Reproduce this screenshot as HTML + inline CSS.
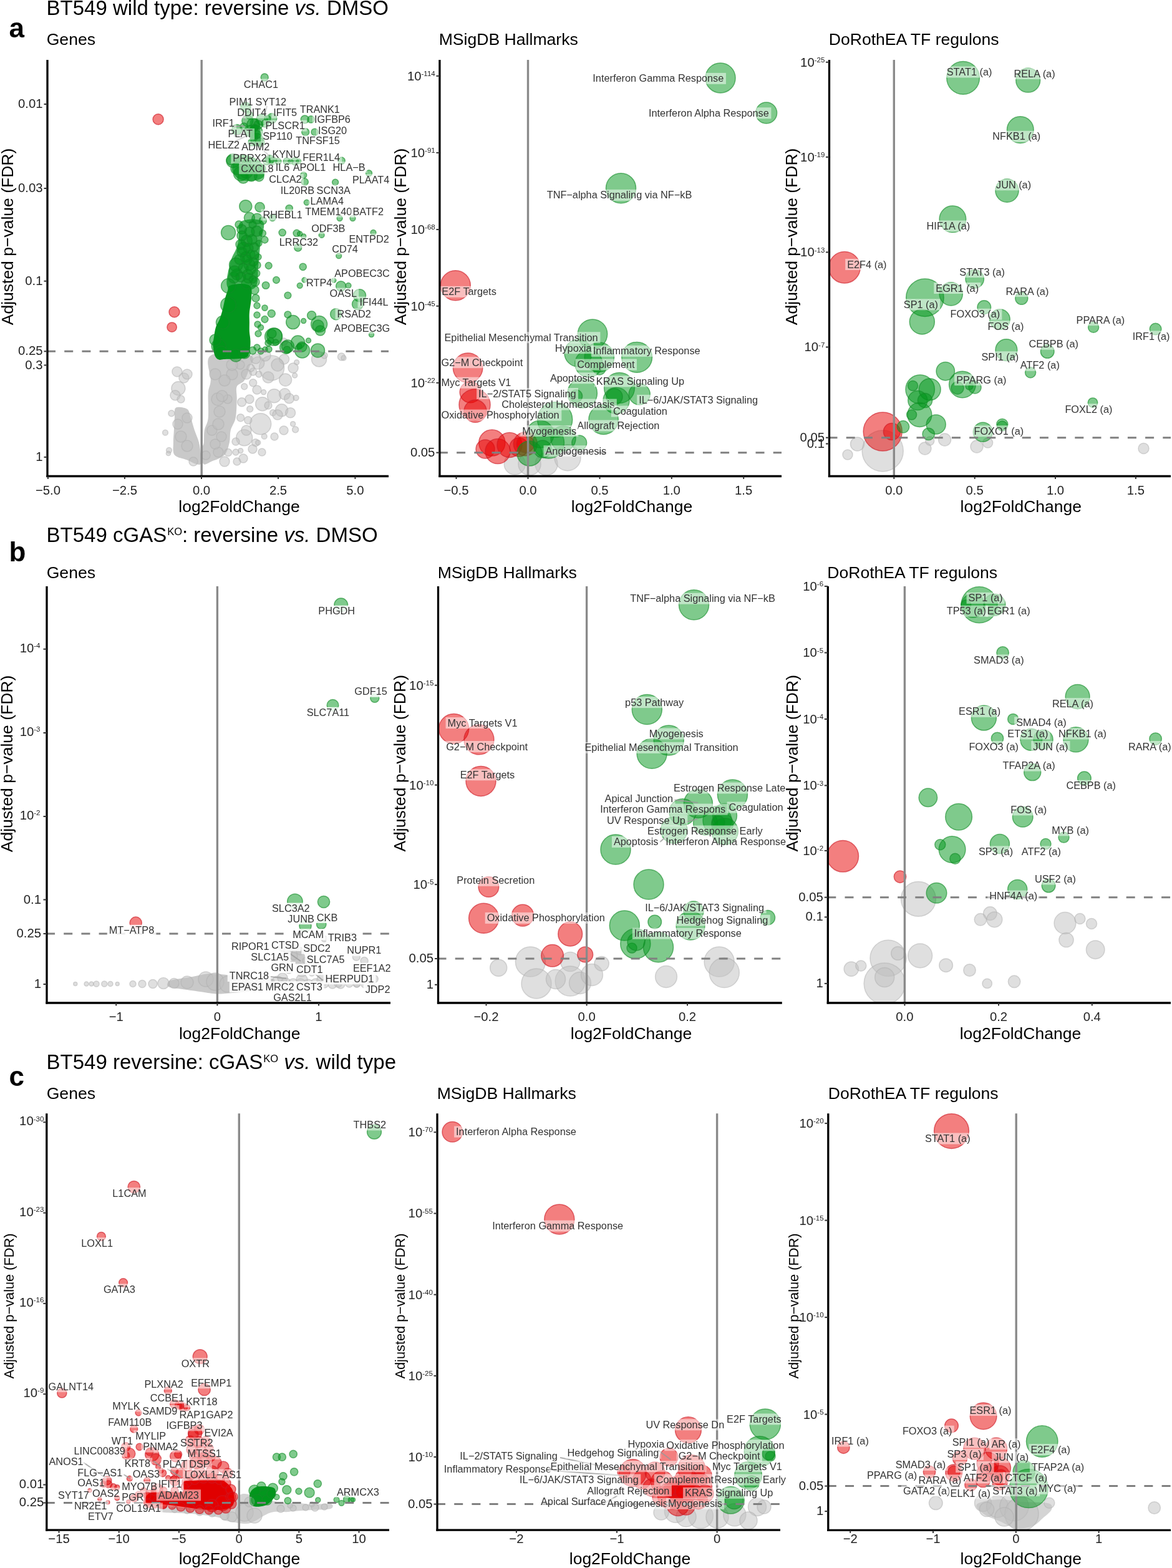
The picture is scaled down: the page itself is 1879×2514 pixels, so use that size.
<!DOCTYPE html><html><head><meta charset="utf-8"><title>Volcano plots</title><style>html,body{margin:0;padding:0;background:#fff;overflow:hidden}svg{display:block}text{font-family:"Liberation Sans", Arial, Helvetica, sans-serif}</style></head><body>
<svg width="1879" height="2514" viewBox="0 0 1879 2514">
<rect width="1879" height="2514" fill="#fff"/>
<text x="74.6" y="24.2" font-size="33" fill="#000">BT549 wild type: reversine <tspan font-style="italic">vs.</tspan> DMSO</text>
<text x="74.6" y="869" font-size="33" fill="#000">BT549 cGAS<tspan font-size="16.5" dy="-10.7" dx="1">KO</tspan><tspan dy="10.7">: reversine </tspan><tspan font-style="italic">vs.</tspan> DMSO</text>
<text x="74.6" y="1713.6" font-size="33" fill="#000">BT549 reversine: cGAS<tspan font-size="16.5" dy="-10.7" dx="1">KO</tspan><tspan dy="10.7"> </tspan><tspan font-style="italic">vs.</tspan> wild type</text>
<text x="14.5" y="60" font-size="44" font-weight="bold" fill="#000">a</text>
<text x="14.5" y="900" font-size="44" font-weight="bold" fill="#000">b</text>
<text x="14.5" y="1741" font-size="44" font-weight="bold" fill="#000">c</text>
<g>
<text x="74.7" y="72.3" font-size="26.6" fill="#000">Genes</text>
<text transform="translate(20.5,379.5) rotate(-90)" text-anchor="middle" font-size="26.5" fill="#000">Adjusted p−value (FDR)</text>
<text x="383.5" y="821.0" text-anchor="middle" font-size="26.5" fill="#000">log2FoldChange</text>
<clipPath id="cpa1"><rect x="76.0" y="94.0" width="550.0" height="669.5"/></clipPath>
<g clip-path="url(#cpa1)">
<path d="M337.8,569.9 C348.4,563.2 391.4,566.6 401.7,569.9 C412.0,573.2 401.4,583.2 399.7,589.9 C398.0,596.6 395.0,604.9 391.7,609.9 C388.4,614.9 381.7,614.8 379.7,619.8 C377.7,624.8 380.0,631.5 379.7,639.8 C379.4,648.1 379.4,661.4 377.8,669.7 C376.2,678.0 371.5,683.0 369.8,689.7 C368.1,696.4 369.5,703.1 367.8,709.7 C366.1,716.4 364.5,724.6 359.8,729.6 C355.1,734.6 345.5,737.3 339.8,739.6 C334.1,741.9 328.5,746.9 325.8,743.6 C323.1,740.3 323.6,725.4 323.8,719.7 C324.0,714.1 326.1,714.7 326.8,709.7 C327.5,704.7 326.6,696.4 327.8,689.7 C329.0,683.0 332.8,679.7 333.8,669.7 C334.8,659.7 333.1,639.8 333.8,629.8 C334.5,619.8 337.1,619.9 337.8,609.9 C338.5,599.9 327.2,576.6 337.8,569.9 Z" fill="#c9c9c9" fill-opacity="1.00"/>
<path d="M281.9,653.8 C285.2,651.5 295.9,653.1 299.9,655.8 C303.9,658.4 303.9,664.1 305.9,669.7 C307.9,675.4 309.9,683.7 311.9,689.7 C313.9,695.7 316.4,700.7 317.9,705.7 C319.4,710.7 320.1,713.7 320.9,719.7 C321.7,725.7 323.7,737.5 322.9,741.6 C322.1,745.8 319.7,745.3 315.9,744.6 C312.1,743.9 305.9,740.1 299.9,737.6 C293.9,735.1 283.6,734.2 279.9,729.6 C276.2,725.0 278.1,716.4 277.9,709.7 C277.7,703.1 278.6,696.4 278.9,689.7 C279.2,683.0 279.4,675.7 279.9,669.7 C280.4,663.7 278.6,656.1 281.9,653.8 Z" fill="#c9c9c9" fill-opacity="1.00"/>
<path d="M384.0,358.0 C386.5,353.3 393.3,353.0 398.0,352.0 C402.7,351.0 407.8,351.0 412.0,352.0 C416.2,353.0 421.7,353.3 423.0,358.0 C424.3,362.7 421.0,373.7 420.0,380.0 C419.0,386.3 418.0,388.0 417.0,396.0 C416.0,404.0 415.5,417.0 414.0,428.0 C412.5,439.0 416.0,456.3 408.0,462.0 C400.0,467.7 372.5,468.7 366.0,462.0 C359.5,455.3 366.8,432.7 369.0,422.0 C371.2,411.3 376.7,405.0 379.0,398.0 C381.3,391.0 382.2,386.7 383.0,380.0 C383.8,373.3 381.5,362.7 384.0,358.0 Z" fill="#03961e" fill-opacity="0.72"/>
<path d="M382.0,250.0 C386.7,246.7 393.7,248.0 400.0,250.0 C406.3,252.0 416.0,257.0 420.0,262.0 C424.0,267.0 424.8,275.7 424.0,280.0 C423.2,284.3 419.8,286.3 415.0,288.0 C410.2,289.7 400.8,290.5 395.0,290.0 C389.2,289.5 383.8,288.3 380.0,285.0 C376.2,281.7 371.7,275.8 372.0,270.0 C372.3,264.2 377.3,253.3 382.0,250.0 Z" fill="#03961e" fill-opacity="0.70"/>
<path d="M402.0,192.0 C403.8,189.5 409.5,188.7 412.0,190.0 C414.5,191.3 416.5,195.3 417.0,200.0 C417.5,204.7 416.3,213.7 415.0,218.0 C413.7,222.3 411.0,226.0 409.0,226.0 C407.0,226.0 404.3,221.5 403.0,218.0 C401.7,214.5 401.2,209.3 401.0,205.0 C400.8,200.7 400.2,194.5 402.0,192.0 Z" fill="#03961e" fill-opacity="0.60"/>
<path d="M368.0,458.0 C371.8,456.2 382.3,454.7 388.0,455.0 C393.7,455.3 399.5,456.1 402.0,460.0 C404.5,463.9 403.4,471.3 403.0,478.2 C402.6,485.1 400.4,494.9 399.9,501.3 C399.4,507.7 399.9,511.6 399.9,516.7 C399.9,521.8 399.6,526.9 399.9,532.0 C400.2,537.1 401.5,541.9 401.5,547.4 C401.5,552.9 401.2,560.6 399.7,565.0 C398.1,569.4 398.8,572.2 392.2,574.0 C385.6,575.8 366.9,575.6 360.0,576.0 C353.1,576.4 353.3,577.5 350.7,576.6 C348.1,575.7 346.1,574.1 344.6,570.5 C343.1,566.9 341.8,560.2 341.5,555.1 C341.2,550.0 342.3,544.8 343.1,539.7 C343.9,534.6 344.6,528.9 346.1,524.3 C347.6,519.7 350.2,516.7 352.0,512.0 C353.8,507.3 355.5,501.7 357.0,496.0 C358.5,490.3 359.7,483.0 361.0,478.0 C362.3,473.0 363.8,469.3 365.0,466.0 C366.2,462.7 364.2,459.8 368.0,458.0 Z" fill="#03961e" fill-opacity="1.00"/>
<circle cx="283.9" cy="595.9" r="8.0" fill="rgba(192,192,192,0.500)" stroke="rgba(175,175,175,0.5)" stroke-width="1.5"/>
<circle cx="294.9" cy="605.9" r="8.0" fill="rgba(192,192,192,0.500)" stroke="rgba(175,175,175,0.5)" stroke-width="1.5"/>
<circle cx="285.9" cy="622.8" r="11.0" fill="rgba(192,192,192,0.500)" stroke="rgba(175,175,175,0.5)" stroke-width="1.5"/>
<circle cx="280.9" cy="633.8" r="8.0" fill="rgba(192,192,192,0.500)" stroke="rgba(175,175,175,0.5)" stroke-width="1.5"/>
<circle cx="274.9" cy="662.8" r="5.0" fill="rgba(192,192,192,0.500)" stroke="rgba(175,175,175,0.5)" stroke-width="1.5"/>
<circle cx="265.0" cy="693.7" r="4.4" fill="rgba(192,192,192,0.500)" stroke="rgba(175,175,175,0.5)" stroke-width="1.5"/>
<circle cx="271.0" cy="722.0" r="4.4" fill="rgba(192,192,192,0.500)" stroke="rgba(175,175,175,0.5)" stroke-width="1.5"/>
<circle cx="270.0" cy="727.0" r="3.6" fill="rgba(192,192,192,0.500)" stroke="rgba(175,175,175,0.5)" stroke-width="1.5"/>
<circle cx="435.6" cy="589.9" r="20.0" fill="rgba(192,192,192,0.500)" stroke="rgba(175,175,175,0.5)" stroke-width="1.5"/>
<circle cx="413.7" cy="581.9" r="10.0" fill="rgba(192,192,192,0.500)" stroke="rgba(175,175,175,0.5)" stroke-width="1.5"/>
<circle cx="455.6" cy="575.9" r="8.0" fill="rgba(192,192,192,0.500)" stroke="rgba(175,175,175,0.5)" stroke-width="1.5"/>
<circle cx="511.5" cy="575.9" r="12.0" fill="rgba(192,192,192,0.500)" stroke="rgba(175,175,175,0.5)" stroke-width="1.5"/>
<circle cx="547.4" cy="571.9" r="6.0" fill="rgba(192,192,192,0.500)" stroke="rgba(175,175,175,0.5)" stroke-width="1.5"/>
<circle cx="551.0" cy="574.0" r="4.0" fill="rgba(192,192,192,0.500)" stroke="rgba(175,175,175,0.5)" stroke-width="1.5"/>
<circle cx="475.6" cy="580.9" r="4.0" fill="rgba(192,192,192,0.500)" stroke="rgba(175,175,175,0.5)" stroke-width="1.5"/>
<circle cx="457.6" cy="608.9" r="10.0" fill="rgba(192,192,192,0.500)" stroke="rgba(175,175,175,0.5)" stroke-width="1.5"/>
<circle cx="472.6" cy="602.0" r="4.0" fill="rgba(192,192,192,0.500)" stroke="rgba(175,175,175,0.5)" stroke-width="1.5"/>
<circle cx="405.7" cy="595.9" r="6.0" fill="rgba(192,192,192,0.500)" stroke="rgba(175,175,175,0.5)" stroke-width="1.5"/>
<circle cx="405.7" cy="613.8" r="6.0" fill="rgba(192,192,192,0.500)" stroke="rgba(175,175,175,0.5)" stroke-width="1.5"/>
<circle cx="391.7" cy="619.8" r="5.0" fill="rgba(192,192,192,0.500)" stroke="rgba(175,175,175,0.5)" stroke-width="1.5"/>
<circle cx="422.7" cy="628.8" r="4.0" fill="rgba(192,192,192,0.500)" stroke="rgba(175,175,175,0.5)" stroke-width="1.5"/>
<circle cx="439.6" cy="634.8" r="11.0" fill="rgba(192,192,192,0.500)" stroke="rgba(175,175,175,0.5)" stroke-width="1.5"/>
<circle cx="456.6" cy="631.8" r="9.0" fill="rgba(192,192,192,0.500)" stroke="rgba(175,175,175,0.5)" stroke-width="1.5"/>
<circle cx="463.6" cy="638.8" r="8.0" fill="rgba(192,192,192,0.500)" stroke="rgba(175,175,175,0.5)" stroke-width="1.5"/>
<circle cx="474.6" cy="637.8" r="4.4" fill="rgba(192,192,192,0.500)" stroke="rgba(175,175,175,0.5)" stroke-width="1.5"/>
<circle cx="420.7" cy="647.8" r="11.0" fill="rgba(192,192,192,0.500)" stroke="rgba(175,175,175,0.5)" stroke-width="1.5"/>
<circle cx="387.7" cy="644.8" r="7.0" fill="rgba(192,192,192,0.500)" stroke="rgba(175,175,175,0.5)" stroke-width="1.5"/>
<circle cx="400.7" cy="655.8" r="5.0" fill="rgba(192,192,192,0.500)" stroke="rgba(175,175,175,0.5)" stroke-width="1.5"/>
<circle cx="451.6" cy="657.8" r="10.0" fill="rgba(192,192,192,0.500)" stroke="rgba(175,175,175,0.5)" stroke-width="1.5"/>
<circle cx="465.6" cy="661.8" r="8.0" fill="rgba(192,192,192,0.500)" stroke="rgba(175,175,175,0.5)" stroke-width="1.5"/>
<circle cx="437.6" cy="661.8" r="5.0" fill="rgba(192,192,192,0.500)" stroke="rgba(175,175,175,0.5)" stroke-width="1.5"/>
<circle cx="417.7" cy="679.7" r="17.0" fill="rgba(192,192,192,0.500)" stroke="rgba(175,175,175,0.5)" stroke-width="1.5"/>
<circle cx="397.7" cy="673.7" r="6.0" fill="rgba(192,192,192,0.500)" stroke="rgba(175,175,175,0.5)" stroke-width="1.5"/>
<circle cx="385.7" cy="669.7" r="6.0" fill="rgba(192,192,192,0.500)" stroke="rgba(175,175,175,0.5)" stroke-width="1.5"/>
<circle cx="469.6" cy="679.7" r="4.0" fill="rgba(192,192,192,0.500)" stroke="rgba(175,175,175,0.5)" stroke-width="1.5"/>
<circle cx="473.6" cy="688.7" r="5.0" fill="rgba(192,192,192,0.500)" stroke="rgba(175,175,175,0.5)" stroke-width="1.5"/>
<circle cx="391.7" cy="701.7" r="13.0" fill="rgba(192,192,192,0.500)" stroke="rgba(175,175,175,0.5)" stroke-width="1.5"/>
<circle cx="423.7" cy="699.7" r="4.4" fill="rgba(192,192,192,0.500)" stroke="rgba(175,175,175,0.5)" stroke-width="1.5"/>
<circle cx="409.7" cy="709.7" r="6.0" fill="rgba(192,192,192,0.500)" stroke="rgba(175,175,175,0.5)" stroke-width="1.5"/>
<circle cx="413.7" cy="709.7" r="4.0" fill="rgba(192,192,192,0.500)" stroke="rgba(175,175,175,0.5)" stroke-width="1.5"/>
<circle cx="385.7" cy="722.7" r="4.0" fill="rgba(192,192,192,0.500)" stroke="rgba(175,175,175,0.5)" stroke-width="1.5"/>
<circle cx="365.8" cy="725.6" r="6.0" fill="rgba(192,192,192,0.500)" stroke="rgba(175,175,175,0.5)" stroke-width="1.5"/>
<circle cx="350.0" cy="725.0" r="8.0" fill="rgba(192,192,192,0.500)" stroke="rgba(175,175,175,0.5)" stroke-width="1.5"/>
<circle cx="345.0" cy="712.0" r="8.0" fill="rgba(192,192,192,0.500)" stroke="rgba(175,175,175,0.5)" stroke-width="1.5"/>
<circle cx="339.8" cy="690.0" r="8.0" fill="rgba(192,192,192,0.500)" stroke="rgba(175,175,175,0.5)" stroke-width="1.5"/>
<circle cx="365.0" cy="640.0" r="7.0" fill="rgba(192,192,192,0.500)" stroke="rgba(175,175,175,0.5)" stroke-width="1.5"/>
<circle cx="372.0" cy="600.0" r="9.0" fill="rgba(192,192,192,0.500)" stroke="rgba(175,175,175,0.5)" stroke-width="1.5"/>
<circle cx="349.0" cy="640.0" r="10.0" fill="rgba(192,192,192,0.500)" stroke="rgba(175,175,175,0.5)" stroke-width="1.5"/>
<circle cx="345.0" cy="600.0" r="9.0" fill="rgba(192,192,192,0.500)" stroke="rgba(175,175,175,0.5)" stroke-width="1.5"/>
<circle cx="330.0" cy="730.0" r="7.0" fill="rgba(192,192,192,0.500)" stroke="rgba(175,175,175,0.5)" stroke-width="1.5"/>
<circle cx="402.0" cy="590.0" r="6.0" fill="rgba(192,192,192,0.500)" stroke="rgba(175,175,175,0.5)" stroke-width="1.5"/>
<circle cx="415.0" cy="600.0" r="5.0" fill="rgba(192,192,192,0.500)" stroke="rgba(175,175,175,0.5)" stroke-width="1.5"/>
<circle cx="378.0" cy="708.0" r="6.0" fill="rgba(192,192,192,0.500)" stroke="rgba(175,175,175,0.5)" stroke-width="1.5"/>
<circle cx="378.0" cy="725.0" r="5.0" fill="rgba(192,192,192,0.500)" stroke="rgba(175,175,175,0.5)" stroke-width="1.5"/>
<circle cx="455.0" cy="548.0" r="6.0" fill="rgba(192,192,192,0.500)" stroke="rgba(175,175,175,0.5)" stroke-width="1.5"/>
<circle cx="520.0" cy="570.0" r="5.0" fill="rgba(192,192,192,0.500)" stroke="rgba(175,175,175,0.5)" stroke-width="1.5"/>
<circle cx="410.0" cy="575.0" r="8.0" fill="rgba(192,192,192,0.500)" stroke="rgba(175,175,175,0.5)" stroke-width="1.5"/>
<circle cx="425.0" cy="570.0" r="9.0" fill="rgba(192,192,192,0.500)" stroke="rgba(175,175,175,0.5)" stroke-width="1.5"/>
<circle cx="445.0" cy="585.0" r="10.0" fill="rgba(192,192,192,0.500)" stroke="rgba(175,175,175,0.5)" stroke-width="1.5"/>
<circle cx="470.0" cy="590.0" r="8.0" fill="rgba(192,192,192,0.500)" stroke="rgba(175,175,175,0.5)" stroke-width="1.5"/>
<circle cx="430.0" cy="605.0" r="9.0" fill="rgba(192,192,192,0.500)" stroke="rgba(175,175,175,0.5)" stroke-width="1.5"/>
<circle cx="395.0" cy="600.0" r="8.0" fill="rgba(192,192,192,0.500)" stroke="rgba(175,175,175,0.5)" stroke-width="1.5"/>
<circle cx="385.0" cy="585.0" r="7.0" fill="rgba(192,192,192,0.500)" stroke="rgba(175,175,175,0.5)" stroke-width="1.5"/>
<circle cx="412.0" cy="625.0" r="7.0" fill="rgba(192,192,192,0.500)" stroke="rgba(175,175,175,0.5)" stroke-width="1.5"/>
<circle cx="430.0" cy="650.0" r="6.0" fill="rgba(192,192,192,0.500)" stroke="rgba(175,175,175,0.5)" stroke-width="1.5"/>
<circle cx="445.0" cy="665.0" r="8.0" fill="rgba(192,192,192,0.500)" stroke="rgba(175,175,175,0.5)" stroke-width="1.5"/>
<circle cx="400.0" cy="640.0" r="7.0" fill="rgba(192,192,192,0.500)" stroke="rgba(175,175,175,0.5)" stroke-width="1.5"/>
<circle cx="395.0" cy="690.0" r="8.0" fill="rgba(192,192,192,0.500)" stroke="rgba(175,175,175,0.5)" stroke-width="1.5"/>
<circle cx="405.0" cy="720.0" r="7.0" fill="rgba(192,192,192,0.500)" stroke="rgba(175,175,175,0.5)" stroke-width="1.5"/>
<circle cx="420.0" cy="725.0" r="6.0" fill="rgba(192,192,192,0.500)" stroke="rgba(175,175,175,0.5)" stroke-width="1.5"/>
<circle cx="440.0" cy="700.0" r="6.0" fill="rgba(192,192,192,0.500)" stroke="rgba(175,175,175,0.5)" stroke-width="1.5"/>
<circle cx="455.0" cy="690.0" r="7.0" fill="rgba(192,192,192,0.500)" stroke="rgba(175,175,175,0.5)" stroke-width="1.5"/>
<circle cx="380.0" cy="740.0" r="6.0" fill="rgba(192,192,192,0.500)" stroke="rgba(175,175,175,0.5)" stroke-width="1.5"/>
<circle cx="390.0" cy="735.0" r="7.0" fill="rgba(192,192,192,0.500)" stroke="rgba(175,175,175,0.5)" stroke-width="1.5"/>
<circle cx="360.0" cy="740.0" r="8.0" fill="rgba(192,192,192,0.500)" stroke="rgba(175,175,175,0.5)" stroke-width="1.5"/>
<circle cx="355.0" cy="700.0" r="8.0" fill="rgba(192,192,192,0.500)" stroke="rgba(175,175,175,0.5)" stroke-width="1.5"/>
<circle cx="350.0" cy="680.0" r="9.0" fill="rgba(192,192,192,0.500)" stroke="rgba(175,175,175,0.5)" stroke-width="1.5"/>
<circle cx="352.0" cy="660.0" r="9.0" fill="rgba(192,192,192,0.500)" stroke="rgba(175,175,175,0.5)" stroke-width="1.5"/>
<circle cx="356.0" cy="635.0" r="9.0" fill="rgba(192,192,192,0.500)" stroke="rgba(175,175,175,0.5)" stroke-width="1.5"/>
<circle cx="360.0" cy="610.0" r="9.0" fill="rgba(192,192,192,0.500)" stroke="rgba(175,175,175,0.5)" stroke-width="1.5"/>
<circle cx="372.0" cy="585.0" r="9.0" fill="rgba(192,192,192,0.500)" stroke="rgba(175,175,175,0.5)" stroke-width="1.5"/>
<circle cx="290.0" cy="700.0" r="9.0" fill="rgba(192,192,192,0.500)" stroke="rgba(175,175,175,0.5)" stroke-width="1.5"/>
<circle cx="300.0" cy="715.0" r="9.0" fill="rgba(192,192,192,0.500)" stroke="rgba(175,175,175,0.5)" stroke-width="1.5"/>
<circle cx="285.0" cy="680.0" r="8.0" fill="rgba(192,192,192,0.500)" stroke="rgba(175,175,175,0.5)" stroke-width="1.5"/>
<circle cx="300.0" cy="670.0" r="8.0" fill="rgba(192,192,192,0.500)" stroke="rgba(175,175,175,0.5)" stroke-width="1.5"/>
<circle cx="300.0" cy="600.0" r="8.0" fill="rgba(192,192,192,0.500)" stroke="rgba(175,175,175,0.5)" stroke-width="1.5"/>
<circle cx="290.0" cy="640.0" r="6.0" fill="rgba(192,192,192,0.500)" stroke="rgba(175,175,175,0.5)" stroke-width="1.5"/>
<circle cx="310.0" cy="740.0" r="7.0" fill="rgba(192,192,192,0.500)" stroke="rgba(175,175,175,0.5)" stroke-width="1.5"/>
<circle cx="424.2" cy="124.0" r="6.0" fill="rgba(0,150,25,0.500)" stroke="rgba(20,140,40,0.62)" stroke-width="1.5"/>
<circle cx="393.8" cy="171.9" r="8.0" fill="rgba(0,150,25,0.500)" stroke="rgba(20,140,40,0.62)" stroke-width="1.5"/>
<circle cx="396.8" cy="193.8" r="9.0" fill="rgba(0,150,25,0.500)" stroke="rgba(20,140,40,0.62)" stroke-width="1.5"/>
<circle cx="405.8" cy="199.8" r="10.0" fill="rgba(0,150,25,0.500)" stroke="rgba(20,140,40,0.62)" stroke-width="1.5"/>
<circle cx="419.8" cy="191.8" r="9.0" fill="rgba(0,150,25,0.500)" stroke="rgba(20,140,40,0.62)" stroke-width="1.5"/>
<circle cx="435.8" cy="189.8" r="8.0" fill="rgba(0,150,25,0.500)" stroke="rgba(20,140,40,0.62)" stroke-width="1.5"/>
<circle cx="379.9" cy="207.8" r="8.4" fill="rgba(0,150,25,0.500)" stroke="rgba(20,140,40,0.62)" stroke-width="1.5"/>
<circle cx="409.8" cy="211.8" r="11.0" fill="rgba(0,150,25,0.500)" stroke="rgba(20,140,40,0.62)" stroke-width="1.5"/>
<circle cx="411.8" cy="223.8" r="10.0" fill="rgba(0,150,25,0.500)" stroke="rgba(20,140,40,0.62)" stroke-width="1.5"/>
<circle cx="401.0" cy="210.0" r="9.0" fill="rgba(0,150,25,0.500)" stroke="rgba(20,140,40,0.62)" stroke-width="1.5"/>
<circle cx="414.0" cy="200.0" r="7.0" fill="rgba(0,150,25,0.500)" stroke="rgba(20,140,40,0.62)" stroke-width="1.5"/>
<circle cx="408.0" cy="205.0" r="6.0" fill="rgba(0,150,25,0.500)" stroke="rgba(20,140,40,0.62)" stroke-width="1.5"/>
<circle cx="412.0" cy="215.0" r="6.0" fill="rgba(0,150,25,0.500)" stroke="rgba(20,140,40,0.62)" stroke-width="1.5"/>
<circle cx="406.0" cy="218.0" r="6.0" fill="rgba(0,150,25,0.500)" stroke="rgba(20,140,40,0.62)" stroke-width="1.5"/>
<circle cx="425.0" cy="198.0" r="6.0" fill="rgba(0,150,25,0.500)" stroke="rgba(20,140,40,0.62)" stroke-width="1.5"/>
<circle cx="429.0" cy="190.0" r="5.0" fill="rgba(0,150,25,0.500)" stroke="rgba(20,140,40,0.62)" stroke-width="1.5"/>
<circle cx="400.0" cy="185.0" r="6.0" fill="rgba(0,150,25,0.500)" stroke="rgba(20,140,40,0.62)" stroke-width="1.5"/>
<circle cx="391.0" cy="203.0" r="6.0" fill="rgba(0,150,25,0.500)" stroke="rgba(20,140,40,0.62)" stroke-width="1.5"/>
<circle cx="417.0" cy="228.0" r="7.0" fill="rgba(0,150,25,0.500)" stroke="rgba(20,140,40,0.62)" stroke-width="1.5"/>
<circle cx="404.0" cy="228.0" r="6.0" fill="rgba(0,150,25,0.500)" stroke="rgba(20,140,40,0.62)" stroke-width="1.5"/>
<circle cx="488.7" cy="191.4" r="6.4" fill="rgba(0,150,25,0.500)" stroke="rgba(20,140,40,0.62)" stroke-width="1.5"/>
<circle cx="498.6" cy="191.4" r="5.6" fill="rgba(0,150,25,0.500)" stroke="rgba(20,140,40,0.62)" stroke-width="1.5"/>
<circle cx="489.7" cy="211.8" r="6.0" fill="rgba(0,150,25,0.500)" stroke="rgba(20,140,40,0.62)" stroke-width="1.5"/>
<circle cx="504.6" cy="211.8" r="5.6" fill="rgba(0,150,25,0.500)" stroke="rgba(20,140,40,0.62)" stroke-width="1.5"/>
<circle cx="432.8" cy="255.7" r="7.0" fill="rgba(0,150,25,0.500)" stroke="rgba(20,140,40,0.62)" stroke-width="1.5"/>
<circle cx="438.0" cy="258.0" r="6.0" fill="rgba(0,150,25,0.500)" stroke="rgba(20,140,40,0.62)" stroke-width="1.5"/>
<circle cx="446.0" cy="258.7" r="5.0" fill="rgba(0,150,25,0.500)" stroke="rgba(20,140,40,0.62)" stroke-width="1.5"/>
<circle cx="459.7" cy="258.7" r="5.6" fill="rgba(0,150,25,0.500)" stroke="rgba(20,140,40,0.62)" stroke-width="1.5"/>
<circle cx="472.7" cy="258.7" r="6.0" fill="rgba(0,150,25,0.500)" stroke="rgba(20,140,40,0.62)" stroke-width="1.5"/>
<circle cx="466.0" cy="258.7" r="4.0" fill="rgba(0,150,25,0.500)" stroke="rgba(20,140,40,0.62)" stroke-width="1.5"/>
<circle cx="479.0" cy="258.7" r="4.0" fill="rgba(0,150,25,0.500)" stroke="rgba(20,140,40,0.62)" stroke-width="1.5"/>
<circle cx="547.6" cy="257.7" r="5.6" fill="rgba(0,150,25,0.500)" stroke="rgba(20,140,40,0.62)" stroke-width="1.5"/>
<circle cx="373.9" cy="257.7" r="11.0" fill="rgba(0,150,25,0.500)" stroke="rgba(20,140,40,0.62)" stroke-width="1.5"/>
<circle cx="370.7" cy="256.9" r="7.7" fill="rgba(0,150,25,0.500)" stroke="rgba(20,140,40,0.62)" stroke-width="1.5"/>
<circle cx="386.1" cy="278.4" r="11.5" fill="rgba(0,150,25,0.500)" stroke="rgba(20,140,40,0.62)" stroke-width="1.5"/>
<circle cx="380.0" cy="270.0" r="10.0" fill="rgba(0,150,25,0.500)" stroke="rgba(20,140,40,0.62)" stroke-width="1.5"/>
<circle cx="395.0" cy="276.0" r="10.0" fill="rgba(0,150,25,0.500)" stroke="rgba(20,140,40,0.62)" stroke-width="1.5"/>
<circle cx="403.0" cy="281.5" r="9.2" fill="rgba(0,150,25,0.500)" stroke="rgba(20,140,40,0.62)" stroke-width="1.5"/>
<circle cx="415.3" cy="283.0" r="7.7" fill="rgba(0,150,25,0.500)" stroke="rgba(20,140,40,0.62)" stroke-width="1.5"/>
<circle cx="390.0" cy="285.0" r="9.0" fill="rgba(0,150,25,0.500)" stroke="rgba(20,140,40,0.62)" stroke-width="1.5"/>
<circle cx="405.0" cy="272.0" r="7.0" fill="rgba(0,150,25,0.500)" stroke="rgba(20,140,40,0.62)" stroke-width="1.5"/>
<circle cx="420.0" cy="270.0" r="6.0" fill="rgba(0,150,25,0.500)" stroke="rgba(20,140,40,0.62)" stroke-width="1.5"/>
<circle cx="427.6" cy="258.4" r="6.0" fill="rgba(0,150,25,0.500)" stroke="rgba(20,140,40,0.62)" stroke-width="1.5"/>
<circle cx="395.0" cy="262.0" r="7.0" fill="rgba(0,150,25,0.500)" stroke="rgba(20,140,40,0.62)" stroke-width="1.5"/>
<circle cx="486.7" cy="280.7" r="5.0" fill="rgba(0,150,25,0.500)" stroke="rgba(20,140,40,0.62)" stroke-width="1.5"/>
<circle cx="488.7" cy="291.7" r="5.6" fill="rgba(0,150,25,0.500)" stroke="rgba(20,140,40,0.62)" stroke-width="1.5"/>
<circle cx="591.5" cy="277.7" r="5.0" fill="rgba(0,150,25,0.500)" stroke="rgba(20,140,40,0.62)" stroke-width="1.5"/>
<circle cx="537.6" cy="292.3" r="5.0" fill="rgba(0,150,25,0.500)" stroke="rgba(20,140,40,0.62)" stroke-width="1.5"/>
<circle cx="491.7" cy="324.6" r="4.4" fill="rgba(0,150,25,0.500)" stroke="rgba(20,140,40,0.62)" stroke-width="1.5"/>
<circle cx="393.8" cy="330.7" r="10.0" fill="rgba(0,150,25,0.500)" stroke="rgba(20,140,40,0.62)" stroke-width="1.5"/>
<circle cx="416.5" cy="332.2" r="7.7" fill="rgba(0,150,25,0.500)" stroke="rgba(20,140,40,0.62)" stroke-width="1.5"/>
<circle cx="399.9" cy="349.1" r="8.5" fill="rgba(0,150,25,0.500)" stroke="rgba(20,140,40,0.62)" stroke-width="1.5"/>
<circle cx="412.2" cy="350.7" r="8.5" fill="rgba(0,150,25,0.500)" stroke="rgba(20,140,40,0.62)" stroke-width="1.5"/>
<circle cx="421.4" cy="353.7" r="6.0" fill="rgba(0,150,25,0.500)" stroke="rgba(20,140,40,0.62)" stroke-width="1.5"/>
<circle cx="436.8" cy="349.1" r="5.4" fill="rgba(0,150,25,0.500)" stroke="rgba(20,140,40,0.62)" stroke-width="1.5"/>
<circle cx="463.7" cy="334.0" r="5.6" fill="rgba(0,150,25,0.500)" stroke="rgba(20,140,40,0.62)" stroke-width="1.5"/>
<circle cx="544.6" cy="350.0" r="4.4" fill="rgba(0,150,25,0.500)" stroke="rgba(20,140,40,0.62)" stroke-width="1.5"/>
<circle cx="565.5" cy="350.0" r="4.4" fill="rgba(0,150,25,0.500)" stroke="rgba(20,140,40,0.62)" stroke-width="1.5"/>
<circle cx="366.1" cy="373.0" r="11.5" fill="rgba(0,150,25,0.500)" stroke="rgba(20,140,40,0.62)" stroke-width="1.5"/>
<circle cx="387.6" cy="367.6" r="7.7" fill="rgba(0,150,25,0.500)" stroke="rgba(20,140,40,0.62)" stroke-width="1.5"/>
<circle cx="411.5" cy="370.6" r="8.5" fill="rgba(0,150,25,0.500)" stroke="rgba(20,140,40,0.62)" stroke-width="1.5"/>
<circle cx="421.0" cy="374.0" r="5.4" fill="rgba(0,150,25,0.500)" stroke="rgba(20,140,40,0.62)" stroke-width="1.5"/>
<circle cx="424.5" cy="384.5" r="5.4" fill="rgba(0,150,25,0.500)" stroke="rgba(20,140,40,0.62)" stroke-width="1.5"/>
<circle cx="395.3" cy="386.0" r="9.2" fill="rgba(0,150,25,0.500)" stroke="rgba(20,140,40,0.62)" stroke-width="1.5"/>
<circle cx="390.7" cy="398.3" r="10.0" fill="rgba(0,150,25,0.500)" stroke="rgba(20,140,40,0.62)" stroke-width="1.5"/>
<circle cx="407.6" cy="396.0" r="7.0" fill="rgba(0,150,25,0.500)" stroke="rgba(20,140,40,0.62)" stroke-width="1.5"/>
<circle cx="415.0" cy="390.0" r="5.0" fill="rgba(0,150,25,0.500)" stroke="rgba(20,140,40,0.62)" stroke-width="1.5"/>
<circle cx="452.7" cy="372.9" r="5.6" fill="rgba(0,150,25,0.500)" stroke="rgba(20,140,40,0.62)" stroke-width="1.5"/>
<circle cx="475.7" cy="373.9" r="5.6" fill="rgba(0,150,25,0.500)" stroke="rgba(20,140,40,0.62)" stroke-width="1.5"/>
<circle cx="480.7" cy="374.9" r="4.0" fill="rgba(0,150,25,0.500)" stroke="rgba(20,140,40,0.62)" stroke-width="1.5"/>
<circle cx="486.7" cy="378.9" r="4.0" fill="rgba(0,150,25,0.500)" stroke="rgba(20,140,40,0.62)" stroke-width="1.5"/>
<circle cx="515.6" cy="376.9" r="4.4" fill="rgba(0,150,25,0.500)" stroke="rgba(20,140,40,0.62)" stroke-width="1.5"/>
<circle cx="598.5" cy="372.9" r="4.4" fill="rgba(0,150,25,0.500)" stroke="rgba(20,140,40,0.62)" stroke-width="1.5"/>
<circle cx="477.7" cy="396.9" r="6.0" fill="rgba(0,150,25,0.500)" stroke="rgba(20,140,40,0.62)" stroke-width="1.5"/>
<circle cx="543.2" cy="410.2" r="4.4" fill="rgba(0,150,25,0.500)" stroke="rgba(20,140,40,0.62)" stroke-width="1.5"/>
<circle cx="407.6" cy="409.1" r="7.0" fill="rgba(0,150,25,0.500)" stroke="rgba(20,140,40,0.62)" stroke-width="1.5"/>
<circle cx="393.8" cy="412.0" r="8.5" fill="rgba(0,150,25,0.500)" stroke="rgba(20,140,40,0.62)" stroke-width="1.5"/>
<circle cx="378.4" cy="424.4" r="10.8" fill="rgba(0,150,25,0.500)" stroke="rgba(20,140,40,0.62)" stroke-width="1.5"/>
<circle cx="399.9" cy="424.4" r="9.2" fill="rgba(0,150,25,0.500)" stroke="rgba(20,140,40,0.62)" stroke-width="1.5"/>
<circle cx="410.7" cy="438.3" r="6.0" fill="rgba(0,150,25,0.500)" stroke="rgba(20,140,40,0.62)" stroke-width="1.5"/>
<circle cx="380.0" cy="440.0" r="9.0" fill="rgba(0,150,25,0.500)" stroke="rgba(20,140,40,0.62)" stroke-width="1.5"/>
<circle cx="397.0" cy="440.0" r="8.0" fill="rgba(0,150,25,0.500)" stroke="rgba(20,140,40,0.62)" stroke-width="1.5"/>
<circle cx="430.7" cy="426.0" r="5.4" fill="rgba(0,150,25,0.500)" stroke="rgba(20,140,40,0.62)" stroke-width="1.5"/>
<circle cx="485.7" cy="427.8" r="5.6" fill="rgba(0,150,25,0.500)" stroke="rgba(20,140,40,0.62)" stroke-width="1.5"/>
<circle cx="443.0" cy="449.0" r="5.4" fill="rgba(0,150,25,0.500)" stroke="rgba(20,140,40,0.62)" stroke-width="1.5"/>
<circle cx="426.1" cy="457.5" r="5.8" fill="rgba(0,150,25,0.500)" stroke="rgba(20,140,40,0.62)" stroke-width="1.5"/>
<circle cx="366.1" cy="458.3" r="11.5" fill="rgba(0,150,25,0.500)" stroke="rgba(20,140,40,0.62)" stroke-width="1.5"/>
<circle cx="409.0" cy="452.0" r="7.0" fill="rgba(0,150,25,0.500)" stroke="rgba(20,140,40,0.62)" stroke-width="1.5"/>
<circle cx="408.0" cy="465.0" r="7.0" fill="rgba(0,150,25,0.500)" stroke="rgba(20,140,40,0.62)" stroke-width="1.5"/>
<circle cx="410.0" cy="478.0" r="6.0" fill="rgba(0,150,25,0.500)" stroke="rgba(20,140,40,0.62)" stroke-width="1.5"/>
<circle cx="412.0" cy="490.0" r="5.0" fill="rgba(0,150,25,0.500)" stroke="rgba(20,140,40,0.62)" stroke-width="1.5"/>
<circle cx="412.0" cy="505.0" r="5.0" fill="rgba(0,150,25,0.500)" stroke="rgba(20,140,40,0.62)" stroke-width="1.5"/>
<circle cx="413.0" cy="520.0" r="5.0" fill="rgba(0,150,25,0.500)" stroke="rgba(20,140,40,0.62)" stroke-width="1.5"/>
<circle cx="414.0" cy="535.0" r="5.0" fill="rgba(0,150,25,0.500)" stroke="rgba(20,140,40,0.62)" stroke-width="1.5"/>
<circle cx="480.7" cy="457.8" r="4.4" fill="rgba(0,150,25,0.500)" stroke="rgba(20,140,40,0.62)" stroke-width="1.5"/>
<circle cx="488.0" cy="449.0" r="4.0" fill="rgba(0,150,25,0.500)" stroke="rgba(20,140,40,0.62)" stroke-width="1.5"/>
<circle cx="535.2" cy="449.4" r="3.6" fill="rgba(0,150,25,0.500)" stroke="rgba(20,140,40,0.62)" stroke-width="1.5"/>
<circle cx="546.6" cy="458.8" r="8.0" fill="rgba(0,150,25,0.500)" stroke="rgba(20,140,40,0.62)" stroke-width="1.5"/>
<circle cx="558.5" cy="457.8" r="4.4" fill="rgba(0,150,25,0.500)" stroke="rgba(20,140,40,0.62)" stroke-width="1.5"/>
<circle cx="576.5" cy="473.7" r="10.0" fill="rgba(0,150,25,0.500)" stroke="rgba(20,140,40,0.62)" stroke-width="1.5"/>
<circle cx="573.5" cy="487.7" r="9.0" fill="rgba(0,150,25,0.500)" stroke="rgba(20,140,40,0.62)" stroke-width="1.5"/>
<circle cx="461.4" cy="473.6" r="5.4" fill="rgba(0,150,25,0.500)" stroke="rgba(20,140,40,0.62)" stroke-width="1.5"/>
<circle cx="366.1" cy="489.0" r="12.3" fill="rgba(0,150,25,0.500)" stroke="rgba(20,140,40,0.62)" stroke-width="1.5"/>
<circle cx="424.5" cy="493.6" r="4.6" fill="rgba(0,150,25,0.500)" stroke="rgba(20,140,40,0.62)" stroke-width="1.5"/>
<circle cx="435.3" cy="502.8" r="6.0" fill="rgba(0,150,25,0.500)" stroke="rgba(20,140,40,0.62)" stroke-width="1.5"/>
<circle cx="461.4" cy="504.4" r="5.4" fill="rgba(0,150,25,0.500)" stroke="rgba(20,140,40,0.62)" stroke-width="1.5"/>
<circle cx="424.5" cy="512.0" r="5.4" fill="rgba(0,150,25,0.500)" stroke="rgba(20,140,40,0.62)" stroke-width="1.5"/>
<circle cx="418.0" cy="525.0" r="4.6" fill="rgba(0,150,25,0.500)" stroke="rgba(20,140,40,0.62)" stroke-width="1.5"/>
<circle cx="499.6" cy="505.7" r="7.0" fill="rgba(0,150,25,0.500)" stroke="rgba(20,140,40,0.62)" stroke-width="1.5"/>
<circle cx="469.7" cy="516.6" r="11.0" fill="rgba(0,150,25,0.500)" stroke="rgba(20,140,40,0.62)" stroke-width="1.5"/>
<circle cx="486.7" cy="514.6" r="4.0" fill="rgba(0,150,25,0.500)" stroke="rgba(20,140,40,0.62)" stroke-width="1.5"/>
<circle cx="511.6" cy="519.6" r="13.0" fill="rgba(0,150,25,0.500)" stroke="rgba(20,140,40,0.62)" stroke-width="1.5"/>
<circle cx="510.0" cy="522.0" r="9.0" fill="rgba(0,150,25,0.500)" stroke="rgba(20,140,40,0.62)" stroke-width="1.5"/>
<circle cx="538.6" cy="503.7" r="9.0" fill="rgba(0,150,25,0.500)" stroke="rgba(20,140,40,0.62)" stroke-width="1.5"/>
<circle cx="439.9" cy="538.2" r="12.3" fill="rgba(0,150,25,0.500)" stroke="rgba(20,140,40,0.62)" stroke-width="1.5"/>
<circle cx="436.0" cy="535.0" r="7.0" fill="rgba(0,150,25,0.500)" stroke="rgba(20,140,40,0.62)" stroke-width="1.5"/>
<circle cx="430.0" cy="550.0" r="5.0" fill="rgba(0,150,25,0.500)" stroke="rgba(20,140,40,0.62)" stroke-width="1.5"/>
<circle cx="461.4" cy="555.1" r="10.0" fill="rgba(0,150,25,0.500)" stroke="rgba(20,140,40,0.62)" stroke-width="1.5"/>
<circle cx="595.5" cy="536.6" r="4.0" fill="rgba(0,150,25,0.500)" stroke="rgba(20,140,40,0.62)" stroke-width="1.5"/>
<circle cx="350.7" cy="555.1" r="11.5" fill="rgba(0,150,25,0.500)" stroke="rgba(20,140,40,0.62)" stroke-width="1.5"/>
<circle cx="357.0" cy="517.0" r="10.5" fill="rgba(0,150,25,0.500)" stroke="rgba(20,140,40,0.62)" stroke-width="1.5"/>
<circle cx="345.0" cy="545.0" r="9.0" fill="rgba(0,150,25,0.500)" stroke="rgba(20,140,40,0.62)" stroke-width="1.5"/>
<circle cx="355.0" cy="565.0" r="10.0" fill="rgba(0,150,25,0.500)" stroke="rgba(20,140,40,0.62)" stroke-width="1.5"/>
<circle cx="378.0" cy="570.0" r="10.0" fill="rgba(0,150,25,0.500)" stroke="rgba(20,140,40,0.62)" stroke-width="1.5"/>
<circle cx="392.0" cy="566.0" r="9.0" fill="rgba(0,150,25,0.500)" stroke="rgba(20,140,40,0.62)" stroke-width="1.5"/>
<circle cx="480.0" cy="555.0" r="4.0" fill="rgba(0,150,25,0.500)" stroke="rgba(20,140,40,0.62)" stroke-width="1.5"/>
<circle cx="438.6" cy="540.0" r="14.0" fill="rgba(0,150,25,0.500)" stroke="rgba(20,140,40,0.62)" stroke-width="1.5"/>
<circle cx="434.0" cy="546.0" r="5.0" fill="rgba(0,150,25,0.500)" stroke="rgba(20,140,40,0.62)" stroke-width="1.5"/>
<circle cx="442.0" cy="549.0" r="5.0" fill="rgba(0,150,25,0.500)" stroke="rgba(20,140,40,0.62)" stroke-width="1.5"/>
<circle cx="458.6" cy="557.0" r="10.0" fill="rgba(0,150,25,0.500)" stroke="rgba(20,140,40,0.62)" stroke-width="1.5"/>
<circle cx="460.0" cy="561.0" r="6.0" fill="rgba(0,150,25,0.500)" stroke="rgba(20,140,40,0.62)" stroke-width="1.5"/>
<circle cx="477.6" cy="549.0" r="11.0" fill="rgba(0,150,25,0.500)" stroke="rgba(20,140,40,0.62)" stroke-width="1.5"/>
<circle cx="484.6" cy="561.9" r="12.0" fill="rgba(0,150,25,0.500)" stroke="rgba(20,140,40,0.62)" stroke-width="1.5"/>
<circle cx="484.0" cy="556.0" r="8.0" fill="rgba(0,150,25,0.500)" stroke="rgba(20,140,40,0.62)" stroke-width="1.5"/>
<circle cx="494.5" cy="546.0" r="4.0" fill="rgba(0,150,25,0.500)" stroke="rgba(20,140,40,0.62)" stroke-width="1.5"/>
<circle cx="509.5" cy="561.9" r="11.0" fill="rgba(0,150,25,0.500)" stroke="rgba(20,140,40,0.62)" stroke-width="1.5"/>
<circle cx="513.5" cy="530.0" r="8.0" fill="rgba(0,150,25,0.500)" stroke="rgba(20,140,40,0.62)" stroke-width="1.5"/>
<circle cx="405.0" cy="562.0" r="6.0" fill="rgba(0,150,25,0.500)" stroke="rgba(20,140,40,0.62)" stroke-width="1.5"/>
<circle cx="412.0" cy="557.0" r="5.0" fill="rgba(0,150,25,0.500)" stroke="rgba(20,140,40,0.62)" stroke-width="1.5"/>
<circle cx="418.0" cy="563.0" r="5.0" fill="rgba(0,150,25,0.500)" stroke="rgba(20,140,40,0.62)" stroke-width="1.5"/>
<circle cx="425.0" cy="560.0" r="4.0" fill="rgba(0,150,25,0.500)" stroke="rgba(20,140,40,0.62)" stroke-width="1.5"/>
<circle cx="431.0" cy="560.0" r="5.0" fill="rgba(0,150,25,0.500)" stroke="rgba(20,140,40,0.62)" stroke-width="1.5"/>
<circle cx="388.0" cy="378.0" r="8.0" fill="rgba(0,150,25,0.500)" stroke="rgba(20,140,40,0.62)" stroke-width="1.5"/>
<circle cx="400.0" cy="372.0" r="8.0" fill="rgba(0,150,25,0.500)" stroke="rgba(20,140,40,0.62)" stroke-width="1.5"/>
<circle cx="404.0" cy="384.0" r="8.0" fill="rgba(0,150,25,0.500)" stroke="rgba(20,140,40,0.62)" stroke-width="1.5"/>
<circle cx="386.0" cy="392.0" r="8.0" fill="rgba(0,150,25,0.500)" stroke="rgba(20,140,40,0.62)" stroke-width="1.5"/>
<circle cx="398.0" cy="398.0" r="8.0" fill="rgba(0,150,25,0.500)" stroke="rgba(20,140,40,0.62)" stroke-width="1.5"/>
<circle cx="402.0" cy="408.0" r="7.0" fill="rgba(0,150,25,0.500)" stroke="rgba(20,140,40,0.62)" stroke-width="1.5"/>
<circle cx="388.0" cy="404.0" r="8.0" fill="rgba(0,150,25,0.500)" stroke="rgba(20,140,40,0.62)" stroke-width="1.5"/>
<circle cx="384.0" cy="416.0" r="8.0" fill="rgba(0,150,25,0.500)" stroke="rgba(20,140,40,0.62)" stroke-width="1.5"/>
<circle cx="396.0" cy="416.0" r="8.0" fill="rgba(0,150,25,0.500)" stroke="rgba(20,140,40,0.62)" stroke-width="1.5"/>
<circle cx="406.0" cy="420.0" r="7.0" fill="rgba(0,150,25,0.500)" stroke="rgba(20,140,40,0.62)" stroke-width="1.5"/>
<circle cx="390.0" cy="430.0" r="8.0" fill="rgba(0,150,25,0.500)" stroke="rgba(20,140,40,0.62)" stroke-width="1.5"/>
<circle cx="402.0" cy="432.0" r="8.0" fill="rgba(0,150,25,0.500)" stroke="rgba(20,140,40,0.62)" stroke-width="1.5"/>
<circle cx="386.0" cy="444.0" r="8.0" fill="rgba(0,150,25,0.500)" stroke="rgba(20,140,40,0.62)" stroke-width="1.5"/>
<circle cx="398.0" cy="446.0" r="8.0" fill="rgba(0,150,25,0.500)" stroke="rgba(20,140,40,0.62)" stroke-width="1.5"/>
<circle cx="375.0" cy="445.0" r="9.0" fill="rgba(0,150,25,0.500)" stroke="rgba(20,140,40,0.62)" stroke-width="1.5"/>
<circle cx="395.0" cy="455.0" r="8.0" fill="rgba(0,150,25,0.500)" stroke="rgba(20,140,40,0.62)" stroke-width="1.5"/>
<circle cx="405.0" cy="448.0" r="6.0" fill="rgba(0,150,25,0.500)" stroke="rgba(20,140,40,0.62)" stroke-width="1.5"/>
<circle cx="412.0" cy="425.0" r="6.0" fill="rgba(0,150,25,0.500)" stroke="rgba(20,140,40,0.62)" stroke-width="1.5"/>
<circle cx="414.0" cy="412.0" r="5.0" fill="rgba(0,150,25,0.500)" stroke="rgba(20,140,40,0.62)" stroke-width="1.5"/>
<circle cx="383.0" cy="360.0" r="6.0" fill="rgba(0,150,25,0.500)" stroke="rgba(20,140,40,0.62)" stroke-width="1.5"/>
<circle cx="405.0" cy="360.0" r="6.0" fill="rgba(0,150,25,0.500)" stroke="rgba(20,140,40,0.62)" stroke-width="1.5"/>
<circle cx="376.0" cy="435.0" r="9.0" fill="rgba(0,150,25,0.500)" stroke="rgba(20,140,40,0.62)" stroke-width="1.5"/>
<circle cx="253.6" cy="191.2" r="8.5" fill="rgba(232,0,0,0.500)" stroke="rgba(205,25,35,0.62)" stroke-width="1.5"/>
<circle cx="279.5" cy="500.2" r="8.5" fill="rgba(232,0,0,0.500)" stroke="rgba(205,25,35,0.62)" stroke-width="1.5"/>
<circle cx="275.6" cy="524.6" r="7.7" fill="rgba(232,0,0,0.500)" stroke="rgba(205,25,35,0.62)" stroke-width="1.5"/>
<line x1="323.2" y1="96.0" x2="323.2" y2="763.5" stroke="#8a8a8a" stroke-width="3.4"/>
<line x1="75.0" y1="563.3" x2="623.0" y2="563.3" stroke="#808080" stroke-width="3" stroke-dasharray="14 14.2"/>
<line x1="374.0" y1="203.0" x2="392.0" y2="202.0" stroke="#999" stroke-width="2" stroke-opacity="0.8"/>
<line x1="390.0" y1="183.0" x2="392.0" y2="192.0" stroke="#999" stroke-width="2" stroke-opacity="0.8"/>
<line x1="428.0" y1="170.0" x2="424.0" y2="186.0" stroke="#999" stroke-width="2" stroke-opacity="0.8"/>
<line x1="365.0" y1="232.0" x2="395.0" y2="218.0" stroke="#999" stroke-width="2" stroke-opacity="0.8"/>
<line x1="375.0" y1="218.0" x2="392.0" y2="214.0" stroke="#999" stroke-width="2" stroke-opacity="0.8"/>
<line x1="423.0" y1="242.0" x2="432.0" y2="250.0" stroke="#999" stroke-width="2" stroke-opacity="0.8"/>
</g>
<g>
<rect x="387.8" y="126.4" width="61.4" height="18" fill="#fff" fill-opacity="0.50"/>
<text x="390.8" y="140.9" font-size="16.3" fill="#333">CHAC1</text>
<rect x="364.5" y="154.4" width="44.1" height="18" fill="#fff" fill-opacity="0.50"/>
<text x="367.5" y="168.9" font-size="16.3" fill="#333">PIM1</text>
<rect x="406.4" y="154.4" width="55.9" height="18" fill="#fff" fill-opacity="0.50"/>
<text x="409.4" y="168.9" font-size="16.3" fill="#333">SYT12</text>
<rect x="377.3" y="171.7" width="53.2" height="18" fill="#fff" fill-opacity="0.50"/>
<text x="380.3" y="186.2" font-size="16.3" fill="#333">DDIT4</text>
<rect x="435.2" y="171.7" width="44.1" height="18" fill="#fff" fill-opacity="0.50"/>
<text x="438.2" y="186.2" font-size="16.3" fill="#333">IFIT5</text>
<rect x="477.7" y="166.0" width="70.4" height="18" fill="#fff" fill-opacity="0.50"/>
<text x="480.7" y="180.5" font-size="16.3" fill="#333">TRANK1</text>
<rect x="501.0" y="182.9" width="64.1" height="18" fill="#fff" fill-opacity="0.50"/>
<text x="504.0" y="197.4" font-size="16.3" fill="#333">IGFBP6</text>
<rect x="337.5" y="188.9" width="41.4" height="18" fill="#fff" fill-opacity="0.50"/>
<text x="340.5" y="203.4" font-size="16.3" fill="#333">IRF1</text>
<rect x="422.4" y="192.7" width="69.5" height="18" fill="#fff" fill-opacity="0.50"/>
<text x="425.4" y="207.2" font-size="16.3" fill="#333">PLSCR1</text>
<rect x="507.0" y="200.3" width="52.3" height="18" fill="#fff" fill-opacity="0.50"/>
<text x="510.0" y="214.8" font-size="16.3" fill="#333">ISG20</text>
<rect x="362.5" y="205.9" width="45.6" height="18" fill="#fff" fill-opacity="0.50"/>
<text x="365.5" y="220.4" font-size="16.3" fill="#333">PLAT</text>
<rect x="418.2" y="209.7" width="53.8" height="18" fill="#fff" fill-opacity="0.50"/>
<text x="421.2" y="224.2" font-size="16.3" fill="#333">SP110</text>
<rect x="471.3" y="216.7" width="76.8" height="18" fill="#fff" fill-opacity="0.50"/>
<text x="474.3" y="231.2" font-size="16.3" fill="#333">TNFSF15</text>
<rect x="330.5" y="223.3" width="56.8" height="18" fill="#fff" fill-opacity="0.50"/>
<text x="333.5" y="237.8" font-size="16.3" fill="#333">HELZ2</text>
<rect x="384.2" y="226.8" width="51.4" height="18" fill="#fff" fill-opacity="0.50"/>
<text x="387.2" y="241.3" font-size="16.3" fill="#333">ADM2</text>
<rect x="433.4" y="238.6" width="51.4" height="18" fill="#fff" fill-opacity="0.50"/>
<text x="436.4" y="253.1" font-size="16.3" fill="#333">KYNU</text>
<rect x="482.3" y="243.2" width="65.9" height="18" fill="#fff" fill-opacity="0.50"/>
<text x="485.3" y="257.7" font-size="16.3" fill="#333">FER1L4</text>
<rect x="370.3" y="244.2" width="60.4" height="18" fill="#fff" fill-opacity="0.50"/>
<text x="373.3" y="258.7" font-size="16.3" fill="#333">PRRX2</text>
<rect x="383.2" y="261.2" width="58.6" height="18" fill="#fff" fill-opacity="0.50"/>
<text x="386.2" y="275.7" font-size="16.3" fill="#333">CXCL8</text>
<rect x="438.7" y="259.2" width="28.7" height="18" fill="#fff" fill-opacity="0.50"/>
<text x="441.7" y="273.7" font-size="16.3" fill="#333">IL6</text>
<rect x="466.7" y="259.2" width="58.6" height="18" fill="#fff" fill-opacity="0.50"/>
<text x="469.7" y="273.7" font-size="16.3" fill="#333">APOL1</text>
<rect x="530.6" y="259.2" width="58.2" height="18" fill="#fff" fill-opacity="0.50"/>
<text x="533.6" y="273.7" font-size="16.3" fill="#333">HLA−B</text>
<rect x="428.2" y="278.8" width="58.6" height="18" fill="#fff" fill-opacity="0.50"/>
<text x="431.2" y="293.3" font-size="16.3" fill="#333">CLCA2</text>
<rect x="561.9" y="279.2" width="65.6" height="18" fill="#fff" fill-opacity="0.50"/>
<text x="564.9" y="293.7" font-size="16.3" fill="#333">PLAAT4</text>
<rect x="446.7" y="296.1" width="60.5" height="18" fill="#fff" fill-opacity="0.50"/>
<text x="449.7" y="310.6" font-size="16.3" fill="#333">IL20RB</text>
<rect x="504.6" y="296.1" width="60.4" height="18" fill="#fff" fill-opacity="0.50"/>
<text x="507.6" y="310.6" font-size="16.3" fill="#333">SCN3A</text>
<rect x="494.6" y="313.1" width="59.5" height="18" fill="#fff" fill-opacity="0.50"/>
<text x="497.6" y="327.6" font-size="16.3" fill="#333">LAMA4</text>
<rect x="486.3" y="330.5" width="81.3" height="18" fill="#fff" fill-opacity="0.50"/>
<text x="489.3" y="345.0" font-size="16.3" fill="#333">TMEM140</text>
<rect x="562.5" y="330.5" width="55.6" height="18" fill="#fff" fill-opacity="0.50"/>
<text x="565.5" y="345.0" font-size="16.3" fill="#333">BATF2</text>
<rect x="418.4" y="335.5" width="69.5" height="18" fill="#fff" fill-opacity="0.50"/>
<text x="421.4" y="350.0" font-size="16.3" fill="#333">RHEBL1</text>
<rect x="496.2" y="357.0" width="60.4" height="18" fill="#fff" fill-opacity="0.50"/>
<text x="499.2" y="371.5" font-size="16.3" fill="#333">ODF3B</text>
<rect x="556.5" y="374.4" width="70.4" height="18" fill="#fff" fill-opacity="0.50"/>
<text x="559.5" y="388.9" font-size="16.3" fill="#333">ENTPD2</text>
<rect x="444.7" y="379.4" width="68.6" height="18" fill="#fff" fill-opacity="0.50"/>
<text x="447.7" y="393.9" font-size="16.3" fill="#333">LRRC32</text>
<rect x="529.2" y="390.3" width="47.8" height="18" fill="#fff" fill-opacity="0.50"/>
<text x="532.2" y="404.8" font-size="16.3" fill="#333">CD74</text>
<rect x="533.2" y="429.7" width="94.9" height="18" fill="#fff" fill-opacity="0.50"/>
<text x="536.2" y="444.2" font-size="16.3" fill="#333">APOBEC3C</text>
<rect x="488.1" y="444.7" width="47.5" height="18" fill="#fff" fill-opacity="0.50"/>
<text x="491.1" y="459.2" font-size="16.3" fill="#333">RTP4</text>
<rect x="525.6" y="461.6" width="49.6" height="18" fill="#fff" fill-opacity="0.50"/>
<text x="528.6" y="476.1" font-size="16.3" fill="#333">OASL</text>
<rect x="573.5" y="475.6" width="52.3" height="18" fill="#fff" fill-opacity="0.50"/>
<text x="576.5" y="490.1" font-size="16.3" fill="#333">IFI44L</text>
<rect x="537.6" y="494.2" width="60.4" height="18" fill="#fff" fill-opacity="0.50"/>
<text x="540.6" y="508.7" font-size="16.3" fill="#333">RSAD2</text>
<rect x="532.6" y="517.1" width="95.8" height="18" fill="#fff" fill-opacity="0.50"/>
<text x="535.6" y="531.6" font-size="16.3" fill="#333">APOBEC3G</text>
</g>
<line x1="76.0" y1="96.0" x2="76.0" y2="765.1" stroke="#000" stroke-width="3.3"/>
<line x1="74.4" y1="763.5" x2="623.0" y2="763.5" stroke="#000" stroke-width="3.3"/>
<line x1="76.9" y1="763.5" x2="76.9" y2="768.0" stroke="#333" stroke-width="2"/>
<text x="76.9" y="792.5" text-anchor="middle" font-size="20.3" fill="#222">−5.0</text>
<line x1="199.9" y1="763.5" x2="199.9" y2="768.0" stroke="#333" stroke-width="2"/>
<text x="199.9" y="792.5" text-anchor="middle" font-size="20.3" fill="#222">−2.5</text>
<line x1="323.0" y1="763.5" x2="323.0" y2="768.0" stroke="#333" stroke-width="2"/>
<text x="323.0" y="792.5" text-anchor="middle" font-size="20.3" fill="#222">0.0</text>
<line x1="446.0" y1="763.5" x2="446.0" y2="768.0" stroke="#333" stroke-width="2"/>
<text x="446.0" y="792.5" text-anchor="middle" font-size="20.3" fill="#222">2.5</text>
<line x1="569.4" y1="763.5" x2="569.4" y2="768.0" stroke="#333" stroke-width="2"/>
<text x="569.4" y="792.5" text-anchor="middle" font-size="20.3" fill="#222">5.0</text>
<line x1="70.5" y1="167.0" x2="76.0" y2="167.0" stroke="#333" stroke-width="2"/>
<text x="68.5" y="173.0" text-anchor="end" font-size="20.3" fill="#222">0.01</text>
<line x1="70.5" y1="302.0" x2="76.0" y2="302.0" stroke="#333" stroke-width="2"/>
<text x="68.5" y="308.0" text-anchor="end" font-size="20.3" fill="#222">0.03</text>
<line x1="70.5" y1="450.7" x2="76.0" y2="450.7" stroke="#333" stroke-width="2"/>
<text x="68.5" y="456.7" text-anchor="end" font-size="20.3" fill="#222">0.1</text>
<line x1="70.5" y1="563.3" x2="76.0" y2="563.3" stroke="#333" stroke-width="2"/>
<text x="68.5" y="569.3" text-anchor="end" font-size="20.3" fill="#222">0.25</text>
<line x1="70.5" y1="585.5" x2="76.0" y2="585.5" stroke="#333" stroke-width="2"/>
<text x="68.5" y="591.5" text-anchor="end" font-size="20.3" fill="#222">0.3</text>
<line x1="70.5" y1="732.9" x2="76.0" y2="732.9" stroke="#333" stroke-width="2"/>
<text x="68.5" y="738.9" text-anchor="end" font-size="20.3" fill="#222">1</text>
</g>
<g>
<text x="703.7" y="72.3" font-size="26.6" fill="#000">MSigDB Hallmarks</text>
<text transform="translate(651.0,379.4) rotate(-90)" text-anchor="middle" font-size="26.5" fill="#000">Adjusted p−value (FDR)</text>
<text x="1013.0" y="821.0" text-anchor="middle" font-size="26.5" fill="#000">log2FoldChange</text>
<clipPath id="cpa2"><rect x="704.9" y="94.0" width="551.1" height="669.5"/></clipPath>
<g clip-path="url(#cpa2)">
<circle cx="825.3" cy="744.0" r="17.0" fill="rgba(192,192,192,0.500)" stroke="rgba(175,175,175,0.5)" stroke-width="1.5"/>
<circle cx="876.0" cy="744.0" r="18.0" fill="rgba(192,192,192,0.500)" stroke="rgba(175,175,175,0.5)" stroke-width="1.5"/>
<circle cx="910.0" cy="733.7" r="21.0" fill="rgba(192,192,192,0.500)" stroke="rgba(175,175,175,0.5)" stroke-width="1.5"/>
<circle cx="849.0" cy="744.0" r="18.0" fill="rgba(192,192,192,0.500)" stroke="rgba(175,175,175,0.5)" stroke-width="1.5"/>
<circle cx="788.8" cy="710.0" r="21.0" fill="rgba(232,0,0,0.500)" stroke="rgba(205,25,35,0.62)" stroke-width="1.5"/>
<circle cx="778.0" cy="720.0" r="15.0" fill="rgba(232,0,0,0.500)" stroke="rgba(205,25,35,0.62)" stroke-width="1.5"/>
<circle cx="798.0" cy="723.6" r="20.0" fill="rgba(232,0,0,0.500)" stroke="rgba(205,25,35,0.62)" stroke-width="1.5"/>
<circle cx="816.9" cy="713.4" r="20.0" fill="rgba(232,0,0,0.500)" stroke="rgba(205,25,35,0.62)" stroke-width="1.5"/>
<circle cx="832.0" cy="717.0" r="15.0" fill="rgba(232,0,0,0.500)" stroke="rgba(205,25,35,0.62)" stroke-width="1.5"/>
<circle cx="842.3" cy="711.7" r="19.0" fill="rgba(232,0,0,0.500)" stroke="rgba(205,25,35,0.62)" stroke-width="1.5"/>
<circle cx="842.3" cy="711.7" r="14.0" fill="rgba(232,0,0,0.500)" stroke="rgba(205,25,35,0.62)" stroke-width="1.5"/>
<circle cx="889.7" cy="672.8" r="28.0" fill="rgba(0,150,25,0.500)" stroke="rgba(20,140,40,0.62)" stroke-width="1.5"/>
<circle cx="866.0" cy="696.0" r="22.0" fill="rgba(0,150,25,0.500)" stroke="rgba(20,140,40,0.62)" stroke-width="1.5"/>
<circle cx="879.5" cy="710.0" r="25.0" fill="rgba(0,150,25,0.500)" stroke="rgba(20,140,40,0.62)" stroke-width="1.5"/>
<circle cx="849.0" cy="727.0" r="20.0" fill="rgba(0,150,25,0.500)" stroke="rgba(20,140,40,0.62)" stroke-width="1.5"/>
<circle cx="903.0" cy="703.0" r="20.0" fill="rgba(0,150,25,0.500)" stroke="rgba(20,140,40,0.62)" stroke-width="1.5"/>
<circle cx="928.7" cy="710.0" r="11.9" fill="rgba(0,150,25,0.500)" stroke="rgba(20,140,40,0.62)" stroke-width="1.5"/>
<circle cx="870.0" cy="720.0" r="14.0" fill="rgba(0,150,25,0.500)" stroke="rgba(20,140,40,0.62)" stroke-width="1.5"/>
<circle cx="750.1" cy="589.8" r="23.7" fill="rgba(232,0,0,0.500)" stroke="rgba(205,25,35,0.62)" stroke-width="1.5"/>
<circle cx="754.2" cy="628.7" r="17.0" fill="rgba(232,0,0,0.500)" stroke="rgba(205,25,35,0.62)" stroke-width="1.5"/>
<circle cx="761.0" cy="649.0" r="25.0" fill="rgba(232,0,0,0.500)" stroke="rgba(205,25,35,0.62)" stroke-width="1.5"/>
<circle cx="762.0" cy="659.2" r="18.0" fill="rgba(232,0,0,0.500)" stroke="rgba(205,25,35,0.62)" stroke-width="1.5"/>
<circle cx="730.3" cy="457.8" r="24.0" fill="rgba(232,0,0,0.500)" stroke="rgba(205,25,35,0.62)" stroke-width="1.5"/>
<circle cx="950.0" cy="535.6" r="23.7" fill="rgba(0,150,25,0.500)" stroke="rgba(20,140,40,0.62)" stroke-width="1.5"/>
<circle cx="927.0" cy="566.0" r="22.0" fill="rgba(0,150,25,0.500)" stroke="rgba(20,140,40,0.62)" stroke-width="1.5"/>
<circle cx="960.8" cy="572.8" r="23.7" fill="rgba(0,150,25,0.500)" stroke="rgba(20,140,40,0.62)" stroke-width="1.5"/>
<circle cx="1021.1" cy="572.8" r="24.4" fill="rgba(0,150,25,0.500)" stroke="rgba(20,140,40,0.62)" stroke-width="1.5"/>
<circle cx="943.9" cy="583.0" r="22.0" fill="rgba(0,150,25,0.500)" stroke="rgba(20,140,40,0.62)" stroke-width="1.5"/>
<circle cx="961.0" cy="591.0" r="10.0" fill="rgba(0,150,25,0.500)" stroke="rgba(20,140,40,0.62)" stroke-width="1.5"/>
<circle cx="933.7" cy="630.4" r="23.7" fill="rgba(0,150,25,0.500)" stroke="rgba(20,140,40,0.62)" stroke-width="1.5"/>
<circle cx="993.0" cy="622.0" r="24.4" fill="rgba(0,150,25,0.500)" stroke="rgba(20,140,40,0.62)" stroke-width="1.5"/>
<circle cx="1025.2" cy="632.0" r="17.0" fill="rgba(0,150,25,0.500)" stroke="rgba(20,140,40,0.62)" stroke-width="1.5"/>
<circle cx="988.0" cy="642.3" r="21.0" fill="rgba(0,150,25,0.500)" stroke="rgba(20,140,40,0.62)" stroke-width="1.5"/>
<circle cx="967.6" cy="672.8" r="23.7" fill="rgba(0,150,25,0.500)" stroke="rgba(20,140,40,0.62)" stroke-width="1.5"/>
<circle cx="923.6" cy="635.0" r="10.0" fill="rgba(0,150,25,0.500)" stroke="rgba(20,140,40,0.62)" stroke-width="1.5"/>
<circle cx="985.0" cy="636.0" r="13.0" fill="rgba(0,150,25,0.500)" stroke="rgba(20,140,40,0.62)" stroke-width="1.5"/>
<circle cx="1155.0" cy="124.9" r="24.0" fill="rgba(0,150,25,0.500)" stroke="rgba(20,140,40,0.62)" stroke-width="1.5"/>
<circle cx="1228.6" cy="181.0" r="17.0" fill="rgba(0,150,25,0.500)" stroke="rgba(20,140,40,0.62)" stroke-width="1.5"/>
<circle cx="995.5" cy="301.8" r="24.0" fill="rgba(0,150,25,0.500)" stroke="rgba(20,140,40,0.62)" stroke-width="1.5"/>
<line x1="846.5" y1="96.0" x2="846.5" y2="763.5" stroke="#8a8a8a" stroke-width="3.4"/>
<line x1="703.9" y1="725.7" x2="1253.0" y2="725.7" stroke="#808080" stroke-width="3" stroke-dasharray="14 14.2"/>
</g>
<g>
<rect x="947.3" y="116.9" width="216.6" height="18" fill="#fff" fill-opacity="0.50"/>
<text x="950.3" y="131.4" font-size="16.3" fill="#333">Interferon Gamma Response</text>
<rect x="1037.0" y="172.3" width="199.4" height="18" fill="#fff" fill-opacity="0.50"/>
<text x="1040.0" y="186.8" font-size="16.3" fill="#333">Interferon Alpha Response</text>
<rect x="873.7" y="303.9" width="239.3" height="18" fill="#fff" fill-opacity="0.50"/>
<text x="876.7" y="318.4" font-size="16.3" fill="#333">TNF−alpha Signaling via NF−kB</text>
<rect x="705.3" y="458.8" width="93.8" height="18" fill="#fff" fill-opacity="0.50"/>
<text x="708.3" y="473.3" font-size="16.3" fill="#333">E2F Targets</text>
<rect x="709.5" y="532.2" width="252.9" height="18" fill="#fff" fill-opacity="0.50"/>
<text x="712.5" y="546.7" font-size="16.3" fill="#333">Epithelial Mesenchymal Transition</text>
<rect x="886.7" y="549.2" width="65.0" height="18" fill="#fff" fill-opacity="0.50"/>
<text x="889.7" y="563.7" font-size="16.3" fill="#333">Hypoxia</text>
<rect x="947.7" y="553.9" width="178.5" height="18" fill="#fff" fill-opacity="0.50"/>
<text x="950.7" y="568.4" font-size="16.3" fill="#333">Inflammatory Response</text>
<rect x="704.5" y="572.2" width="137.2" height="18" fill="#fff" fill-opacity="0.50"/>
<text x="707.5" y="586.7" font-size="16.3" fill="#333">G2−M Checkpoint</text>
<rect x="922.3" y="575.6" width="98.6" height="18" fill="#fff" fill-opacity="0.50"/>
<text x="925.3" y="590.1" font-size="16.3" fill="#333">Complement</text>
<rect x="878.9" y="597.3" width="77.7" height="18" fill="#fff" fill-opacity="0.50"/>
<text x="881.9" y="611.8" font-size="16.3" fill="#333">Apoptosis</text>
<rect x="952.8" y="602.4" width="147.6" height="18" fill="#fff" fill-opacity="0.50"/>
<text x="955.8" y="616.9" font-size="16.3" fill="#333">KRAS Signaling Up</text>
<rect x="704.5" y="604.7" width="118.2" height="18" fill="#fff" fill-opacity="0.50"/>
<text x="707.5" y="619.2" font-size="16.3" fill="#333">Myc Targets V1</text>
<rect x="764.1" y="622.0" width="162.9" height="18" fill="#fff" fill-opacity="0.50"/>
<text x="767.1" y="636.5" font-size="16.3" fill="#333">IL−2/STAT5 Signaling</text>
<rect x="1021.2" y="632.9" width="197.4" height="18" fill="#fff" fill-opacity="0.50"/>
<text x="1024.2" y="647.4" font-size="16.3" fill="#333">IL−6/JAK/STAT3 Signaling</text>
<rect x="801.3" y="639.6" width="187.5" height="18" fill="#fff" fill-opacity="0.50"/>
<text x="804.3" y="654.1" font-size="16.3" fill="#333">Cholesterol Homeostasis</text>
<rect x="979.9" y="650.5" width="93.2" height="18" fill="#fff" fill-opacity="0.50"/>
<text x="982.9" y="665.0" font-size="16.3" fill="#333">Coagulation</text>
<rect x="704.5" y="656.6" width="195.8" height="18" fill="#fff" fill-opacity="0.50"/>
<text x="707.5" y="671.1" font-size="16.3" fill="#333">Oxidative Phosphorylation</text>
<rect x="922.3" y="673.5" width="138.6" height="18" fill="#fff" fill-opacity="0.50"/>
<text x="925.3" y="688.0" font-size="16.3" fill="#333">Allograft Rejection</text>
<rect x="834.2" y="682.0" width="93.1" height="18" fill="#fff" fill-opacity="0.50"/>
<text x="837.2" y="696.5" font-size="16.3" fill="#333">Myogenesis</text>
<rect x="871.5" y="714.2" width="104.1" height="18" fill="#fff" fill-opacity="0.50"/>
<text x="874.5" y="728.7" font-size="16.3" fill="#333">Angiogenesis</text>
</g>
<line x1="704.9" y1="96.0" x2="704.9" y2="765.1" stroke="#000" stroke-width="3.3"/>
<line x1="703.3" y1="763.5" x2="1253.0" y2="763.5" stroke="#000" stroke-width="3.3"/>
<line x1="731.5" y1="763.5" x2="731.5" y2="768.0" stroke="#333" stroke-width="2"/>
<text x="731.5" y="792.5" text-anchor="middle" font-size="20.3" fill="#222">−0.5</text>
<line x1="846.5" y1="763.5" x2="846.5" y2="768.0" stroke="#333" stroke-width="2"/>
<text x="846.5" y="792.5" text-anchor="middle" font-size="20.3" fill="#222">0.0</text>
<line x1="961.5" y1="763.5" x2="961.5" y2="768.0" stroke="#333" stroke-width="2"/>
<text x="961.5" y="792.5" text-anchor="middle" font-size="20.3" fill="#222">0.5</text>
<line x1="1076.8" y1="763.5" x2="1076.8" y2="768.0" stroke="#333" stroke-width="2"/>
<text x="1076.8" y="792.5" text-anchor="middle" font-size="20.3" fill="#222">1.0</text>
<line x1="1192.2" y1="763.5" x2="1192.2" y2="768.0" stroke="#333" stroke-width="2"/>
<text x="1192.2" y="792.5" text-anchor="middle" font-size="20.3" fill="#222">1.5</text>
<line x1="699.4" y1="121.8" x2="704.9" y2="121.8" stroke="#333" stroke-width="2"/>
<text x="697.7" y="128.7" text-anchor="end" font-size="20.3" fill="#222">10<tspan font-size="11.5" dy="-6.8">-114</tspan></text>
<line x1="699.4" y1="244.9" x2="704.9" y2="244.9" stroke="#333" stroke-width="2"/>
<text x="697.7" y="251.8" text-anchor="end" font-size="20.3" fill="#222">10<tspan font-size="11.5" dy="-6.8">-91</tspan></text>
<line x1="699.4" y1="368.0" x2="704.9" y2="368.0" stroke="#333" stroke-width="2"/>
<text x="697.7" y="374.9" text-anchor="end" font-size="20.3" fill="#222">10<tspan font-size="11.5" dy="-6.8">-68</tspan></text>
<line x1="699.4" y1="490.7" x2="704.9" y2="490.7" stroke="#333" stroke-width="2"/>
<text x="697.7" y="497.6" text-anchor="end" font-size="20.3" fill="#222">10<tspan font-size="11.5" dy="-6.8">-45</tspan></text>
<line x1="699.4" y1="613.8" x2="704.9" y2="613.8" stroke="#333" stroke-width="2"/>
<text x="697.7" y="620.7" text-anchor="end" font-size="20.3" fill="#222">10<tspan font-size="11.5" dy="-6.8">-22</tspan></text>
<line x1="699.4" y1="725.7" x2="704.9" y2="725.7" stroke="#333" stroke-width="2"/>
<text x="697.4" y="731.7" text-anchor="end" font-size="20.3" fill="#222">0.05</text>
</g>
<g>
<text x="1328.7" y="72.3" font-size="26.6" fill="#000">DoRothEA TF regulons</text>
<text transform="translate(1277.5,379.4) rotate(-90)" text-anchor="middle" font-size="26.5" fill="#000">Adjusted p−value (FDR)</text>
<text x="1636.8" y="821.0" text-anchor="middle" font-size="26.5" fill="#000">log2FoldChange</text>
<clipPath id="cpa3"><rect x="1329.5" y="94.0" width="550.5" height="669.5"/></clipPath>
<g clip-path="url(#cpa3)">
<circle cx="1415.2" cy="723.0" r="33.0" fill="rgba(192,192,192,0.500)" stroke="rgba(175,175,175,0.5)" stroke-width="1.5"/>
<circle cx="1374.5" cy="712.0" r="11.0" fill="rgba(192,192,192,0.500)" stroke="rgba(175,175,175,0.5)" stroke-width="1.5"/>
<circle cx="1359.0" cy="729.0" r="8.0" fill="rgba(192,192,192,0.500)" stroke="rgba(175,175,175,0.5)" stroke-width="1.5"/>
<circle cx="1514.6" cy="705.0" r="10.0" fill="rgba(192,192,192,0.500)" stroke="rgba(175,175,175,0.5)" stroke-width="1.5"/>
<circle cx="1482.9" cy="719.0" r="10.0" fill="rgba(192,192,192,0.500)" stroke="rgba(175,175,175,0.5)" stroke-width="1.5"/>
<circle cx="1490.7" cy="707.0" r="7.0" fill="rgba(192,192,192,0.500)" stroke="rgba(175,175,175,0.5)" stroke-width="1.5"/>
<circle cx="1566.0" cy="716.0" r="10.0" fill="rgba(192,192,192,0.500)" stroke="rgba(175,175,175,0.5)" stroke-width="1.5"/>
<circle cx="1583.6" cy="710.0" r="8.0" fill="rgba(192,192,192,0.500)" stroke="rgba(175,175,175,0.5)" stroke-width="1.5"/>
<circle cx="1833.5" cy="719.0" r="8.5" fill="rgba(192,192,192,0.500)" stroke="rgba(175,175,175,0.5)" stroke-width="1.5"/>
<circle cx="1415.2" cy="692.0" r="31.0" fill="rgba(232,0,0,0.500)" stroke="rgba(205,25,35,0.62)" stroke-width="1.5"/>
<circle cx="1429.9" cy="692.0" r="13.5" fill="rgba(232,0,0,0.500)" stroke="rgba(205,25,35,0.62)" stroke-width="1.5"/>
<circle cx="1544.1" cy="124.9" r="26.3" fill="rgba(0,150,25,0.500)" stroke="rgba(20,140,40,0.62)" stroke-width="1.5"/>
<circle cx="1648.2" cy="128.7" r="19.4" fill="rgba(0,150,25,0.500)" stroke="rgba(20,140,40,0.62)" stroke-width="1.5"/>
<circle cx="1635.8" cy="208.1" r="21.3" fill="rgba(0,150,25,0.500)" stroke="rgba(20,140,40,0.62)" stroke-width="1.5"/>
<circle cx="1614.5" cy="305.6" r="18.6" fill="rgba(0,150,25,0.500)" stroke="rgba(20,140,40,0.62)" stroke-width="1.5"/>
<circle cx="1527.4" cy="351.3" r="21.3" fill="rgba(0,150,25,0.500)" stroke="rgba(20,140,40,0.62)" stroke-width="1.5"/>
<circle cx="1562.7" cy="447.3" r="14.7" fill="rgba(0,150,25,0.500)" stroke="rgba(20,140,40,0.62)" stroke-width="1.5"/>
<circle cx="1482.9" cy="477.2" r="30.2" fill="rgba(0,150,25,0.500)" stroke="rgba(20,140,40,0.62)" stroke-width="1.5"/>
<circle cx="1524.7" cy="471.3" r="18.6" fill="rgba(0,150,25,0.500)" stroke="rgba(20,140,40,0.62)" stroke-width="1.5"/>
<circle cx="1478.3" cy="515.9" r="20.0" fill="rgba(0,150,25,0.500)" stroke="rgba(20,140,40,0.62)" stroke-width="1.5"/>
<circle cx="1577.8" cy="492.6" r="10.8" fill="rgba(0,150,25,0.500)" stroke="rgba(20,140,40,0.62)" stroke-width="1.5"/>
<circle cx="1602.9" cy="512.0" r="16.3" fill="rgba(0,150,25,0.500)" stroke="rgba(20,140,40,0.62)" stroke-width="1.5"/>
<circle cx="1637.8" cy="478.3" r="10.0" fill="rgba(0,150,25,0.500)" stroke="rgba(20,140,40,0.62)" stroke-width="1.5"/>
<circle cx="1753.1" cy="524.8" r="8.5" fill="rgba(0,150,25,0.500)" stroke="rgba(20,140,40,0.62)" stroke-width="1.5"/>
<circle cx="1852.6" cy="527.5" r="9.3" fill="rgba(0,150,25,0.500)" stroke="rgba(20,140,40,0.62)" stroke-width="1.5"/>
<circle cx="1613.4" cy="561.2" r="17.4" fill="rgba(0,150,25,0.500)" stroke="rgba(20,140,40,0.62)" stroke-width="1.5"/>
<circle cx="1679.2" cy="563.5" r="10.8" fill="rgba(0,150,25,0.500)" stroke="rgba(20,140,40,0.62)" stroke-width="1.5"/>
<circle cx="1652.1" cy="597.2" r="8.5" fill="rgba(0,150,25,0.500)" stroke="rgba(20,140,40,0.62)" stroke-width="1.5"/>
<circle cx="1515.8" cy="595.2" r="14.7" fill="rgba(0,150,25,0.500)" stroke="rgba(20,140,40,0.62)" stroke-width="1.5"/>
<circle cx="1542.9" cy="616.5" r="21.3" fill="rgba(0,150,25,0.500)" stroke="rgba(20,140,40,0.62)" stroke-width="1.5"/>
<circle cx="1535.0" cy="622.0" r="10.0" fill="rgba(0,150,25,0.500)" stroke="rgba(20,140,40,0.62)" stroke-width="1.5"/>
<circle cx="1563.0" cy="621.0" r="10.0" fill="rgba(0,150,25,0.500)" stroke="rgba(20,140,40,0.62)" stroke-width="1.5"/>
<circle cx="1554.0" cy="619.0" r="6.0" fill="rgba(0,150,25,0.500)" stroke="rgba(20,140,40,0.62)" stroke-width="1.5"/>
<circle cx="1475.2" cy="624.3" r="23.2" fill="rgba(0,150,25,0.500)" stroke="rgba(20,140,40,0.62)" stroke-width="1.5"/>
<circle cx="1490.7" cy="624.3" r="17.4" fill="rgba(0,150,25,0.500)" stroke="rgba(20,140,40,0.62)" stroke-width="1.5"/>
<circle cx="1463.5" cy="618.5" r="8.0" fill="rgba(0,150,25,0.500)" stroke="rgba(20,140,40,0.62)" stroke-width="1.5"/>
<circle cx="1471.3" cy="642.0" r="15.5" fill="rgba(0,150,25,0.500)" stroke="rgba(20,140,40,0.62)" stroke-width="1.5"/>
<circle cx="1483.0" cy="642.0" r="11.6" fill="rgba(0,150,25,0.500)" stroke="rgba(20,140,40,0.62)" stroke-width="1.5"/>
<circle cx="1474.4" cy="665.0" r="19.4" fill="rgba(0,150,25,0.500)" stroke="rgba(20,140,40,0.62)" stroke-width="1.5"/>
<circle cx="1461.6" cy="665.0" r="8.0" fill="rgba(0,150,25,0.500)" stroke="rgba(20,140,40,0.62)" stroke-width="1.5"/>
<circle cx="1448.0" cy="684.3" r="9.7" fill="rgba(0,150,25,0.500)" stroke="rgba(20,140,40,0.62)" stroke-width="1.5"/>
<circle cx="1500.7" cy="680.4" r="15.5" fill="rgba(0,150,25,0.500)" stroke="rgba(20,140,40,0.62)" stroke-width="1.5"/>
<circle cx="1488.7" cy="695.9" r="9.7" fill="rgba(0,150,25,0.500)" stroke="rgba(20,140,40,0.62)" stroke-width="1.5"/>
<circle cx="1752.0" cy="645.6" r="7.7" fill="rgba(0,150,25,0.500)" stroke="rgba(20,140,40,0.62)" stroke-width="1.5"/>
<circle cx="1575.8" cy="692.8" r="15.5" fill="rgba(0,150,25,0.500)" stroke="rgba(20,140,40,0.62)" stroke-width="1.5"/>
<circle cx="1606.8" cy="680.4" r="9.0" fill="rgba(0,150,25,0.500)" stroke="rgba(20,140,40,0.62)" stroke-width="1.5"/>
<circle cx="1606.8" cy="683.0" r="8.0" fill="rgba(0,150,25,0.500)" stroke="rgba(20,140,40,0.62)" stroke-width="1.5"/>
<circle cx="1354.0" cy="428.8" r="25.2" fill="rgba(232,0,0,0.500)" stroke="rgba(205,25,35,0.62)" stroke-width="1.5"/>
<line x1="1433.3" y1="96.0" x2="1433.3" y2="763.5" stroke="#8a8a8a" stroke-width="3.4"/>
<line x1="1328.5" y1="701.7" x2="1877.0" y2="701.7" stroke="#808080" stroke-width="3" stroke-dasharray="14 14.2"/>
</g>
<g>
<rect x="1514.7" y="106.5" width="78.9" height="18" fill="#fff" fill-opacity="0.50"/>
<text x="1517.7" y="121.0" font-size="16.3" fill="#333">STAT1 (a)</text>
<rect x="1622.5" y="109.1" width="72.3" height="18" fill="#fff" fill-opacity="0.50"/>
<text x="1625.5" y="123.6" font-size="16.3" fill="#333">RELA (a)</text>
<rect x="1588.3" y="209.8" width="83.1" height="18" fill="#fff" fill-opacity="0.50"/>
<text x="1591.3" y="224.3" font-size="16.3" fill="#333">NFKB1 (a)</text>
<rect x="1594.0" y="287.3" width="62.2" height="18" fill="#fff" fill-opacity="0.50"/>
<text x="1597.0" y="301.8" font-size="16.3" fill="#333">JUN (a)</text>
<rect x="1482.6" y="353.5" width="75.9" height="18" fill="#fff" fill-opacity="0.50"/>
<text x="1485.6" y="368.0" font-size="16.3" fill="#333">HIF1A (a)</text>
<rect x="1355.2" y="415.0" width="69.5" height="18" fill="#fff" fill-opacity="0.50"/>
<text x="1358.2" y="429.5" font-size="16.3" fill="#333">E2F4 (a)</text>
<rect x="1535.3" y="427.0" width="78.9" height="18" fill="#fff" fill-opacity="0.50"/>
<text x="1538.3" y="441.5" font-size="16.3" fill="#333">STAT3 (a)</text>
<rect x="1497.3" y="453.0" width="75.0" height="18" fill="#fff" fill-opacity="0.50"/>
<text x="1500.3" y="467.5" font-size="16.3" fill="#333">EGR1 (a)</text>
<rect x="1609.6" y="458.0" width="75.0" height="18" fill="#fff" fill-opacity="0.50"/>
<text x="1612.6" y="472.5" font-size="16.3" fill="#333">RARA (a)</text>
<rect x="1445.8" y="479.3" width="61.4" height="18" fill="#fff" fill-opacity="0.50"/>
<text x="1448.8" y="493.8" font-size="16.3" fill="#333">SP1 (a)</text>
<rect x="1520.6" y="494.8" width="85.8" height="18" fill="#fff" fill-opacity="0.50"/>
<text x="1523.6" y="509.3" font-size="16.3" fill="#333">FOXO3 (a)</text>
<rect x="1580.6" y="514.1" width="64.1" height="18" fill="#fff" fill-opacity="0.50"/>
<text x="1583.6" y="528.6" font-size="16.3" fill="#333">FOS (a)</text>
<rect x="1722.6" y="504.1" width="83.7" height="18" fill="#fff" fill-opacity="0.50"/>
<text x="1725.6" y="518.6" font-size="16.3" fill="#333">PPARA (a)</text>
<rect x="1812.8" y="530.4" width="65.9" height="18" fill="#fff" fill-opacity="0.50"/>
<text x="1815.8" y="544.9" font-size="16.3" fill="#333">IRF1 (a)</text>
<rect x="1646.4" y="542.8" width="85.8" height="18" fill="#fff" fill-opacity="0.50"/>
<text x="1649.4" y="557.3" font-size="16.3" fill="#333">CEBPB (a)</text>
<rect x="1570.5" y="563.3" width="65.9" height="18" fill="#fff" fill-opacity="0.50"/>
<text x="1573.5" y="577.8" font-size="16.3" fill="#333">SPI1 (a)</text>
<rect x="1632.8" y="576.9" width="69.2" height="18" fill="#fff" fill-opacity="0.50"/>
<text x="1635.8" y="591.4" font-size="16.3" fill="#333">ATF2 (a)</text>
<rect x="1530.2" y="600.1" width="86.4" height="18" fill="#fff" fill-opacity="0.50"/>
<text x="1533.2" y="614.6" font-size="16.3" fill="#333">PPARG (a)</text>
<rect x="1704.4" y="647.3" width="82.2" height="18" fill="#fff" fill-opacity="0.50"/>
<text x="1707.4" y="661.8" font-size="16.3" fill="#333">FOXL2 (a)</text>
<rect x="1558.5" y="682.2" width="85.8" height="18" fill="#fff" fill-opacity="0.50"/>
<text x="1561.5" y="696.7" font-size="16.3" fill="#333">FOXO1 (a)</text>
</g>
<line x1="1329.5" y1="96.0" x2="1329.5" y2="765.1" stroke="#000" stroke-width="3.3"/>
<line x1="1327.9" y1="763.5" x2="1877.0" y2="763.5" stroke="#000" stroke-width="3.3"/>
<line x1="1433.3" y1="763.5" x2="1433.3" y2="768.0" stroke="#333" stroke-width="2"/>
<text x="1433.3" y="792.5" text-anchor="middle" font-size="20.3" fill="#222">0.0</text>
<line x1="1562.7" y1="763.5" x2="1562.7" y2="768.0" stroke="#333" stroke-width="2"/>
<text x="1562.7" y="792.5" text-anchor="middle" font-size="20.3" fill="#222">0.5</text>
<line x1="1692.0" y1="763.5" x2="1692.0" y2="768.0" stroke="#333" stroke-width="2"/>
<text x="1692.0" y="792.5" text-anchor="middle" font-size="20.3" fill="#222">1.0</text>
<line x1="1820.9" y1="763.5" x2="1820.9" y2="768.0" stroke="#333" stroke-width="2"/>
<text x="1820.9" y="792.5" text-anchor="middle" font-size="20.3" fill="#222">1.5</text>
<line x1="1324.0" y1="99.7" x2="1329.5" y2="99.7" stroke="#333" stroke-width="2"/>
<text x="1322.3" y="106.6" text-anchor="end" font-size="20.3" fill="#222">10<tspan font-size="11.5" dy="-6.8">-25</tspan></text>
<line x1="1324.0" y1="251.8" x2="1329.5" y2="251.8" stroke="#333" stroke-width="2"/>
<text x="1322.3" y="258.7" text-anchor="end" font-size="20.3" fill="#222">10<tspan font-size="11.5" dy="-6.8">-19</tspan></text>
<line x1="1324.0" y1="404.4" x2="1329.5" y2="404.4" stroke="#333" stroke-width="2"/>
<text x="1322.3" y="411.3" text-anchor="end" font-size="20.3" fill="#222">10<tspan font-size="11.5" dy="-6.8">-13</tspan></text>
<line x1="1324.0" y1="556.5" x2="1329.5" y2="556.5" stroke="#333" stroke-width="2"/>
<text x="1322.3" y="563.4" text-anchor="end" font-size="20.3" fill="#222">10<tspan font-size="11.5" dy="-6.8">-7</tspan></text>
<line x1="1324.0" y1="701.7" x2="1329.5" y2="701.7" stroke="#333" stroke-width="2"/>
<text x="1322.0" y="707.7" text-anchor="end" font-size="20.3" fill="#222">0.05</text>
<line x1="1324.0" y1="711.5" x2="1329.5" y2="711.5" stroke="#333" stroke-width="2"/>
<text x="1322.0" y="717.5" text-anchor="end" font-size="20.3" fill="#222">0.1</text>
</g>
<g>
<text x="74.7" y="927.4" font-size="26.6" fill="#000">Genes</text>
<text transform="translate(19.5,1224.5) rotate(-90)" text-anchor="middle" font-size="26.5" fill="#000">Adjusted p−value (FDR)</text>
<text x="384.2" y="1666.0" text-anchor="middle" font-size="26.5" fill="#000">log2FoldChange</text>
<clipPath id="cpb1"><rect x="75.0" y="938.0" width="554.0" height="670.0"/></clipPath>
<g clip-path="url(#cpb1)">
<path d="M466.0,1522.0 C468.2,1519.5 474.3,1518.7 478.0,1520.0 C481.7,1521.3 485.7,1525.8 488.0,1530.0 C490.3,1534.2 492.7,1541.8 492.0,1545.0 C491.3,1548.2 487.3,1548.8 484.0,1549.0 C480.7,1549.2 475.2,1548.3 472.0,1546.0 C468.8,1543.7 466.0,1539.0 465.0,1535.0 C464.0,1531.0 463.8,1524.5 466.0,1522.0 Z" fill="#c9c9c9" fill-opacity="1.00"/>
<path d="M270.0,1574.0 C271.6,1572.1 273.1,1571.8 279.5,1570.5 C285.9,1569.2 299.8,1567.5 308.4,1566.0 C316.9,1564.5 324.4,1562.2 330.8,1561.5 C337.2,1560.8 339.9,1561.1 346.9,1561.5 C353.8,1561.9 362.9,1563.2 372.5,1564.0 C382.1,1564.8 393.9,1565.2 404.6,1566.0 C415.3,1566.8 430.7,1567.5 436.6,1569.0 C442.5,1570.5 440.0,1572.5 440.0,1575.0 C440.0,1577.5 442.5,1581.7 436.6,1584.0 C430.7,1586.3 415.3,1587.7 404.6,1589.0 C393.9,1590.3 382.1,1591.2 372.5,1592.0 C362.9,1592.8 354.9,1593.8 346.9,1593.5 C338.9,1593.2 333.5,1591.8 324.4,1590.5 C315.3,1589.2 301.5,1587.4 292.4,1586.0 C283.3,1584.6 273.7,1584.0 270.0,1582.0 C266.3,1580.0 268.4,1575.9 270.0,1574.0 Z" fill="#c9c9c9" fill-opacity="1.00"/>
<circle cx="120.8" cy="1577.5" r="3.0" fill="rgba(192,192,192,0.500)" stroke="rgba(175,175,175,0.5)" stroke-width="1.5"/>
<circle cx="138.5" cy="1577.5" r="3.5" fill="rgba(192,192,192,0.500)" stroke="rgba(175,175,175,0.5)" stroke-width="1.5"/>
<circle cx="146.5" cy="1577.5" r="3.5" fill="rgba(192,192,192,0.500)" stroke="rgba(175,175,175,0.5)" stroke-width="1.5"/>
<circle cx="154.5" cy="1577.5" r="4.5" fill="rgba(192,192,192,0.500)" stroke="rgba(175,175,175,0.5)" stroke-width="1.5"/>
<circle cx="167.3" cy="1577.5" r="4.5" fill="rgba(192,192,192,0.500)" stroke="rgba(175,175,175,0.5)" stroke-width="1.5"/>
<circle cx="177.0" cy="1577.5" r="4.0" fill="rgba(192,192,192,0.500)" stroke="rgba(175,175,175,0.5)" stroke-width="1.5"/>
<circle cx="188.2" cy="1577.5" r="3.0" fill="rgba(192,192,192,0.500)" stroke="rgba(175,175,175,0.5)" stroke-width="1.5"/>
<circle cx="213.0" cy="1577.5" r="5.0" fill="rgba(192,192,192,0.500)" stroke="rgba(175,175,175,0.5)" stroke-width="1.5"/>
<circle cx="228.0" cy="1577.5" r="6.0" fill="rgba(192,192,192,0.500)" stroke="rgba(175,175,175,0.5)" stroke-width="1.5"/>
<circle cx="245.0" cy="1577.5" r="7.0" fill="rgba(192,192,192,0.500)" stroke="rgba(175,175,175,0.5)" stroke-width="1.5"/>
<circle cx="262.0" cy="1576.5" r="9.0" fill="rgba(192,192,192,0.500)" stroke="rgba(175,175,175,0.5)" stroke-width="1.5"/>
<circle cx="279.0" cy="1576.5" r="8.0" fill="rgba(192,192,192,0.500)" stroke="rgba(175,175,175,0.5)" stroke-width="1.5"/>
<circle cx="300.0" cy="1575.0" r="10.0" fill="rgba(192,192,192,0.500)" stroke="rgba(175,175,175,0.5)" stroke-width="1.5"/>
<circle cx="330.0" cy="1570.0" r="12.0" fill="rgba(192,192,192,0.500)" stroke="rgba(175,175,175,0.5)" stroke-width="1.5"/>
<circle cx="345.0" cy="1574.0" r="14.0" fill="rgba(192,192,192,0.500)" stroke="rgba(175,175,175,0.5)" stroke-width="1.5"/>
<circle cx="365.0" cy="1578.0" r="13.0" fill="rgba(192,192,192,0.500)" stroke="rgba(175,175,175,0.5)" stroke-width="1.5"/>
<circle cx="390.0" cy="1576.0" r="12.0" fill="rgba(192,192,192,0.500)" stroke="rgba(175,175,175,0.5)" stroke-width="1.5"/>
<circle cx="415.0" cy="1576.0" r="10.0" fill="rgba(192,192,192,0.500)" stroke="rgba(175,175,175,0.5)" stroke-width="1.5"/>
<circle cx="445.0" cy="1574.0" r="9.0" fill="rgba(192,192,192,0.500)" stroke="rgba(175,175,175,0.5)" stroke-width="1.5"/>
<circle cx="458.0" cy="1576.0" r="8.0" fill="rgba(192,192,192,0.500)" stroke="rgba(175,175,175,0.5)" stroke-width="1.5"/>
<circle cx="470.0" cy="1577.0" r="8.0" fill="rgba(192,192,192,0.500)" stroke="rgba(175,175,175,0.5)" stroke-width="1.5"/>
<circle cx="482.0" cy="1577.0" r="8.0" fill="rgba(192,192,192,0.500)" stroke="rgba(175,175,175,0.5)" stroke-width="1.5"/>
<circle cx="494.0" cy="1578.0" r="8.0" fill="rgba(192,192,192,0.500)" stroke="rgba(175,175,175,0.5)" stroke-width="1.5"/>
<circle cx="506.0" cy="1577.0" r="8.0" fill="rgba(192,192,192,0.500)" stroke="rgba(175,175,175,0.5)" stroke-width="1.5"/>
<circle cx="520.0" cy="1577.0" r="7.0" fill="rgba(192,192,192,0.500)" stroke="rgba(175,175,175,0.5)" stroke-width="1.5"/>
<circle cx="533.0" cy="1578.0" r="7.0" fill="rgba(192,192,192,0.500)" stroke="rgba(175,175,175,0.5)" stroke-width="1.5"/>
<circle cx="546.0" cy="1578.0" r="7.0" fill="rgba(192,192,192,0.500)" stroke="rgba(175,175,175,0.5)" stroke-width="1.5"/>
<circle cx="560.0" cy="1577.0" r="6.0" fill="rgba(192,192,192,0.500)" stroke="rgba(175,175,175,0.5)" stroke-width="1.5"/>
<circle cx="572.0" cy="1577.0" r="6.0" fill="rgba(192,192,192,0.500)" stroke="rgba(175,175,175,0.5)" stroke-width="1.5"/>
<circle cx="585.0" cy="1578.0" r="6.0" fill="rgba(192,192,192,0.500)" stroke="rgba(175,175,175,0.5)" stroke-width="1.5"/>
<circle cx="600.2" cy="1569.5" r="6.0" fill="rgba(192,192,192,0.500)" stroke="rgba(175,175,175,0.5)" stroke-width="1.5"/>
<circle cx="596.0" cy="1578.0" r="5.0" fill="rgba(192,192,192,0.500)" stroke="rgba(175,175,175,0.5)" stroke-width="1.5"/>
<circle cx="452.0" cy="1519.0" r="6.0" fill="rgba(192,192,192,0.500)" stroke="rgba(175,175,175,0.5)" stroke-width="1.5"/>
<circle cx="462.0" cy="1525.0" r="7.0" fill="rgba(192,192,192,0.500)" stroke="rgba(175,175,175,0.5)" stroke-width="1.5"/>
<circle cx="470.0" cy="1518.0" r="5.0" fill="rgba(192,192,192,0.500)" stroke="rgba(175,175,175,0.5)" stroke-width="1.5"/>
<circle cx="481.0" cy="1525.0" r="6.0" fill="rgba(192,192,192,0.500)" stroke="rgba(175,175,175,0.5)" stroke-width="1.5"/>
<circle cx="471.0" cy="1533.0" r="6.0" fill="rgba(192,192,192,0.500)" stroke="rgba(175,175,175,0.5)" stroke-width="1.5"/>
<circle cx="460.0" cy="1540.0" r="6.0" fill="rgba(192,192,192,0.500)" stroke="rgba(175,175,175,0.5)" stroke-width="1.5"/>
<circle cx="490.0" cy="1540.0" r="5.0" fill="rgba(192,192,192,0.500)" stroke="rgba(175,175,175,0.5)" stroke-width="1.5"/>
<circle cx="571.3" cy="1534.2" r="6.0" fill="rgba(192,192,192,0.500)" stroke="rgba(175,175,175,0.5)" stroke-width="1.5"/>
<circle cx="584.1" cy="1540.6" r="6.0" fill="rgba(192,192,192,0.500)" stroke="rgba(175,175,175,0.5)" stroke-width="1.5"/>
<circle cx="520.0" cy="1505.3" r="5.0" fill="rgba(192,192,192,0.500)" stroke="rgba(175,175,175,0.5)" stroke-width="1.5"/>
<circle cx="484.0" cy="1558.0" r="8.0" fill="rgba(192,192,192,0.500)" stroke="rgba(175,175,175,0.5)" stroke-width="1.5"/>
<circle cx="453.0" cy="1568.0" r="8.0" fill="rgba(192,192,192,0.500)" stroke="rgba(175,175,175,0.5)" stroke-width="1.5"/>
<circle cx="484.0" cy="1571.0" r="9.0" fill="rgba(192,192,192,0.500)" stroke="rgba(175,175,175,0.5)" stroke-width="1.5"/>
<circle cx="517.0" cy="1571.0" r="9.0" fill="rgba(192,192,192,0.500)" stroke="rgba(175,175,175,0.5)" stroke-width="1.5"/>
<circle cx="542.0" cy="1577.0" r="6.0" fill="rgba(192,192,192,0.500)" stroke="rgba(175,175,175,0.5)" stroke-width="1.5"/>
<circle cx="572.0" cy="1578.0" r="5.0" fill="rgba(192,192,192,0.500)" stroke="rgba(175,175,175,0.5)" stroke-width="1.5"/>
<circle cx="463.0" cy="1555.0" r="6.0" fill="rgba(192,192,192,0.500)" stroke="rgba(175,175,175,0.5)" stroke-width="1.5"/>
<circle cx="500.0" cy="1560.0" r="5.0" fill="rgba(192,192,192,0.500)" stroke="rgba(175,175,175,0.5)" stroke-width="1.5"/>
<circle cx="546.7" cy="969.8" r="10.8" fill="rgba(0,150,25,0.500)" stroke="rgba(20,140,40,0.62)" stroke-width="1.5"/>
<circle cx="600.8" cy="1119.3" r="7.0" fill="rgba(0,150,25,0.500)" stroke="rgba(20,140,40,0.62)" stroke-width="1.5"/>
<circle cx="533.5" cy="1130.9" r="9.3" fill="rgba(0,150,25,0.500)" stroke="rgba(20,140,40,0.62)" stroke-width="1.5"/>
<circle cx="472.9" cy="1445.4" r="12.2" fill="rgba(0,150,25,0.500)" stroke="rgba(20,140,40,0.62)" stroke-width="1.5"/>
<circle cx="519.0" cy="1446.0" r="9.6" fill="rgba(0,150,25,0.500)" stroke="rgba(20,140,40,0.62)" stroke-width="1.5"/>
<circle cx="489.5" cy="1484.5" r="9.6" fill="rgba(0,150,25,0.500)" stroke="rgba(20,140,40,0.62)" stroke-width="1.5"/>
<circle cx="515.2" cy="1481.9" r="7.7" fill="rgba(0,150,25,0.500)" stroke="rgba(20,140,40,0.62)" stroke-width="1.5"/>
<circle cx="217.7" cy="1479.7" r="9.6" fill="rgba(232,0,0,0.500)" stroke="rgba(205,25,35,0.62)" stroke-width="1.5"/>
<line x1="348.4" y1="940.0" x2="348.4" y2="1608.0" stroke="#8a8a8a" stroke-width="3.4"/>
<line x1="74.0" y1="1497.0" x2="626.0" y2="1497.0" stroke="#808080" stroke-width="3" stroke-dasharray="14 14.2"/>
<line x1="462.0" y1="1527.0" x2="482.0" y2="1541.0" stroke="#999" stroke-width="2" stroke-opacity="0.8"/>
<line x1="455.0" y1="1533.0" x2="470.0" y2="1545.0" stroke="#999" stroke-width="2" stroke-opacity="0.8"/>
<line x1="431.0" y1="1565.7" x2="459.0" y2="1568.7" stroke="#999" stroke-width="2" stroke-opacity="0.8"/>
<line x1="478.0" y1="1552.0" x2="487.0" y2="1560.0" stroke="#999" stroke-width="2" stroke-opacity="0.8"/>
<line x1="505.5" y1="1561.8" x2="517.5" y2="1571.8" stroke="#999" stroke-width="2" stroke-opacity="0.8"/>
<line x1="545.0" y1="1568.0" x2="557.0" y2="1574.0" stroke="#999" stroke-width="2" stroke-opacity="0.8"/>
</g>
<g>
<rect x="507.3" y="970.8" width="65.0" height="18" fill="#fff" fill-opacity="0.85"/>
<text x="510.3" y="985.3" font-size="16.3" fill="#333">PHGDH</text>
<rect x="565.3" y="1099.7" width="58.6" height="18" fill="#fff" fill-opacity="0.85"/>
<text x="568.3" y="1114.2" font-size="16.3" fill="#333">GDF15</text>
<rect x="488.7" y="1133.8" width="74.7" height="18" fill="#fff" fill-opacity="0.85"/>
<text x="491.7" y="1148.3" font-size="16.3" fill="#333">SLC7A11</text>
<rect x="433.0" y="1447.6" width="66.8" height="18" fill="#fff" fill-opacity="0.85"/>
<text x="436.0" y="1462.1" font-size="16.3" fill="#333">SLC3A2</text>
<rect x="458.3" y="1464.2" width="48.6" height="18" fill="#fff" fill-opacity="0.85"/>
<text x="461.3" y="1478.7" font-size="16.3" fill="#333">JUNB</text>
<rect x="504.8" y="1462.0" width="39.6" height="18" fill="#fff" fill-opacity="0.85"/>
<text x="507.8" y="1476.5" font-size="16.3" fill="#333">CKB</text>
<rect x="171.7" y="1482.8" width="78.7" height="18" fill="#fff" fill-opacity="0.85"/>
<text x="174.7" y="1497.3" font-size="16.3" fill="#333">MT−ATP8</text>
<rect x="466.3" y="1489.2" width="55.9" height="18" fill="#fff" fill-opacity="0.85"/>
<text x="469.3" y="1503.7" font-size="16.3" fill="#333">MCAM</text>
<rect x="522.8" y="1494.4" width="52.3" height="18" fill="#fff" fill-opacity="0.85"/>
<text x="525.8" y="1508.9" font-size="16.3" fill="#333">TRIB3</text>
<rect x="367.9" y="1508.5" width="66.8" height="18" fill="#fff" fill-opacity="0.85"/>
<text x="370.9" y="1523.0" font-size="16.3" fill="#333">RIPOR1</text>
<rect x="432.0" y="1506.9" width="50.4" height="18" fill="#fff" fill-opacity="0.85"/>
<text x="435.0" y="1521.4" font-size="16.3" fill="#333">CTSD</text>
<rect x="483.3" y="1511.7" width="49.6" height="18" fill="#fff" fill-opacity="0.85"/>
<text x="486.3" y="1526.2" font-size="16.3" fill="#333">SDC2</text>
<rect x="553.2" y="1514.9" width="61.4" height="18" fill="#fff" fill-opacity="0.85"/>
<text x="556.2" y="1529.4" font-size="16.3" fill="#333">NUPR1</text>
<rect x="399.3" y="1525.5" width="66.8" height="18" fill="#fff" fill-opacity="0.85"/>
<text x="402.3" y="1540.0" font-size="16.3" fill="#333">SLC1A5</text>
<rect x="488.8" y="1529.3" width="66.8" height="18" fill="#fff" fill-opacity="0.85"/>
<text x="491.8" y="1543.8" font-size="16.3" fill="#333">SLC7A5</text>
<rect x="431.4" y="1542.1" width="42.3" height="18" fill="#fff" fill-opacity="0.85"/>
<text x="434.4" y="1556.6" font-size="16.3" fill="#333">GRN</text>
<rect x="472.1" y="1545.3" width="48.6" height="18" fill="#fff" fill-opacity="0.85"/>
<text x="475.1" y="1559.8" font-size="16.3" fill="#333">CDT1</text>
<rect x="562.9" y="1543.7" width="66.8" height="18" fill="#fff" fill-opacity="0.85"/>
<text x="565.9" y="1558.2" font-size="16.3" fill="#333">EEF1A2</text>
<rect x="364.7" y="1555.9" width="69.5" height="18" fill="#fff" fill-opacity="0.85"/>
<text x="367.7" y="1570.4" font-size="16.3" fill="#333">TNRC18</text>
<rect x="518.6" y="1560.4" width="84.0" height="18" fill="#fff" fill-opacity="0.85"/>
<text x="521.6" y="1574.9" font-size="16.3" fill="#333">HERPUD1</text>
<rect x="367.9" y="1573.2" width="57.4" height="18" fill="#fff" fill-opacity="0.85"/>
<text x="370.9" y="1587.7" font-size="16.3" fill="#333">EPAS1</text>
<rect x="422.4" y="1573.2" width="52.3" height="18" fill="#fff" fill-opacity="0.85"/>
<text x="425.4" y="1587.7" font-size="16.3" fill="#333">MRC2</text>
<rect x="472.1" y="1573.2" width="47.7" height="18" fill="#fff" fill-opacity="0.85"/>
<text x="475.1" y="1587.7" font-size="16.3" fill="#333">CST3</text>
<rect x="582.7" y="1577.4" width="45.9" height="18" fill="#fff" fill-opacity="0.85"/>
<text x="585.7" y="1591.9" font-size="16.3" fill="#333">JDP2</text>
<rect x="435.2" y="1590.2" width="67.7" height="18" fill="#fff" fill-opacity="0.85"/>
<text x="438.2" y="1604.7" font-size="16.3" fill="#333">GAS2L1</text>
</g>
<line x1="75.0" y1="940.0" x2="75.0" y2="1609.6" stroke="#000" stroke-width="3.3"/>
<line x1="73.4" y1="1608.0" x2="626.0" y2="1608.0" stroke="#000" stroke-width="3.3"/>
<line x1="186.2" y1="1608.0" x2="186.2" y2="1612.5" stroke="#333" stroke-width="2"/>
<text x="186.2" y="1637.0" text-anchor="middle" font-size="20.3" fill="#222">−1</text>
<line x1="348.4" y1="1608.0" x2="348.4" y2="1612.5" stroke="#333" stroke-width="2"/>
<text x="348.4" y="1637.0" text-anchor="middle" font-size="20.3" fill="#222">0</text>
<line x1="511.0" y1="1608.0" x2="511.0" y2="1612.5" stroke="#333" stroke-width="2"/>
<text x="511.0" y="1637.0" text-anchor="middle" font-size="20.3" fill="#222">1</text>
<line x1="69.5" y1="1040.7" x2="75.0" y2="1040.7" stroke="#333" stroke-width="2"/>
<text x="64.5" y="1045.5" text-anchor="end" font-size="20.3" fill="#222">10<tspan font-size="11.5" dy="-6.8">-4</tspan></text>
<line x1="69.5" y1="1175.0" x2="75.0" y2="1175.0" stroke="#333" stroke-width="2"/>
<text x="64.5" y="1179.8" text-anchor="end" font-size="20.3" fill="#222">10<tspan font-size="11.5" dy="-6.8">-3</tspan></text>
<line x1="69.5" y1="1309.0" x2="75.0" y2="1309.0" stroke="#333" stroke-width="2"/>
<text x="64.5" y="1313.8" text-anchor="end" font-size="20.3" fill="#222">10<tspan font-size="11.5" dy="-6.8">-2</tspan></text>
<line x1="69.5" y1="1442.5" x2="75.0" y2="1442.5" stroke="#333" stroke-width="2"/>
<text x="66.0" y="1448.5" text-anchor="end" font-size="20.3" fill="#222">0.1</text>
<line x1="69.5" y1="1497.0" x2="75.0" y2="1497.0" stroke="#333" stroke-width="2"/>
<text x="66.0" y="1503.0" text-anchor="end" font-size="20.3" fill="#222">0.25</text>
<line x1="69.5" y1="1578.0" x2="75.0" y2="1578.0" stroke="#333" stroke-width="2"/>
<text x="66.0" y="1584.0" text-anchor="end" font-size="20.3" fill="#222">1</text>
</g>
<g>
<text x="701.7" y="927.4" font-size="26.6" fill="#000">MSigDB Hallmarks</text>
<text transform="translate(649.5,1223.8) rotate(-90)" text-anchor="middle" font-size="26.5" fill="#000">Adjusted p−value (FDR)</text>
<text x="1012.0" y="1666.0" text-anchor="middle" font-size="26.5" fill="#000">log2FoldChange</text>
<clipPath id="cpb2"><rect x="702.5" y="938.0" width="554.3" height="670.0"/></clipPath>
<g clip-path="url(#cpb2)">
<circle cx="799.2" cy="1551.7" r="13.5" fill="rgba(192,192,192,0.500)" stroke="rgba(175,175,175,0.5)" stroke-width="1.5"/>
<circle cx="850.4" cy="1542.0" r="24.0" fill="rgba(192,192,192,0.500)" stroke="rgba(175,175,175,0.5)" stroke-width="1.5"/>
<circle cx="860.0" cy="1576.9" r="24.0" fill="rgba(192,192,192,0.500)" stroke="rgba(175,175,175,0.5)" stroke-width="1.5"/>
<circle cx="914.2" cy="1542.0" r="15.5" fill="rgba(192,192,192,0.500)" stroke="rgba(175,175,175,0.5)" stroke-width="1.5"/>
<circle cx="914.2" cy="1573.0" r="24.0" fill="rgba(192,192,192,0.500)" stroke="rgba(175,175,175,0.5)" stroke-width="1.5"/>
<circle cx="891.0" cy="1570.0" r="15.5" fill="rgba(192,192,192,0.500)" stroke="rgba(175,175,175,0.5)" stroke-width="1.5"/>
<circle cx="930.0" cy="1576.0" r="17.4" fill="rgba(192,192,192,0.500)" stroke="rgba(175,175,175,0.5)" stroke-width="1.5"/>
<circle cx="949.0" cy="1563.0" r="17.4" fill="rgba(192,192,192,0.500)" stroke="rgba(175,175,175,0.5)" stroke-width="1.5"/>
<circle cx="964.6" cy="1545.0" r="11.6" fill="rgba(192,192,192,0.500)" stroke="rgba(175,175,175,0.5)" stroke-width="1.5"/>
<circle cx="1068.0" cy="1566.0" r="17.4" fill="rgba(192,192,192,0.500)" stroke="rgba(175,175,175,0.5)" stroke-width="1.5"/>
<circle cx="1153.1" cy="1542.0" r="24.0" fill="rgba(192,192,192,0.500)" stroke="rgba(175,175,175,0.5)" stroke-width="1.5"/>
<circle cx="1161.2" cy="1559.5" r="24.0" fill="rgba(192,192,192,0.500)" stroke="rgba(175,175,175,0.5)" stroke-width="1.5"/>
<circle cx="727.6" cy="1168.4" r="24.0" fill="rgba(232,0,0,0.500)" stroke="rgba(205,25,35,0.62)" stroke-width="1.5"/>
<circle cx="767.9" cy="1185.8" r="24.0" fill="rgba(232,0,0,0.500)" stroke="rgba(205,25,35,0.62)" stroke-width="1.5"/>
<circle cx="771.0" cy="1252.4" r="24.0" fill="rgba(232,0,0,0.500)" stroke="rgba(205,25,35,0.62)" stroke-width="1.5"/>
<circle cx="783.4" cy="1422.0" r="16.3" fill="rgba(232,0,0,0.500)" stroke="rgba(205,25,35,0.62)" stroke-width="1.5"/>
<circle cx="775.6" cy="1472.3" r="24.0" fill="rgba(232,0,0,0.500)" stroke="rgba(205,25,35,0.62)" stroke-width="1.5"/>
<circle cx="838.0" cy="1467.7" r="17.4" fill="rgba(232,0,0,0.500)" stroke="rgba(205,25,35,0.62)" stroke-width="1.5"/>
<circle cx="914.2" cy="1497.5" r="19.4" fill="rgba(232,0,0,0.500)" stroke="rgba(205,25,35,0.62)" stroke-width="1.5"/>
<circle cx="885.6" cy="1532.3" r="17.8" fill="rgba(232,0,0,0.500)" stroke="rgba(205,25,35,0.62)" stroke-width="1.5"/>
<circle cx="938.2" cy="1530.4" r="12.4" fill="rgba(232,0,0,0.500)" stroke="rgba(205,25,35,0.62)" stroke-width="1.5"/>
<circle cx="1112.5" cy="969.8" r="24.0" fill="rgba(0,150,25,0.500)" stroke="rgba(20,140,40,0.62)" stroke-width="1.5"/>
<circle cx="1037.3" cy="1137.5" r="24.0" fill="rgba(0,150,25,0.500)" stroke="rgba(20,140,40,0.62)" stroke-width="1.5"/>
<circle cx="1072.2" cy="1187.0" r="24.0" fill="rgba(0,150,25,0.500)" stroke="rgba(20,140,40,0.62)" stroke-width="1.5"/>
<circle cx="1045.1" cy="1208.3" r="24.0" fill="rgba(0,150,25,0.500)" stroke="rgba(20,140,40,0.62)" stroke-width="1.5"/>
<circle cx="1174.4" cy="1274.1" r="24.0" fill="rgba(0,150,25,0.500)" stroke="rgba(20,140,40,0.62)" stroke-width="1.5"/>
<circle cx="1119.4" cy="1288.4" r="23.0" fill="rgba(0,150,25,0.500)" stroke="rgba(20,140,40,0.62)" stroke-width="1.5"/>
<circle cx="1162.0" cy="1307.8" r="19.4" fill="rgba(0,150,25,0.500)" stroke="rgba(20,140,40,0.62)" stroke-width="1.5"/>
<circle cx="1094.3" cy="1302.0" r="21.3" fill="rgba(0,150,25,0.500)" stroke="rgba(20,140,40,0.62)" stroke-width="1.5"/>
<circle cx="1150.0" cy="1315.6" r="23.0" fill="rgba(0,150,25,0.500)" stroke="rgba(20,140,40,0.62)" stroke-width="1.5"/>
<circle cx="1131.0" cy="1319.5" r="19.4" fill="rgba(0,150,25,0.500)" stroke="rgba(20,140,40,0.62)" stroke-width="1.5"/>
<circle cx="1158.0" cy="1321.0" r="17.4" fill="rgba(0,150,25,0.500)" stroke="rgba(20,140,40,0.62)" stroke-width="1.5"/>
<circle cx="1152.0" cy="1318.0" r="10.0" fill="rgba(0,150,25,0.500)" stroke="rgba(20,140,40,0.62)" stroke-width="1.5"/>
<circle cx="1080.7" cy="1331.0" r="21.3" fill="rgba(0,150,25,0.500)" stroke="rgba(20,140,40,0.62)" stroke-width="1.5"/>
<circle cx="1162.0" cy="1333.0" r="21.3" fill="rgba(0,150,25,0.500)" stroke="rgba(20,140,40,0.62)" stroke-width="1.5"/>
<circle cx="987.0" cy="1362.0" r="24.0" fill="rgba(0,150,25,0.500)" stroke="rgba(20,140,40,0.62)" stroke-width="1.5"/>
<circle cx="1040.0" cy="1418.1" r="24.0" fill="rgba(0,150,25,0.500)" stroke="rgba(20,140,40,0.62)" stroke-width="1.5"/>
<circle cx="1112.0" cy="1461.0" r="16.0" fill="rgba(0,150,25,0.500)" stroke="rgba(20,140,40,0.62)" stroke-width="1.5"/>
<circle cx="1230.9" cy="1471.2" r="11.6" fill="rgba(0,150,25,0.500)" stroke="rgba(20,140,40,0.62)" stroke-width="1.5"/>
<circle cx="1107.0" cy="1484.0" r="23.0" fill="rgba(0,150,25,0.500)" stroke="rgba(20,140,40,0.62)" stroke-width="1.5"/>
<circle cx="1049.7" cy="1478.1" r="10.8" fill="rgba(0,150,25,0.500)" stroke="rgba(20,140,40,0.62)" stroke-width="1.5"/>
<circle cx="1001.3" cy="1484.0" r="24.0" fill="rgba(0,150,25,0.500)" stroke="rgba(20,140,40,0.62)" stroke-width="1.5"/>
<circle cx="1018.8" cy="1513.0" r="24.0" fill="rgba(0,150,25,0.500)" stroke="rgba(20,140,40,0.62)" stroke-width="1.5"/>
<circle cx="1055.5" cy="1518.8" r="24.0" fill="rgba(0,150,25,0.500)" stroke="rgba(20,140,40,0.62)" stroke-width="1.5"/>
<circle cx="1013.0" cy="1520.0" r="8.0" fill="rgba(0,150,25,0.500)" stroke="rgba(20,140,40,0.62)" stroke-width="1.5"/>
<circle cx="1020.0" cy="1510.0" r="14.0" fill="rgba(0,150,25,0.500)" stroke="rgba(20,140,40,0.62)" stroke-width="1.5"/>
<line x1="940.6" y1="940.0" x2="940.6" y2="1608.0" stroke="#8a8a8a" stroke-width="3.4"/>
<line x1="701.5" y1="1537.0" x2="1253.8" y2="1537.0" stroke="#808080" stroke-width="3" stroke-dasharray="14 14.2"/>
<line x1="1081.0" y1="1282.5" x2="1119.0" y2="1287.0" stroke="#999" stroke-width="2" stroke-opacity="0.8"/>
<line x1="1058.0" y1="1350.0" x2="1073.0" y2="1337.0" stroke="#999" stroke-width="2" stroke-opacity="0.8"/>
<line x1="1100.0" y1="1318.0" x2="1118.0" y2="1313.0" stroke="#999" stroke-width="2" stroke-opacity="0.8"/>
</g>
<g>
<rect x="1007.2" y="950.7" width="239.3" height="18" fill="#fff" fill-opacity="0.50"/>
<text x="1010.2" y="965.2" font-size="16.3" fill="#333">TNF−alpha Signaling via NF−kB</text>
<rect x="999.1" y="1117.1" width="100.4" height="18" fill="#fff" fill-opacity="0.50"/>
<text x="1002.1" y="1131.6" font-size="16.3" fill="#333">p53 Pathway</text>
<rect x="714.6" y="1150.1" width="118.2" height="18" fill="#fff" fill-opacity="0.50"/>
<text x="717.6" y="1164.6" font-size="16.3" fill="#333">Myc Targets V1</text>
<rect x="1037.8" y="1167.5" width="93.1" height="18" fill="#fff" fill-opacity="0.50"/>
<text x="1040.8" y="1182.0" font-size="16.3" fill="#333">Myogenesis</text>
<rect x="712.2" y="1188.0" width="137.2" height="18" fill="#fff" fill-opacity="0.50"/>
<text x="715.2" y="1202.5" font-size="16.3" fill="#333">G2−M Checkpoint</text>
<rect x="934.5" y="1189.9" width="252.9" height="18" fill="#fff" fill-opacity="0.50"/>
<text x="937.5" y="1204.4" font-size="16.3" fill="#333">Epithelial Mesenchymal Transition</text>
<rect x="734.7" y="1233.3" width="93.8" height="18" fill="#fff" fill-opacity="0.50"/>
<text x="737.7" y="1247.8" font-size="16.3" fill="#333">E2F Targets</text>
<rect x="1077.0" y="1254.5" width="185.8" height="18" fill="#fff" fill-opacity="0.50"/>
<text x="1080.0" y="1269.0" font-size="16.3" fill="#333">Estrogen Response Late</text>
<rect x="966.6" y="1271.2" width="115.9" height="18" fill="#fff" fill-opacity="0.50"/>
<text x="969.6" y="1285.7" font-size="16.3" fill="#333">Apical Junction</text>
<rect x="959.2" y="1288.6" width="207.5" height="18" fill="#fff" fill-opacity="0.50"/>
<text x="962.2" y="1303.1" font-size="16.3" fill="#333">Interferon Gamma Respons</text>
<rect x="1165.6" y="1285.5" width="93.2" height="18" fill="#fff" fill-opacity="0.50"/>
<text x="1168.6" y="1300.0" font-size="16.3" fill="#333">Coagulation</text>
<rect x="970.1" y="1306.8" width="132.2" height="18" fill="#fff" fill-opacity="0.50"/>
<text x="973.1" y="1321.3" font-size="16.3" fill="#333">UV Response Up</text>
<rect x="1035.1" y="1323.5" width="191.2" height="18" fill="#fff" fill-opacity="0.50"/>
<text x="1038.1" y="1338.0" font-size="16.3" fill="#333">Estrogen Response Early</text>
<rect x="980.9" y="1340.9" width="77.7" height="18" fill="#fff" fill-opacity="0.50"/>
<text x="983.9" y="1355.4" font-size="16.3" fill="#333">Apoptosis</text>
<rect x="1064.2" y="1340.9" width="199.4" height="18" fill="#fff" fill-opacity="0.50"/>
<text x="1067.2" y="1355.4" font-size="16.3" fill="#333">Interferon Alpha Response</text>
<rect x="729.3" y="1402.9" width="131.3" height="18" fill="#fff" fill-opacity="0.50"/>
<text x="732.3" y="1417.4" font-size="16.3" fill="#333">Protein Secretion</text>
<rect x="777.7" y="1462.9" width="195.8" height="18" fill="#fff" fill-opacity="0.50"/>
<text x="780.7" y="1477.4" font-size="16.3" fill="#333">Oxidative Phosphorylation</text>
<rect x="1031.2" y="1446.2" width="197.4" height="18" fill="#fff" fill-opacity="0.50"/>
<text x="1034.2" y="1460.7" font-size="16.3" fill="#333">IL−6/JAK/STAT3 Signaling</text>
<rect x="1081.6" y="1466.7" width="153.1" height="18" fill="#fff" fill-opacity="0.50"/>
<text x="1084.6" y="1481.2" font-size="16.3" fill="#333">Hedgehog Signaling</text>
<rect x="1013.8" y="1487.7" width="178.5" height="18" fill="#fff" fill-opacity="0.50"/>
<text x="1016.8" y="1502.2" font-size="16.3" fill="#333">Inflammatory Response</text>
</g>
<line x1="702.5" y1="940.0" x2="702.5" y2="1609.6" stroke="#000" stroke-width="3.3"/>
<line x1="700.9" y1="1608.0" x2="1253.8" y2="1608.0" stroke="#000" stroke-width="3.3"/>
<line x1="779.5" y1="1608.0" x2="779.5" y2="1612.5" stroke="#333" stroke-width="2"/>
<text x="779.5" y="1637.0" text-anchor="middle" font-size="20.3" fill="#222">−0.2</text>
<line x1="940.6" y1="1608.0" x2="940.6" y2="1612.5" stroke="#333" stroke-width="2"/>
<text x="940.6" y="1637.0" text-anchor="middle" font-size="20.3" fill="#222">0.0</text>
<line x1="1102.0" y1="1608.0" x2="1102.0" y2="1612.5" stroke="#333" stroke-width="2"/>
<text x="1102.0" y="1637.0" text-anchor="middle" font-size="20.3" fill="#222">0.2</text>
<line x1="697.0" y1="1098.7" x2="702.5" y2="1098.7" stroke="#333" stroke-width="2"/>
<text x="695.3" y="1105.6" text-anchor="end" font-size="20.3" fill="#222">10<tspan font-size="11.5" dy="-6.8">-15</tspan></text>
<line x1="697.0" y1="1258.6" x2="702.5" y2="1258.6" stroke="#333" stroke-width="2"/>
<text x="695.3" y="1265.5" text-anchor="end" font-size="20.3" fill="#222">10<tspan font-size="11.5" dy="-6.8">-10</tspan></text>
<line x1="697.0" y1="1418.1" x2="702.5" y2="1418.1" stroke="#333" stroke-width="2"/>
<text x="695.3" y="1425.0" text-anchor="end" font-size="20.3" fill="#222">10<tspan font-size="11.5" dy="-6.8">-5</tspan></text>
<line x1="697.0" y1="1537.0" x2="702.5" y2="1537.0" stroke="#333" stroke-width="2"/>
<text x="695.0" y="1543.0" text-anchor="end" font-size="20.3" fill="#222">0.05</text>
<line x1="697.0" y1="1578.8" x2="702.5" y2="1578.8" stroke="#333" stroke-width="2"/>
<text x="695.0" y="1584.8" text-anchor="end" font-size="20.3" fill="#222">1</text>
</g>
<g>
<text x="1326.2" y="927.4" font-size="26.6" fill="#000">DoRothEA TF regulons</text>
<text transform="translate(1279.0,1223.8) rotate(-90)" text-anchor="middle" font-size="26.5" fill="#000">Adjusted p−value (FDR)</text>
<text x="1635.9" y="1666.0" text-anchor="middle" font-size="26.5" fill="#000">log2FoldChange</text>
<clipPath id="cpb3"><rect x="1327.3" y="938.0" width="552.7" height="670.0"/></clipPath>
<g clip-path="url(#cpb3)">
<circle cx="1472.4" cy="1441.4" r="27.9" fill="rgba(192,192,192,0.500)" stroke="rgba(175,175,175,0.5)" stroke-width="1.5"/>
<circle cx="1587.4" cy="1464.6" r="10.8" fill="rgba(192,192,192,0.500)" stroke="rgba(175,175,175,0.5)" stroke-width="1.5"/>
<circle cx="1571.9" cy="1474.3" r="9.7" fill="rgba(192,192,192,0.500)" stroke="rgba(175,175,175,0.5)" stroke-width="1.5"/>
<circle cx="1594.4" cy="1474.3" r="12.4" fill="rgba(192,192,192,0.500)" stroke="rgba(175,175,175,0.5)" stroke-width="1.5"/>
<circle cx="1707.5" cy="1480.0" r="17.4" fill="rgba(192,192,192,0.500)" stroke="rgba(175,175,175,0.5)" stroke-width="1.5"/>
<circle cx="1731.4" cy="1473.0" r="8.5" fill="rgba(192,192,192,0.500)" stroke="rgba(175,175,175,0.5)" stroke-width="1.5"/>
<circle cx="1750.0" cy="1481.0" r="8.5" fill="rgba(192,192,192,0.500)" stroke="rgba(175,175,175,0.5)" stroke-width="1.5"/>
<circle cx="1709.5" cy="1507.0" r="11.6" fill="rgba(192,192,192,0.500)" stroke="rgba(175,175,175,0.5)" stroke-width="1.5"/>
<circle cx="1756.2" cy="1522.7" r="14.7" fill="rgba(192,192,192,0.500)" stroke="rgba(175,175,175,0.5)" stroke-width="1.5"/>
<circle cx="1424.0" cy="1536.2" r="29.0" fill="rgba(192,192,192,0.500)" stroke="rgba(175,175,175,0.5)" stroke-width="1.5"/>
<circle cx="1439.5" cy="1528.5" r="10.8" fill="rgba(192,192,192,0.500)" stroke="rgba(175,175,175,0.5)" stroke-width="1.5"/>
<circle cx="1475.2" cy="1532.3" r="19.4" fill="rgba(192,192,192,0.500)" stroke="rgba(175,175,175,0.5)" stroke-width="1.5"/>
<circle cx="1418.2" cy="1576.9" r="33.0" fill="rgba(192,192,192,0.500)" stroke="rgba(175,175,175,0.5)" stroke-width="1.5"/>
<circle cx="1418.2" cy="1567.0" r="15.5" fill="rgba(192,192,192,0.500)" stroke="rgba(175,175,175,0.5)" stroke-width="1.5"/>
<circle cx="1364.8" cy="1553.6" r="11.6" fill="rgba(192,192,192,0.500)" stroke="rgba(175,175,175,0.5)" stroke-width="1.5"/>
<circle cx="1380.3" cy="1548.5" r="8.5" fill="rgba(192,192,192,0.500)" stroke="rgba(175,175,175,0.5)" stroke-width="1.5"/>
<circle cx="1516.6" cy="1547.7" r="10.8" fill="rgba(192,192,192,0.500)" stroke="rgba(175,175,175,0.5)" stroke-width="1.5"/>
<circle cx="1554.5" cy="1555.5" r="9.7" fill="rgba(192,192,192,0.500)" stroke="rgba(175,175,175,0.5)" stroke-width="1.5"/>
<circle cx="1582.7" cy="1576.9" r="7.7" fill="rgba(192,192,192,0.500)" stroke="rgba(175,175,175,0.5)" stroke-width="1.5"/>
<circle cx="1626.1" cy="1573.8" r="9.7" fill="rgba(192,192,192,0.500)" stroke="rgba(175,175,175,0.5)" stroke-width="1.5"/>
<circle cx="1570.0" cy="969.8" r="29.0" fill="rgba(0,150,25,0.500)" stroke="rgba(20,140,40,0.62)" stroke-width="1.5"/>
<circle cx="1560.0" cy="971.0" r="19.0" fill="rgba(0,150,25,0.500)" stroke="rgba(20,140,40,0.62)" stroke-width="1.5"/>
<circle cx="1594.4" cy="969.8" r="17.4" fill="rgba(0,150,25,0.500)" stroke="rgba(20,140,40,0.62)" stroke-width="1.5"/>
<circle cx="1548.7" cy="969.8" r="8.0" fill="rgba(0,150,25,0.500)" stroke="rgba(20,140,40,0.62)" stroke-width="1.5"/>
<circle cx="1607.6" cy="1046.5" r="9.7" fill="rgba(0,150,25,0.500)" stroke="rgba(20,140,40,0.62)" stroke-width="1.5"/>
<circle cx="1727.6" cy="1117.0" r="19.4" fill="rgba(0,150,25,0.500)" stroke="rgba(20,140,40,0.62)" stroke-width="1.5"/>
<circle cx="1577.4" cy="1151.0" r="20.0" fill="rgba(0,150,25,0.500)" stroke="rgba(20,140,40,0.62)" stroke-width="1.5"/>
<circle cx="1624.2" cy="1152.9" r="8.5" fill="rgba(0,150,25,0.500)" stroke="rgba(20,140,40,0.62)" stroke-width="1.5"/>
<circle cx="1653.2" cy="1185.8" r="17.4" fill="rgba(0,150,25,0.500)" stroke="rgba(20,140,40,0.62)" stroke-width="1.5"/>
<circle cx="1672.6" cy="1185.8" r="15.5" fill="rgba(0,150,25,0.500)" stroke="rgba(20,140,40,0.62)" stroke-width="1.5"/>
<circle cx="1724.9" cy="1185.8" r="20.0" fill="rgba(0,150,25,0.500)" stroke="rgba(20,140,40,0.62)" stroke-width="1.5"/>
<circle cx="1599.0" cy="1183.9" r="9.7" fill="rgba(0,150,25,0.500)" stroke="rgba(20,140,40,0.62)" stroke-width="1.5"/>
<circle cx="1852.6" cy="1184.7" r="9.7" fill="rgba(0,150,25,0.500)" stroke="rgba(20,140,40,0.62)" stroke-width="1.5"/>
<circle cx="1655.2" cy="1238.1" r="13.5" fill="rgba(0,150,25,0.500)" stroke="rgba(20,140,40,0.62)" stroke-width="1.5"/>
<circle cx="1738.4" cy="1247.8" r="10.8" fill="rgba(0,150,25,0.500)" stroke="rgba(20,140,40,0.62)" stroke-width="1.5"/>
<circle cx="1487.9" cy="1278.8" r="14.7" fill="rgba(0,150,25,0.500)" stroke="rgba(20,140,40,0.62)" stroke-width="1.5"/>
<circle cx="1537.1" cy="1309.7" r="21.3" fill="rgba(0,150,25,0.500)" stroke="rgba(20,140,40,0.62)" stroke-width="1.5"/>
<circle cx="1639.7" cy="1309.7" r="16.3" fill="rgba(0,150,25,0.500)" stroke="rgba(20,140,40,0.62)" stroke-width="1.5"/>
<circle cx="1705.5" cy="1342.6" r="8.5" fill="rgba(0,150,25,0.500)" stroke="rgba(20,140,40,0.62)" stroke-width="1.5"/>
<circle cx="1507.3" cy="1354.3" r="8.5" fill="rgba(0,150,25,0.500)" stroke="rgba(20,140,40,0.62)" stroke-width="1.5"/>
<circle cx="1526.6" cy="1362.0" r="21.3" fill="rgba(0,150,25,0.500)" stroke="rgba(20,140,40,0.62)" stroke-width="1.5"/>
<circle cx="1531.3" cy="1376.7" r="8.5" fill="rgba(0,150,25,0.500)" stroke="rgba(20,140,40,0.62)" stroke-width="1.5"/>
<circle cx="1602.9" cy="1353.1" r="15.5" fill="rgba(0,150,25,0.500)" stroke="rgba(20,140,40,0.62)" stroke-width="1.5"/>
<circle cx="1676.5" cy="1353.1" r="8.5" fill="rgba(0,150,25,0.500)" stroke="rgba(20,140,40,0.62)" stroke-width="1.5"/>
<circle cx="1681.1" cy="1420.0" r="10.8" fill="rgba(0,150,25,0.500)" stroke="rgba(20,140,40,0.62)" stroke-width="1.5"/>
<circle cx="1631.2" cy="1425.9" r="15.5" fill="rgba(0,150,25,0.500)" stroke="rgba(20,140,40,0.62)" stroke-width="1.5"/>
<circle cx="1501.5" cy="1431.7" r="16.3" fill="rgba(0,150,25,0.500)" stroke="rgba(20,140,40,0.62)" stroke-width="1.5"/>
<circle cx="1351.3" cy="1372.8" r="25.2" fill="rgba(232,0,0,0.500)" stroke="rgba(205,25,35,0.62)" stroke-width="1.5"/>
<circle cx="1443.0" cy="1405.7" r="9.7" fill="rgba(232,0,0,0.500)" stroke="rgba(205,25,35,0.62)" stroke-width="1.5"/>
<line x1="1450.4" y1="940.0" x2="1450.4" y2="1608.0" stroke="#8a8a8a" stroke-width="3.4"/>
<line x1="1326.3" y1="1438.7" x2="1877.0" y2="1438.7" stroke="#808080" stroke-width="3" stroke-dasharray="14 14.2"/>
</g>
<g>
<rect x="1549.6" y="949.9" width="61.4" height="18" fill="#fff" fill-opacity="0.50"/>
<text x="1552.6" y="964.4" font-size="16.3" fill="#333">SP1 (a)</text>
<rect x="1514.7" y="970.8" width="69.5" height="18" fill="#fff" fill-opacity="0.50"/>
<text x="1517.7" y="985.3" font-size="16.3" fill="#333">TP53 (a)</text>
<rect x="1579.8" y="970.8" width="75.0" height="18" fill="#fff" fill-opacity="0.50"/>
<text x="1582.8" y="985.3" font-size="16.3" fill="#333">EGR1 (a)</text>
<rect x="1558.1" y="1049.4" width="86.7" height="18" fill="#fff" fill-opacity="0.50"/>
<text x="1561.1" y="1063.9" font-size="16.3" fill="#333">SMAD3 (a)</text>
<rect x="1683.9" y="1119.1" width="72.3" height="18" fill="#fff" fill-opacity="0.50"/>
<text x="1686.9" y="1133.6" font-size="16.3" fill="#333">RELA (a)</text>
<rect x="1534.1" y="1131.9" width="73.1" height="18" fill="#fff" fill-opacity="0.50"/>
<text x="1537.1" y="1146.4" font-size="16.3" fill="#333">ESR1 (a)</text>
<rect x="1626.2" y="1149.3" width="86.7" height="18" fill="#fff" fill-opacity="0.50"/>
<text x="1629.2" y="1163.8" font-size="16.3" fill="#333">SMAD4 (a)</text>
<rect x="1612.3" y="1167.5" width="71.3" height="18" fill="#fff" fill-opacity="0.50"/>
<text x="1615.3" y="1182.0" font-size="16.3" fill="#333">ETS1 (a)</text>
<rect x="1694.0" y="1167.5" width="83.1" height="18" fill="#fff" fill-opacity="0.50"/>
<text x="1697.0" y="1182.0" font-size="16.3" fill="#333">NFKB1 (a)</text>
<rect x="1550.4" y="1188.0" width="85.8" height="18" fill="#fff" fill-opacity="0.50"/>
<text x="1553.4" y="1202.5" font-size="16.3" fill="#333">FOXO3 (a)</text>
<rect x="1653.3" y="1188.0" width="62.2" height="18" fill="#fff" fill-opacity="0.50"/>
<text x="1656.3" y="1202.5" font-size="16.3" fill="#333">JUN (a)</text>
<rect x="1805.9" y="1188.0" width="75.0" height="18" fill="#fff" fill-opacity="0.50"/>
<text x="1808.9" y="1202.5" font-size="16.3" fill="#333">RARA (a)</text>
<rect x="1604.6" y="1218.6" width="90.4" height="18" fill="#fff" fill-opacity="0.50"/>
<text x="1607.6" y="1233.1" font-size="16.3" fill="#333">TFAP2A (a)</text>
<rect x="1706.4" y="1250.7" width="85.8" height="18" fill="#fff" fill-opacity="0.50"/>
<text x="1709.4" y="1265.2" font-size="16.3" fill="#333">CEBPB (a)</text>
<rect x="1617.3" y="1289.4" width="64.1" height="18" fill="#fff" fill-opacity="0.50"/>
<text x="1620.3" y="1303.9" font-size="16.3" fill="#333">FOS (a)</text>
<rect x="1683.2" y="1322.3" width="65.9" height="18" fill="#fff" fill-opacity="0.50"/>
<text x="1686.2" y="1336.8" font-size="16.3" fill="#333">MYB (a)</text>
<rect x="1565.9" y="1356.4" width="61.4" height="18" fill="#fff" fill-opacity="0.50"/>
<text x="1568.9" y="1370.9" font-size="16.3" fill="#333">SP3 (a)</text>
<rect x="1634.8" y="1356.4" width="69.2" height="18" fill="#fff" fill-opacity="0.50"/>
<text x="1637.8" y="1370.9" font-size="16.3" fill="#333">ATF2 (a)</text>
<rect x="1656.0" y="1400.5" width="72.2" height="18" fill="#fff" fill-opacity="0.50"/>
<text x="1659.0" y="1415.0" font-size="16.3" fill="#333">USF2 (a)</text>
<rect x="1583.3" y="1427.6" width="83.1" height="18" fill="#fff" fill-opacity="0.50"/>
<text x="1586.3" y="1442.1" font-size="16.3" fill="#333">HNF4A (a)</text>
</g>
<line x1="1327.3" y1="940.0" x2="1327.3" y2="1609.6" stroke="#000" stroke-width="3.3"/>
<line x1="1325.7" y1="1608.0" x2="1877.0" y2="1608.0" stroke="#000" stroke-width="3.3"/>
<line x1="1450.4" y1="1608.0" x2="1450.4" y2="1612.5" stroke="#333" stroke-width="2"/>
<text x="1450.4" y="1637.0" text-anchor="middle" font-size="20.3" fill="#222">0.0</text>
<line x1="1601.0" y1="1608.0" x2="1601.0" y2="1612.5" stroke="#333" stroke-width="2"/>
<text x="1601.0" y="1637.0" text-anchor="middle" font-size="20.3" fill="#222">0.2</text>
<line x1="1750.8" y1="1608.0" x2="1750.8" y2="1612.5" stroke="#333" stroke-width="2"/>
<text x="1750.8" y="1637.0" text-anchor="middle" font-size="20.3" fill="#222">0.4</text>
<line x1="1321.8" y1="940.0" x2="1327.3" y2="940.0" stroke="#333" stroke-width="2"/>
<text x="1320.1" y="946.9" text-anchor="end" font-size="20.3" fill="#222">10<tspan font-size="11.5" dy="-6.8">-6</tspan></text>
<line x1="1321.8" y1="1046.5" x2="1327.3" y2="1046.5" stroke="#333" stroke-width="2"/>
<text x="1320.1" y="1053.4" text-anchor="end" font-size="20.3" fill="#222">10<tspan font-size="11.5" dy="-6.8">-5</tspan></text>
<line x1="1321.8" y1="1152.9" x2="1327.3" y2="1152.9" stroke="#333" stroke-width="2"/>
<text x="1320.1" y="1159.8" text-anchor="end" font-size="20.3" fill="#222">10<tspan font-size="11.5" dy="-6.8">-4</tspan></text>
<line x1="1321.8" y1="1259.4" x2="1327.3" y2="1259.4" stroke="#333" stroke-width="2"/>
<text x="1320.1" y="1266.3" text-anchor="end" font-size="20.3" fill="#222">10<tspan font-size="11.5" dy="-6.8">-3</tspan></text>
<line x1="1321.8" y1="1363.9" x2="1327.3" y2="1363.9" stroke="#333" stroke-width="2"/>
<text x="1320.1" y="1370.8" text-anchor="end" font-size="20.3" fill="#222">10<tspan font-size="11.5" dy="-6.8">-2</tspan></text>
<line x1="1321.8" y1="1438.7" x2="1327.3" y2="1438.7" stroke="#333" stroke-width="2"/>
<text x="1319.8" y="1444.7" text-anchor="end" font-size="20.3" fill="#222">0.05</text>
<line x1="1321.8" y1="1470.4" x2="1327.3" y2="1470.4" stroke="#333" stroke-width="2"/>
<text x="1319.8" y="1476.4" text-anchor="end" font-size="20.3" fill="#222">0.1</text>
<line x1="1321.8" y1="1576.9" x2="1327.3" y2="1576.9" stroke="#333" stroke-width="2"/>
<text x="1319.8" y="1582.9" text-anchor="end" font-size="20.3" fill="#222">1</text>
</g>
<g>
<text x="74.7" y="1761.8" font-size="26.6" fill="#000">Genes</text>
<text transform="translate(22.0,2094.0) rotate(-90)" text-anchor="middle" font-size="21.8" fill="#000">Adjusted p−value (FDR)</text>
<text x="383.9" y="2508.0" text-anchor="middle" font-size="26.5" fill="#000">log2FoldChange</text>
<clipPath id="cpc1"><rect x="74.8" y="1783.3" width="552.2" height="669.9"/></clipPath>
<g clip-path="url(#cpc1)">
<path d="M257.7,2415.5 C263.5,2414.3 279.5,2416.0 292.6,2417.0 C305.7,2418.0 324.1,2421.1 336.2,2421.3 C348.3,2421.5 357.9,2421.8 365.2,2418.4 C372.4,2415.0 374.9,2404.9 379.7,2401.0 C384.5,2397.1 385.8,2394.5 394.2,2395.2 C402.6,2395.9 419.1,2402.5 430.0,2405.0 C440.9,2407.5 451.3,2409.2 459.6,2410.0 C467.9,2410.8 473.3,2409.7 480.0,2410.0 C486.7,2410.3 491.7,2411.8 500.0,2412.0 C508.3,2412.2 525.0,2409.8 530.0,2411.0 C535.0,2412.2 535.0,2417.3 530.0,2419.0 C525.0,2420.7 510.0,2420.3 500.0,2421.0 C490.0,2421.7 476.7,2422.5 470.0,2423.0 C463.3,2423.5 465.0,2424.0 459.6,2424.2 C454.2,2424.4 443.9,2423.2 437.8,2424.2 C431.8,2425.2 428.2,2427.6 423.3,2430.0 C418.4,2432.4 413.6,2436.5 408.7,2438.7 C403.8,2440.9 400.2,2442.8 394.2,2443.1 C388.1,2443.3 378.4,2441.2 372.4,2440.2 C366.3,2439.2 361.5,2438.5 357.9,2437.3 C354.3,2436.1 359.2,2434.6 350.7,2432.9 C342.2,2431.2 322.6,2428.6 307.1,2427.1 C291.6,2425.6 265.9,2426.1 257.7,2424.2 C249.5,2422.3 251.9,2416.7 257.7,2415.5 Z" fill="#d3d3d3" fill-opacity="1.00"/>
<path d="M233.0,2402.0 C234.2,2399.7 235.2,2395.8 240.0,2394.0 C244.8,2392.2 253.3,2391.3 262.0,2391.0 C270.7,2390.7 286.7,2394.5 292.0,2392.0 C297.3,2389.5 291.0,2379.0 294.0,2376.0 C297.0,2373.0 304.0,2374.7 310.0,2374.0 C316.0,2373.3 322.5,2372.2 330.0,2372.0 C337.5,2371.8 348.7,2371.3 355.0,2373.0 C361.3,2374.7 364.8,2378.8 368.0,2382.0 C371.2,2385.2 372.8,2388.2 374.0,2392.0 C375.2,2395.8 375.8,2401.2 375.5,2405.0 C375.2,2408.8 374.6,2412.5 372.0,2415.0 C369.4,2417.5 365.3,2419.0 360.0,2420.0 C354.7,2421.0 346.7,2421.0 340.0,2421.0 C333.3,2421.0 326.7,2420.7 320.0,2420.0 C313.3,2419.3 306.7,2418.0 300.0,2417.0 C293.3,2416.0 286.3,2414.8 280.0,2414.0 C273.7,2413.2 268.7,2412.5 262.0,2412.0 C255.3,2411.5 244.8,2411.7 240.0,2411.0 C235.2,2410.3 234.2,2409.5 233.0,2408.0 C231.8,2406.5 231.8,2404.3 233.0,2402.0 Z" fill="#e00000" fill-opacity="1.00"/>
<path d="M401.5,2392.4 C403.2,2389.2 406.7,2386.2 410.2,2384.6 C413.7,2383.0 418.2,2382.9 422.5,2382.9 C426.8,2382.9 433.0,2383.6 436.2,2384.6 C439.4,2385.6 440.7,2386.6 441.5,2388.9 C442.3,2391.2 442.1,2395.2 440.8,2398.4 C439.5,2401.6 436.5,2405.3 433.7,2407.9 C430.9,2410.5 428.1,2412.7 424.2,2414.0 C420.3,2415.3 414.0,2416.0 410.2,2415.7 C406.4,2415.4 403.2,2414.2 401.5,2412.2 C399.8,2410.2 399.8,2407.0 399.8,2403.7 C399.8,2400.4 399.8,2395.6 401.5,2392.4 Z" fill="#03961e" fill-opacity="1.00"/>
<circle cx="392.0" cy="2425.0" r="14.0" fill="rgba(192,192,192,0.500)" stroke="rgba(175,175,175,0.5)" stroke-width="1.5"/>
<circle cx="408.0" cy="2430.0" r="12.0" fill="rgba(192,192,192,0.500)" stroke="rgba(175,175,175,0.5)" stroke-width="1.5"/>
<circle cx="372.0" cy="2432.0" r="8.0" fill="rgba(192,192,192,0.500)" stroke="rgba(175,175,175,0.5)" stroke-width="1.5"/>
<circle cx="360.0" cy="2430.0" r="7.0" fill="rgba(192,192,192,0.500)" stroke="rgba(175,175,175,0.5)" stroke-width="1.5"/>
<circle cx="450.0" cy="2419.0" r="6.0" fill="rgba(192,192,192,0.500)" stroke="rgba(175,175,175,0.5)" stroke-width="1.5"/>
<circle cx="470.0" cy="2418.0" r="5.0" fill="rgba(192,192,192,0.500)" stroke="rgba(175,175,175,0.5)" stroke-width="1.5"/>
<circle cx="490.0" cy="2417.0" r="5.0" fill="rgba(192,192,192,0.500)" stroke="rgba(175,175,175,0.5)" stroke-width="1.5"/>
<circle cx="505.0" cy="2417.0" r="6.0" fill="rgba(192,192,192,0.500)" stroke="rgba(175,175,175,0.5)" stroke-width="1.5"/>
<circle cx="520.0" cy="2416.0" r="5.0" fill="rgba(192,192,192,0.500)" stroke="rgba(175,175,175,0.5)" stroke-width="1.5"/>
<circle cx="465.0" cy="2414.0" r="4.0" fill="rgba(192,192,192,0.500)" stroke="rgba(175,175,175,0.5)" stroke-width="1.5"/>
<circle cx="500.0" cy="2412.0" r="4.0" fill="rgba(192,192,192,0.500)" stroke="rgba(175,175,175,0.5)" stroke-width="1.5"/>
<circle cx="280.0" cy="2420.0" r="5.0" fill="rgba(192,192,192,0.500)" stroke="rgba(175,175,175,0.5)" stroke-width="1.5"/>
<circle cx="300.0" cy="2422.0" r="5.0" fill="rgba(192,192,192,0.500)" stroke="rgba(175,175,175,0.5)" stroke-width="1.5"/>
<circle cx="320.0" cy="2424.0" r="6.0" fill="rgba(192,192,192,0.500)" stroke="rgba(175,175,175,0.5)" stroke-width="1.5"/>
<circle cx="340.0" cy="2426.0" r="6.0" fill="rgba(192,192,192,0.500)" stroke="rgba(175,175,175,0.5)" stroke-width="1.5"/>
<circle cx="400.0" cy="2408.0" r="8.0" fill="rgba(192,192,192,0.500)" stroke="rgba(175,175,175,0.5)" stroke-width="1.5"/>
<circle cx="214.8" cy="1903.1" r="9.7" fill="rgba(232,0,0,0.500)" stroke="rgba(205,25,35,0.62)" stroke-width="1.5"/>
<circle cx="162.4" cy="1982.4" r="6.9" fill="rgba(232,0,0,0.500)" stroke="rgba(205,25,35,0.62)" stroke-width="1.5"/>
<circle cx="197.6" cy="2056.6" r="6.9" fill="rgba(232,0,0,0.500)" stroke="rgba(205,25,35,0.62)" stroke-width="1.5"/>
<circle cx="320.7" cy="2175.2" r="11.4" fill="rgba(232,0,0,0.500)" stroke="rgba(205,25,35,0.62)" stroke-width="1.5"/>
<circle cx="99.3" cy="2233.5" r="7.6" fill="rgba(232,0,0,0.500)" stroke="rgba(205,25,35,0.62)" stroke-width="1.5"/>
<circle cx="269.3" cy="2229.7" r="6.0" fill="rgba(232,0,0,0.500)" stroke="rgba(205,25,35,0.62)" stroke-width="1.5"/>
<circle cx="327.6" cy="2227.9" r="9.7" fill="rgba(232,0,0,0.500)" stroke="rgba(205,25,35,0.62)" stroke-width="1.5"/>
<circle cx="279.6" cy="2251.0" r="7.0" fill="rgba(232,0,0,0.500)" stroke="rgba(205,25,35,0.62)" stroke-width="1.5"/>
<circle cx="287.6" cy="2253.0" r="7.0" fill="rgba(232,0,0,0.500)" stroke="rgba(205,25,35,0.62)" stroke-width="1.5"/>
<circle cx="293.6" cy="2256.0" r="7.0" fill="rgba(232,0,0,0.500)" stroke="rgba(205,25,35,0.62)" stroke-width="1.5"/>
<circle cx="299.6" cy="2257.0" r="5.0" fill="rgba(232,0,0,0.500)" stroke="rgba(205,25,35,0.62)" stroke-width="1.5"/>
<circle cx="288.0" cy="2254.0" r="4.0" fill="rgba(232,0,0,0.500)" stroke="rgba(205,25,35,0.62)" stroke-width="1.5"/>
<circle cx="222.1" cy="2265.0" r="5.0" fill="rgba(232,0,0,0.500)" stroke="rgba(205,25,35,0.62)" stroke-width="1.5"/>
<circle cx="214.7" cy="2290.9" r="6.0" fill="rgba(232,0,0,0.500)" stroke="rgba(205,25,35,0.62)" stroke-width="1.5"/>
<circle cx="312.6" cy="2297.9" r="11.0" fill="rgba(232,0,0,0.500)" stroke="rgba(205,25,35,0.62)" stroke-width="1.5"/>
<circle cx="310.0" cy="2300.0" r="8.0" fill="rgba(232,0,0,0.500)" stroke="rgba(205,25,35,0.62)" stroke-width="1.5"/>
<circle cx="319.6" cy="2292.0" r="8.0" fill="rgba(232,0,0,0.500)" stroke="rgba(205,25,35,0.62)" stroke-width="1.5"/>
<circle cx="305.0" cy="2310.0" r="8.0" fill="rgba(232,0,0,0.500)" stroke="rgba(205,25,35,0.62)" stroke-width="1.5"/>
<circle cx="318.0" cy="2312.0" r="9.0" fill="rgba(232,0,0,0.500)" stroke="rgba(205,25,35,0.62)" stroke-width="1.5"/>
<circle cx="330.0" cy="2310.0" r="7.0" fill="rgba(232,0,0,0.500)" stroke="rgba(205,25,35,0.62)" stroke-width="1.5"/>
<circle cx="308.0" cy="2324.0" r="9.0" fill="rgba(232,0,0,0.500)" stroke="rgba(205,25,35,0.62)" stroke-width="1.5"/>
<circle cx="322.0" cy="2326.0" r="9.0" fill="rgba(232,0,0,0.500)" stroke="rgba(205,25,35,0.62)" stroke-width="1.5"/>
<circle cx="335.0" cy="2322.0" r="7.0" fill="rgba(232,0,0,0.500)" stroke="rgba(205,25,35,0.62)" stroke-width="1.5"/>
<circle cx="312.0" cy="2336.0" r="8.0" fill="rgba(232,0,0,0.500)" stroke="rgba(205,25,35,0.62)" stroke-width="1.5"/>
<circle cx="326.0" cy="2338.0" r="9.0" fill="rgba(232,0,0,0.500)" stroke="rgba(205,25,35,0.62)" stroke-width="1.5"/>
<circle cx="338.0" cy="2336.0" r="7.0" fill="rgba(232,0,0,0.500)" stroke="rgba(205,25,35,0.62)" stroke-width="1.5"/>
<circle cx="201.8" cy="2319.8" r="7.0" fill="rgba(232,0,0,0.500)" stroke="rgba(205,25,35,0.62)" stroke-width="1.5"/>
<circle cx="207.8" cy="2330.8" r="9.0" fill="rgba(232,0,0,0.500)" stroke="rgba(205,25,35,0.62)" stroke-width="1.5"/>
<circle cx="201.8" cy="2333.8" r="6.0" fill="rgba(232,0,0,0.500)" stroke="rgba(205,25,35,0.62)" stroke-width="1.5"/>
<circle cx="223.7" cy="2319.8" r="5.6" fill="rgba(232,0,0,0.500)" stroke="rgba(205,25,35,0.62)" stroke-width="1.5"/>
<circle cx="243.7" cy="2331.8" r="11.0" fill="rgba(232,0,0,0.500)" stroke="rgba(205,25,35,0.62)" stroke-width="1.5"/>
<circle cx="249.7" cy="2339.8" r="9.0" fill="rgba(232,0,0,0.500)" stroke="rgba(205,25,35,0.62)" stroke-width="1.5"/>
<circle cx="239.7" cy="2327.8" r="6.0" fill="rgba(232,0,0,0.500)" stroke="rgba(205,25,35,0.62)" stroke-width="1.5"/>
<circle cx="281.6" cy="2334.8" r="9.0" fill="rgba(232,0,0,0.500)" stroke="rgba(205,25,35,0.62)" stroke-width="1.5"/>
<circle cx="285.6" cy="2331.8" r="6.0" fill="rgba(232,0,0,0.500)" stroke="rgba(205,25,35,0.62)" stroke-width="1.5"/>
<circle cx="253.7" cy="2351.7" r="4.0" fill="rgba(232,0,0,0.500)" stroke="rgba(205,25,35,0.62)" stroke-width="1.5"/>
<circle cx="260.7" cy="2361.7" r="6.0" fill="rgba(232,0,0,0.500)" stroke="rgba(205,25,35,0.62)" stroke-width="1.5"/>
<circle cx="258.0" cy="2358.0" r="4.0" fill="rgba(232,0,0,0.500)" stroke="rgba(205,25,35,0.62)" stroke-width="1.5"/>
<circle cx="279.6" cy="2358.7" r="6.0" fill="rgba(232,0,0,0.500)" stroke="rgba(205,25,35,0.62)" stroke-width="1.5"/>
<circle cx="207.8" cy="2370.7" r="4.4" fill="rgba(232,0,0,0.500)" stroke="rgba(205,25,35,0.62)" stroke-width="1.5"/>
<circle cx="235.7" cy="2373.7" r="5.0" fill="rgba(232,0,0,0.500)" stroke="rgba(205,25,35,0.62)" stroke-width="1.5"/>
<circle cx="269.6" cy="2369.7" r="4.0" fill="rgba(232,0,0,0.500)" stroke="rgba(205,25,35,0.62)" stroke-width="1.5"/>
<circle cx="278.6" cy="2370.7" r="5.0" fill="rgba(232,0,0,0.500)" stroke="rgba(205,25,35,0.62)" stroke-width="1.5"/>
<circle cx="171.8" cy="2373.7" r="7.0" fill="rgba(232,0,0,0.500)" stroke="rgba(205,25,35,0.62)" stroke-width="1.5"/>
<circle cx="173.8" cy="2379.7" r="6.0" fill="rgba(232,0,0,0.500)" stroke="rgba(205,25,35,0.62)" stroke-width="1.5"/>
<circle cx="181.8" cy="2383.7" r="5.0" fill="rgba(232,0,0,0.500)" stroke="rgba(205,25,35,0.62)" stroke-width="1.5"/>
<circle cx="187.8" cy="2384.7" r="4.0" fill="rgba(232,0,0,0.500)" stroke="rgba(205,25,35,0.62)" stroke-width="1.5"/>
<circle cx="165.8" cy="2379.7" r="5.0" fill="rgba(232,0,0,0.500)" stroke="rgba(205,25,35,0.62)" stroke-width="1.5"/>
<circle cx="143.9" cy="2389.7" r="3.0" fill="rgba(232,0,0,0.500)" stroke="rgba(205,25,35,0.62)" stroke-width="1.5"/>
<circle cx="159.8" cy="2403.7" r="3.0" fill="rgba(232,0,0,0.500)" stroke="rgba(205,25,35,0.62)" stroke-width="1.5"/>
<circle cx="172.8" cy="2408.7" r="3.0" fill="rgba(232,0,0,0.500)" stroke="rgba(205,25,35,0.62)" stroke-width="1.5"/>
<circle cx="187.8" cy="2401.7" r="4.0" fill="rgba(232,0,0,0.500)" stroke="rgba(205,25,35,0.62)" stroke-width="1.5"/>
<circle cx="205.8" cy="2407.7" r="3.0" fill="rgba(232,0,0,0.500)" stroke="rgba(205,25,35,0.62)" stroke-width="1.5"/>
<circle cx="300.0" cy="2350.0" r="9.0" fill="rgba(232,0,0,0.500)" stroke="rgba(205,25,35,0.62)" stroke-width="1.5"/>
<circle cx="315.0" cy="2345.0" r="10.0" fill="rgba(232,0,0,0.500)" stroke="rgba(205,25,35,0.62)" stroke-width="1.5"/>
<circle cx="330.0" cy="2342.0" r="10.0" fill="rgba(232,0,0,0.500)" stroke="rgba(205,25,35,0.62)" stroke-width="1.5"/>
<circle cx="345.0" cy="2345.0" r="10.0" fill="rgba(232,0,0,0.500)" stroke="rgba(205,25,35,0.62)" stroke-width="1.5"/>
<circle cx="358.0" cy="2352.0" r="9.0" fill="rgba(232,0,0,0.500)" stroke="rgba(205,25,35,0.62)" stroke-width="1.5"/>
<circle cx="365.0" cy="2362.0" r="8.0" fill="rgba(232,0,0,0.500)" stroke="rgba(205,25,35,0.62)" stroke-width="1.5"/>
<circle cx="290.0" cy="2362.0" r="8.0" fill="rgba(232,0,0,0.500)" stroke="rgba(205,25,35,0.62)" stroke-width="1.5"/>
<circle cx="280.0" cy="2374.0" r="8.0" fill="rgba(232,0,0,0.500)" stroke="rgba(205,25,35,0.62)" stroke-width="1.5"/>
<circle cx="252.0" cy="2388.0" r="9.0" fill="rgba(232,0,0,0.500)" stroke="rgba(205,25,35,0.62)" stroke-width="1.5"/>
<circle cx="240.0" cy="2398.0" r="9.0" fill="rgba(232,0,0,0.500)" stroke="rgba(205,25,35,0.62)" stroke-width="1.5"/>
<circle cx="238.0" cy="2410.0" r="7.0" fill="rgba(232,0,0,0.500)" stroke="rgba(205,25,35,0.62)" stroke-width="1.5"/>
<circle cx="260.0" cy="2410.0" r="9.0" fill="rgba(232,0,0,0.500)" stroke="rgba(205,25,35,0.62)" stroke-width="1.5"/>
<circle cx="340.0" cy="2360.0" r="10.0" fill="rgba(232,0,0,0.500)" stroke="rgba(205,25,35,0.62)" stroke-width="1.5"/>
<circle cx="320.0" cy="2360.0" r="9.0" fill="rgba(232,0,0,0.500)" stroke="rgba(205,25,35,0.62)" stroke-width="1.5"/>
<circle cx="305.0" cy="2365.0" r="8.0" fill="rgba(232,0,0,0.500)" stroke="rgba(205,25,35,0.62)" stroke-width="1.5"/>
<circle cx="357.0" cy="2410.0" r="12.0" fill="rgba(232,0,0,0.500)" stroke="rgba(205,25,35,0.62)" stroke-width="1.5"/>
<circle cx="340.0" cy="2414.0" r="10.0" fill="rgba(232,0,0,0.500)" stroke="rgba(205,25,35,0.62)" stroke-width="1.5"/>
<circle cx="370.0" cy="2400.0" r="8.0" fill="rgba(232,0,0,0.500)" stroke="rgba(205,25,35,0.62)" stroke-width="1.5"/>
<circle cx="215.0" cy="2402.0" r="6.0" fill="rgba(232,0,0,0.500)" stroke="rgba(205,25,35,0.62)" stroke-width="1.5"/>
<circle cx="222.0" cy="2396.0" r="5.0" fill="rgba(232,0,0,0.500)" stroke="rgba(205,25,35,0.62)" stroke-width="1.5"/>
<circle cx="230.0" cy="2390.0" r="5.0" fill="rgba(232,0,0,0.500)" stroke="rgba(205,25,35,0.62)" stroke-width="1.5"/>
<circle cx="300.0" cy="2376.0" r="8.0" fill="rgba(232,0,0,0.500)" stroke="rgba(205,25,35,0.62)" stroke-width="1.5"/>
<circle cx="312.0" cy="2372.0" r="8.0" fill="rgba(232,0,0,0.500)" stroke="rgba(205,25,35,0.62)" stroke-width="1.5"/>
<circle cx="326.0" cy="2370.0" r="8.0" fill="rgba(232,0,0,0.500)" stroke="rgba(205,25,35,0.62)" stroke-width="1.5"/>
<circle cx="340.0" cy="2370.0" r="8.0" fill="rgba(232,0,0,0.500)" stroke="rgba(205,25,35,0.62)" stroke-width="1.5"/>
<circle cx="352.0" cy="2372.0" r="8.0" fill="rgba(232,0,0,0.500)" stroke="rgba(205,25,35,0.62)" stroke-width="1.5"/>
<circle cx="362.0" cy="2378.0" r="8.0" fill="rgba(232,0,0,0.500)" stroke="rgba(205,25,35,0.62)" stroke-width="1.5"/>
<circle cx="370.0" cy="2388.0" r="8.0" fill="rgba(232,0,0,0.500)" stroke="rgba(205,25,35,0.62)" stroke-width="1.5"/>
<circle cx="373.0" cy="2400.0" r="8.0" fill="rgba(232,0,0,0.500)" stroke="rgba(205,25,35,0.62)" stroke-width="1.5"/>
<circle cx="371.0" cy="2411.0" r="8.0" fill="rgba(232,0,0,0.500)" stroke="rgba(205,25,35,0.62)" stroke-width="1.5"/>
<circle cx="362.0" cy="2418.0" r="8.0" fill="rgba(232,0,0,0.500)" stroke="rgba(205,25,35,0.62)" stroke-width="1.5"/>
<circle cx="350.0" cy="2421.0" r="7.0" fill="rgba(232,0,0,0.500)" stroke="rgba(205,25,35,0.62)" stroke-width="1.5"/>
<circle cx="335.0" cy="2421.0" r="7.0" fill="rgba(232,0,0,0.500)" stroke="rgba(205,25,35,0.62)" stroke-width="1.5"/>
<circle cx="320.0" cy="2420.0" r="7.0" fill="rgba(232,0,0,0.500)" stroke="rgba(205,25,35,0.62)" stroke-width="1.5"/>
<circle cx="305.0" cy="2418.0" r="7.0" fill="rgba(232,0,0,0.500)" stroke="rgba(205,25,35,0.62)" stroke-width="1.5"/>
<circle cx="290.0" cy="2416.0" r="7.0" fill="rgba(232,0,0,0.500)" stroke="rgba(205,25,35,0.62)" stroke-width="1.5"/>
<circle cx="276.0" cy="2414.0" r="6.0" fill="rgba(232,0,0,0.500)" stroke="rgba(205,25,35,0.62)" stroke-width="1.5"/>
<circle cx="262.0" cy="2413.0" r="6.0" fill="rgba(232,0,0,0.500)" stroke="rgba(205,25,35,0.62)" stroke-width="1.5"/>
<circle cx="248.0" cy="2412.0" r="6.0" fill="rgba(232,0,0,0.500)" stroke="rgba(205,25,35,0.62)" stroke-width="1.5"/>
<circle cx="236.0" cy="2408.0" r="6.0" fill="rgba(232,0,0,0.500)" stroke="rgba(205,25,35,0.62)" stroke-width="1.5"/>
<circle cx="236.0" cy="2398.0" r="6.0" fill="rgba(232,0,0,0.500)" stroke="rgba(205,25,35,0.62)" stroke-width="1.5"/>
<circle cx="248.0" cy="2392.0" r="6.0" fill="rgba(232,0,0,0.500)" stroke="rgba(205,25,35,0.62)" stroke-width="1.5"/>
<circle cx="262.0" cy="2390.0" r="6.0" fill="rgba(232,0,0,0.500)" stroke="rgba(205,25,35,0.62)" stroke-width="1.5"/>
<circle cx="280.0" cy="2390.0" r="6.0" fill="rgba(232,0,0,0.500)" stroke="rgba(205,25,35,0.62)" stroke-width="1.5"/>
<circle cx="296.0" cy="2384.0" r="6.0" fill="rgba(232,0,0,0.500)" stroke="rgba(205,25,35,0.62)" stroke-width="1.5"/>
<circle cx="600.0" cy="1814.8" r="11.4" fill="rgba(0,150,25,0.500)" stroke="rgba(20,140,40,0.62)" stroke-width="1.5"/>
<circle cx="443.5" cy="2336.1" r="6.1" fill="rgba(0,150,25,0.500)" stroke="rgba(20,140,40,0.62)" stroke-width="1.5"/>
<circle cx="452.3" cy="2336.1" r="6.1" fill="rgba(0,150,25,0.500)" stroke="rgba(20,140,40,0.62)" stroke-width="1.5"/>
<circle cx="470.2" cy="2331.4" r="6.1" fill="rgba(0,150,25,0.500)" stroke="rgba(20,140,40,0.62)" stroke-width="1.5"/>
<circle cx="471.6" cy="2359.8" r="6.1" fill="rgba(0,150,25,0.500)" stroke="rgba(20,140,40,0.62)" stroke-width="1.5"/>
<circle cx="454.0" cy="2366.8" r="6.1" fill="rgba(0,150,25,0.500)" stroke="rgba(20,140,40,0.62)" stroke-width="1.5"/>
<circle cx="451.9" cy="2375.6" r="5.0" fill="rgba(0,150,25,0.500)" stroke="rgba(20,140,40,0.62)" stroke-width="1.5"/>
<circle cx="459.8" cy="2388.8" r="7.0" fill="rgba(0,150,25,0.500)" stroke="rgba(20,140,40,0.62)" stroke-width="1.5"/>
<circle cx="479.0" cy="2391.0" r="5.0" fill="rgba(0,150,25,0.500)" stroke="rgba(20,140,40,0.62)" stroke-width="1.5"/>
<circle cx="496.1" cy="2393.2" r="7.9" fill="rgba(0,150,25,0.500)" stroke="rgba(20,140,40,0.62)" stroke-width="1.5"/>
<circle cx="509.3" cy="2378.8" r="6.1" fill="rgba(0,150,25,0.500)" stroke="rgba(20,140,40,0.62)" stroke-width="1.5"/>
<circle cx="509.8" cy="2404.9" r="4.0" fill="rgba(0,150,25,0.500)" stroke="rgba(20,140,40,0.62)" stroke-width="1.5"/>
<circle cx="461.4" cy="2406.0" r="5.3" fill="rgba(0,150,25,0.500)" stroke="rgba(20,140,40,0.62)" stroke-width="1.5"/>
<circle cx="443.5" cy="2400.2" r="4.4" fill="rgba(0,150,25,0.500)" stroke="rgba(20,140,40,0.62)" stroke-width="1.5"/>
<circle cx="437.4" cy="2386.1" r="7.9" fill="rgba(0,150,25,0.500)" stroke="rgba(20,140,40,0.62)" stroke-width="1.5"/>
<circle cx="419.0" cy="2383.0" r="7.0" fill="rgba(0,150,25,0.500)" stroke="rgba(20,140,40,0.62)" stroke-width="1.5"/>
<circle cx="408.0" cy="2390.0" r="9.0" fill="rgba(0,150,25,0.500)" stroke="rgba(20,140,40,0.62)" stroke-width="1.5"/>
<circle cx="412.0" cy="2405.0" r="9.0" fill="rgba(0,150,25,0.500)" stroke="rgba(20,140,40,0.62)" stroke-width="1.5"/>
<circle cx="428.0" cy="2405.0" r="8.0" fill="rgba(0,150,25,0.500)" stroke="rgba(20,140,40,0.62)" stroke-width="1.5"/>
<circle cx="435.0" cy="2395.0" r="7.0" fill="rgba(0,150,25,0.500)" stroke="rgba(20,140,40,0.62)" stroke-width="1.5"/>
<circle cx="539.6" cy="2404.6" r="4.4" fill="rgba(0,150,25,0.500)" stroke="rgba(20,140,40,0.62)" stroke-width="1.5"/>
<circle cx="547.5" cy="2409.8" r="4.4" fill="rgba(0,150,25,0.500)" stroke="rgba(20,140,40,0.62)" stroke-width="1.5"/>
<circle cx="555.8" cy="2403.7" r="5.3" fill="rgba(0,150,25,0.500)" stroke="rgba(20,140,40,0.62)" stroke-width="1.5"/>
<circle cx="562.8" cy="2404.6" r="4.4" fill="rgba(0,150,25,0.500)" stroke="rgba(20,140,40,0.62)" stroke-width="1.5"/>
<circle cx="566.0" cy="2404.6" r="3.5" fill="rgba(0,150,25,0.500)" stroke="rgba(20,140,40,0.62)" stroke-width="1.5"/>
<line x1="383.3" y1="1785.3" x2="383.3" y2="2453.2" stroke="#8a8a8a" stroke-width="3.4"/>
<line x1="73.8" y1="2409.6" x2="624.0" y2="2409.6" stroke="#808080" stroke-width="3" stroke-dasharray="14 14.2"/>
<line x1="134.0" y1="2345.0" x2="170.0" y2="2370.0" stroke="#999" stroke-width="2" stroke-opacity="0.8"/>
<line x1="198.0" y1="2364.0" x2="208.0" y2="2370.0" stroke="#999" stroke-width="2" stroke-opacity="0.8"/>
<line x1="262.0" y1="2325.0" x2="285.0" y2="2318.0" stroke="#999" stroke-width="2" stroke-opacity="0.8"/>
<line x1="268.0" y1="2355.0" x2="290.0" y2="2368.0" stroke="#999" stroke-width="2" stroke-opacity="0.8"/>
<line x1="246.0" y1="2342.0" x2="258.0" y2="2352.0" stroke="#999" stroke-width="2" stroke-opacity="0.8"/>
</g>
<g>
<rect x="563.6" y="1794.5" width="58.6" height="18" fill="#fff" fill-opacity="0.50"/>
<text x="566.6" y="1809.0" font-size="16.3" fill="#333">THBS2</text>
<rect x="177.3" y="1904.1" width="60.4" height="18" fill="#fff" fill-opacity="0.50"/>
<text x="180.3" y="1918.6" font-size="16.3" fill="#333">L1CAM</text>
<rect x="127.3" y="1984.1" width="56.8" height="18" fill="#fff" fill-opacity="0.50"/>
<text x="130.3" y="1998.6" font-size="16.3" fill="#333">LOXL1</text>
<rect x="162.9" y="2058.3" width="57.1" height="18" fill="#fff" fill-opacity="0.50"/>
<text x="165.9" y="2072.8" font-size="16.3" fill="#333">GATA3</text>
<rect x="287.7" y="2177.2" width="51.4" height="18" fill="#fff" fill-opacity="0.50"/>
<text x="290.7" y="2191.7" font-size="16.3" fill="#333">OXTR</text>
<rect x="74.6" y="2214.1" width="78.6" height="18" fill="#fff" fill-opacity="0.50"/>
<text x="77.6" y="2228.6" font-size="16.3" fill="#333">GALNT14</text>
<rect x="228.4" y="2210.0" width="68.6" height="18" fill="#fff" fill-opacity="0.50"/>
<text x="231.4" y="2224.5" font-size="16.3" fill="#333">PLXNA2</text>
<rect x="303.2" y="2208.3" width="71.3" height="18" fill="#fff" fill-opacity="0.50"/>
<text x="306.2" y="2222.8" font-size="16.3" fill="#333">EFEMP1</text>
<rect x="237.7" y="2232.5" width="60.4" height="18" fill="#fff" fill-opacity="0.50"/>
<text x="240.7" y="2247.0" font-size="16.3" fill="#333">CCBE1</text>
<rect x="295.2" y="2238.5" width="56.5" height="18" fill="#fff" fill-opacity="0.50"/>
<text x="298.2" y="2253.0" font-size="16.3" fill="#333">KRT18</text>
<rect x="177.2" y="2245.4" width="50.4" height="18" fill="#fff" fill-opacity="0.50"/>
<text x="180.2" y="2259.9" font-size="16.3" fill="#333">MYLK</text>
<rect x="225.3" y="2253.0" width="62.2" height="18" fill="#fff" fill-opacity="0.50"/>
<text x="228.3" y="2267.5" font-size="16.3" fill="#333">SAMD9</text>
<rect x="284.6" y="2259.4" width="92.2" height="18" fill="#fff" fill-opacity="0.50"/>
<text x="287.6" y="2273.9" font-size="16.3" fill="#333">RAP1GAP2</text>
<rect x="170.2" y="2271.4" width="76.5" height="18" fill="#fff" fill-opacity="0.50"/>
<text x="173.2" y="2285.9" font-size="16.3" fill="#333">FAM110B</text>
<rect x="263.6" y="2276.4" width="64.1" height="18" fill="#fff" fill-opacity="0.50"/>
<text x="266.6" y="2290.9" font-size="16.3" fill="#333">IGFBP3</text>
<rect x="324.5" y="2288.0" width="52.3" height="18" fill="#fff" fill-opacity="0.50"/>
<text x="327.5" y="2302.5" font-size="16.3" fill="#333">EVI2A</text>
<rect x="214.3" y="2293.3" width="55.0" height="18" fill="#fff" fill-opacity="0.50"/>
<text x="217.3" y="2307.8" font-size="16.3" fill="#333">MYLIP</text>
<rect x="175.8" y="2301.3" width="40.5" height="18" fill="#fff" fill-opacity="0.50"/>
<text x="178.8" y="2315.8" font-size="16.3" fill="#333">WT1</text>
<rect x="286.0" y="2304.7" width="58.6" height="18" fill="#fff" fill-opacity="0.50"/>
<text x="289.0" y="2319.2" font-size="16.3" fill="#333">SSTR2</text>
<rect x="226.3" y="2310.7" width="62.2" height="18" fill="#fff" fill-opacity="0.50"/>
<text x="229.3" y="2325.2" font-size="16.3" fill="#333">PNMA2</text>
<rect x="115.5" y="2317.9" width="88.6" height="18" fill="#fff" fill-opacity="0.50"/>
<text x="118.5" y="2332.4" font-size="16.3" fill="#333">LINC00839</text>
<rect x="297.6" y="2321.9" width="60.4" height="18" fill="#fff" fill-opacity="0.50"/>
<text x="300.6" y="2336.4" font-size="16.3" fill="#333">MTSS1</text>
<rect x="75.4" y="2334.3" width="61.4" height="18" fill="#fff" fill-opacity="0.50"/>
<text x="78.4" y="2348.8" font-size="16.3" fill="#333">ANOS1</text>
<rect x="196.8" y="2337.3" width="47.5" height="18" fill="#fff" fill-opacity="0.50"/>
<text x="199.8" y="2351.8" font-size="16.3" fill="#333">KRT8</text>
<rect x="257.7" y="2338.9" width="45.6" height="18" fill="#fff" fill-opacity="0.50"/>
<text x="260.7" y="2353.4" font-size="16.3" fill="#333">PLAT</text>
<rect x="300.2" y="2338.9" width="39.6" height="18" fill="#fff" fill-opacity="0.50"/>
<text x="303.2" y="2353.4" font-size="16.3" fill="#333">DSP</text>
<rect x="121.3" y="2352.2" width="78.1" height="18" fill="#fff" fill-opacity="0.50"/>
<text x="124.3" y="2366.7" font-size="16.3" fill="#333">FLG−AS1</text>
<rect x="209.7" y="2354.2" width="49.6" height="18" fill="#fff" fill-opacity="0.50"/>
<text x="212.7" y="2368.7" font-size="16.3" fill="#333">OAS3</text>
<rect x="293.0" y="2355.6" width="97.2" height="18" fill="#fff" fill-opacity="0.50"/>
<text x="296.0" y="2370.1" font-size="16.3" fill="#333">LOXL1−AS1</text>
<rect x="121.3" y="2368.2" width="49.6" height="18" fill="#fff" fill-opacity="0.50"/>
<text x="124.3" y="2382.7" font-size="16.3" fill="#333">OAS1</text>
<rect x="250.7" y="2370.8" width="44.1" height="18" fill="#fff" fill-opacity="0.50"/>
<text x="253.7" y="2385.3" font-size="16.3" fill="#333">IFIT1</text>
<rect x="192.2" y="2374.8" width="63.2" height="18" fill="#fff" fill-opacity="0.50"/>
<text x="195.2" y="2389.3" font-size="16.3" fill="#333">MYO7B</text>
<rect x="90.0" y="2388.2" width="55.9" height="18" fill="#fff" fill-opacity="0.50"/>
<text x="93.0" y="2402.7" font-size="16.3" fill="#333">SYT17</text>
<rect x="144.9" y="2385.2" width="49.6" height="18" fill="#fff" fill-opacity="0.50"/>
<text x="147.9" y="2399.7" font-size="16.3" fill="#333">OAS2</text>
<rect x="250.7" y="2388.2" width="71.3" height="18" fill="#fff" fill-opacity="0.50"/>
<text x="253.7" y="2402.7" font-size="16.3" fill="#333">ADAM23</text>
<rect x="192.2" y="2391.2" width="41.4" height="18" fill="#fff" fill-opacity="0.50"/>
<text x="195.2" y="2405.7" font-size="16.3" fill="#333">PGR</text>
<rect x="115.9" y="2405.1" width="58.6" height="18" fill="#fff" fill-opacity="0.50"/>
<text x="118.9" y="2419.6" font-size="16.3" fill="#333">NR2E1</text>
<rect x="183.2" y="2409.5" width="77.7" height="18" fill="#fff" fill-opacity="0.50"/>
<text x="186.2" y="2424.0" font-size="16.3" fill="#333">COL19A1</text>
<rect x="137.9" y="2422.1" width="46.8" height="18" fill="#fff" fill-opacity="0.50"/>
<text x="140.9" y="2436.6" font-size="16.3" fill="#333">ETV7</text>
<rect x="537.0" y="2383.0" width="74.0" height="18" fill="#fff" fill-opacity="0.50"/>
<text x="540.0" y="2397.5" font-size="16.3" fill="#333">ARMCX3</text>
</g>
<line x1="74.8" y1="1785.3" x2="74.8" y2="2454.8" stroke="#000" stroke-width="3.3"/>
<line x1="73.2" y1="2453.2" x2="624.0" y2="2453.2" stroke="#000" stroke-width="3.3"/>
<line x1="94.5" y1="2453.2" x2="94.5" y2="2457.7" stroke="#333" stroke-width="2"/>
<text x="94.5" y="2474.2" text-anchor="middle" font-size="20.3" fill="#222">−15</text>
<line x1="190.7" y1="2453.2" x2="190.7" y2="2457.7" stroke="#333" stroke-width="2"/>
<text x="190.7" y="2474.2" text-anchor="middle" font-size="20.3" fill="#222">−10</text>
<line x1="286.9" y1="2453.2" x2="286.9" y2="2457.7" stroke="#333" stroke-width="2"/>
<text x="286.9" y="2474.2" text-anchor="middle" font-size="20.3" fill="#222">−5</text>
<line x1="383.1" y1="2453.2" x2="383.1" y2="2457.7" stroke="#333" stroke-width="2"/>
<text x="383.1" y="2474.2" text-anchor="middle" font-size="20.3" fill="#222">0</text>
<line x1="479.3" y1="2453.2" x2="479.3" y2="2457.7" stroke="#333" stroke-width="2"/>
<text x="479.3" y="2474.2" text-anchor="middle" font-size="20.3" fill="#222">5</text>
<line x1="575.5" y1="2453.2" x2="575.5" y2="2457.7" stroke="#333" stroke-width="2"/>
<text x="575.5" y="2474.2" text-anchor="middle" font-size="20.3" fill="#222">10</text>
<line x1="69.3" y1="1799.3" x2="74.8" y2="1799.3" stroke="#333" stroke-width="2"/>
<text x="70.3" y="1804.3" text-anchor="end" font-size="20.3" fill="#222">10<tspan font-size="11.5" dy="-6.8">-30</tspan></text>
<line x1="69.3" y1="1944.6" x2="74.8" y2="1944.6" stroke="#333" stroke-width="2"/>
<text x="70.3" y="1949.6" text-anchor="end" font-size="20.3" fill="#222">10<tspan font-size="11.5" dy="-6.8">-23</tspan></text>
<line x1="69.3" y1="2089.9" x2="74.8" y2="2089.9" stroke="#333" stroke-width="2"/>
<text x="70.3" y="2094.9" text-anchor="end" font-size="20.3" fill="#222">10<tspan font-size="11.5" dy="-6.8">-16</tspan></text>
<line x1="69.3" y1="2235.2" x2="74.8" y2="2235.2" stroke="#333" stroke-width="2"/>
<text x="70.3" y="2240.2" text-anchor="end" font-size="20.3" fill="#222">10<tspan font-size="11.5" dy="-6.8">-9</tspan></text>
<line x1="69.3" y1="2380.5" x2="74.8" y2="2380.5" stroke="#333" stroke-width="2"/>
<text x="70.3" y="2385.7" text-anchor="end" font-size="20.3" fill="#222">0.01</text>
<line x1="69.3" y1="2409.5" x2="74.8" y2="2409.5" stroke="#333" stroke-width="2"/>
<text x="70.3" y="2414.7" text-anchor="end" font-size="20.3" fill="#222">0.25</text>
</g>
<g>
<text x="700.7" y="1761.8" font-size="26.6" fill="#000">MSigDB Hallmarks</text>
<text transform="translate(649.3,2094.0) rotate(-90)" text-anchor="middle" font-size="21.8" fill="#000">Adjusted p−value (FDR)</text>
<text x="1010.0" y="2508.0" text-anchor="middle" font-size="26.5" fill="#000">log2FoldChange</text>
<clipPath id="cpc2"><rect x="701.0" y="1783.3" width="553.0" height="669.9"/></clipPath>
<g clip-path="url(#cpc2)">
<path d="M1066.0,2380.0 C1069.7,2376.3 1081.8,2374.3 1090.0,2374.0 C1098.2,2373.7 1109.2,2375.3 1115.0,2378.0 C1120.8,2380.7 1125.8,2386.0 1125.0,2390.0 C1124.2,2394.0 1116.7,2399.7 1110.0,2402.0 C1103.3,2404.3 1092.0,2405.0 1085.0,2404.0 C1078.0,2403.0 1071.2,2400.0 1068.0,2396.0 C1064.8,2392.0 1062.3,2383.7 1066.0,2380.0 Z" fill="#e00000" fill-opacity="0.75"/>
<circle cx="1083.4" cy="2423.3" r="18.0" fill="rgba(192,192,192,0.500)" stroke="rgba(175,175,175,0.5)" stroke-width="1.5"/>
<circle cx="1123.3" cy="2430.6" r="20.0" fill="rgba(192,192,192,0.500)" stroke="rgba(175,175,175,0.5)" stroke-width="1.5"/>
<circle cx="1150.0" cy="2432.0" r="18.0" fill="rgba(192,192,192,0.500)" stroke="rgba(175,175,175,0.5)" stroke-width="1.5"/>
<circle cx="1177.8" cy="2428.8" r="18.0" fill="rgba(192,192,192,0.500)" stroke="rgba(175,175,175,0.5)" stroke-width="1.5"/>
<circle cx="1214.0" cy="2416.0" r="14.5" fill="rgba(192,192,192,0.500)" stroke="rgba(175,175,175,0.5)" stroke-width="1.5"/>
<circle cx="1225.0" cy="2416.0" r="11.0" fill="rgba(192,192,192,0.500)" stroke="rgba(175,175,175,0.5)" stroke-width="1.5"/>
<circle cx="1100.0" cy="2432.0" r="16.0" fill="rgba(192,192,192,0.500)" stroke="rgba(175,175,175,0.5)" stroke-width="1.5"/>
<circle cx="1060.0" cy="2425.0" r="12.0" fill="rgba(192,192,192,0.500)" stroke="rgba(175,175,175,0.5)" stroke-width="1.5"/>
<circle cx="1200.0" cy="2438.0" r="14.0" fill="rgba(192,192,192,0.500)" stroke="rgba(175,175,175,0.5)" stroke-width="1.5"/>
<circle cx="725.3" cy="1814.7" r="16.3" fill="rgba(232,0,0,0.500)" stroke="rgba(205,25,35,0.62)" stroke-width="1.5"/>
<circle cx="896.8" cy="1954.9" r="24.0" fill="rgba(232,0,0,0.500)" stroke="rgba(205,25,35,0.62)" stroke-width="1.5"/>
<circle cx="1103.4" cy="2292.7" r="20.9" fill="rgba(232,0,0,0.500)" stroke="rgba(205,25,35,0.62)" stroke-width="1.5"/>
<circle cx="1072.5" cy="2336.2" r="14.5" fill="rgba(232,0,0,0.500)" stroke="rgba(205,25,35,0.62)" stroke-width="1.5"/>
<circle cx="1108.8" cy="2354.4" r="21.8" fill="rgba(232,0,0,0.500)" stroke="rgba(205,25,35,0.62)" stroke-width="1.5"/>
<circle cx="1014.4" cy="2361.6" r="21.8" fill="rgba(232,0,0,0.500)" stroke="rgba(205,25,35,0.62)" stroke-width="1.5"/>
<circle cx="1029.0" cy="2372.5" r="14.5" fill="rgba(232,0,0,0.500)" stroke="rgba(205,25,35,0.62)" stroke-width="1.5"/>
<circle cx="1061.6" cy="2376.2" r="18.0" fill="rgba(232,0,0,0.500)" stroke="rgba(205,25,35,0.62)" stroke-width="1.5"/>
<circle cx="1090.7" cy="2387.0" r="21.8" fill="rgba(232,0,0,0.500)" stroke="rgba(205,25,35,0.62)" stroke-width="1.5"/>
<circle cx="1119.7" cy="2383.4" r="21.8" fill="rgba(232,0,0,0.500)" stroke="rgba(205,25,35,0.62)" stroke-width="1.5"/>
<circle cx="1076.2" cy="2398.0" r="21.8" fill="rgba(232,0,0,0.500)" stroke="rgba(205,25,35,0.62)" stroke-width="1.5"/>
<circle cx="1087.0" cy="2412.4" r="18.0" fill="rgba(232,0,0,0.500)" stroke="rgba(205,25,35,0.62)" stroke-width="1.5"/>
<circle cx="1050.0" cy="2360.0" r="16.0" fill="rgba(232,0,0,0.500)" stroke="rgba(205,25,35,0.62)" stroke-width="1.5"/>
<circle cx="1125.0" cy="2365.0" r="16.0" fill="rgba(232,0,0,0.500)" stroke="rgba(205,25,35,0.62)" stroke-width="1.5"/>
<circle cx="1100.0" cy="2372.0" r="18.0" fill="rgba(232,0,0,0.500)" stroke="rgba(205,25,35,0.62)" stroke-width="1.5"/>
<circle cx="1045.0" cy="2385.0" r="14.0" fill="rgba(232,0,0,0.500)" stroke="rgba(205,25,35,0.62)" stroke-width="1.5"/>
<circle cx="1130.0" cy="2395.0" r="14.0" fill="rgba(232,0,0,0.500)" stroke="rgba(205,25,35,0.62)" stroke-width="1.5"/>
<circle cx="1100.0" cy="2415.0" r="14.0" fill="rgba(232,0,0,0.500)" stroke="rgba(205,25,35,0.62)" stroke-width="1.5"/>
<circle cx="1119.7" cy="2405.0" r="14.5" fill="rgba(232,0,0,0.500)" stroke="rgba(205,25,35,0.62)" stroke-width="1.5"/>
<circle cx="1080.0" cy="2385.0" r="12.0" fill="rgba(232,0,0,0.500)" stroke="rgba(205,25,35,0.62)" stroke-width="1.5"/>
<circle cx="1095.0" cy="2392.0" r="12.0" fill="rgba(232,0,0,0.500)" stroke="rgba(205,25,35,0.62)" stroke-width="1.5"/>
<circle cx="1105.0" cy="2398.0" r="10.0" fill="rgba(232,0,0,0.500)" stroke="rgba(205,25,35,0.62)" stroke-width="1.5"/>
<circle cx="1072.0" cy="2390.0" r="10.0" fill="rgba(232,0,0,0.500)" stroke="rgba(205,25,35,0.62)" stroke-width="1.5"/>
<circle cx="1060.0" cy="2400.0" r="14.0" fill="rgba(232,0,0,0.500)" stroke="rgba(205,25,35,0.62)" stroke-width="1.5"/>
<circle cx="1000.0" cy="2360.0" r="10.0" fill="rgba(232,0,0,0.500)" stroke="rgba(205,25,35,0.62)" stroke-width="1.5"/>
<circle cx="1226.8" cy="2283.6" r="24.5" fill="rgba(0,150,25,0.500)" stroke="rgba(20,140,40,0.62)" stroke-width="1.5"/>
<circle cx="1217.7" cy="2327.2" r="24.5" fill="rgba(0,150,25,0.500)" stroke="rgba(20,140,40,0.62)" stroke-width="1.5"/>
<circle cx="1232.2" cy="2330.8" r="10.0" fill="rgba(0,150,25,0.500)" stroke="rgba(20,140,40,0.62)" stroke-width="1.5"/>
<circle cx="1235.0" cy="2335.0" r="8.0" fill="rgba(0,150,25,0.500)" stroke="rgba(20,140,40,0.62)" stroke-width="1.5"/>
<circle cx="1199.6" cy="2365.3" r="21.8" fill="rgba(0,150,25,0.500)" stroke="rgba(20,140,40,0.62)" stroke-width="1.5"/>
<circle cx="1205.0" cy="2378.0" r="12.0" fill="rgba(0,150,25,0.500)" stroke="rgba(20,140,40,0.62)" stroke-width="1.5"/>
<circle cx="1171.4" cy="2405.2" r="21.8" fill="rgba(0,150,25,0.500)" stroke="rgba(20,140,40,0.62)" stroke-width="1.5"/>
<circle cx="1177.0" cy="2405.0" r="14.5" fill="rgba(0,150,25,0.500)" stroke="rgba(20,140,40,0.62)" stroke-width="1.5"/>
<line x1="1149.6" y1="1785.3" x2="1149.6" y2="2453.2" stroke="#8a8a8a" stroke-width="3.4"/>
<line x1="700.0" y1="2411.6" x2="1251.0" y2="2411.6" stroke="#808080" stroke-width="3" stroke-dasharray="14 14.2"/>
<line x1="898.0" y1="2337.0" x2="1000.0" y2="2358.0" stroke="#999" stroke-width="2" stroke-opacity="0.8"/>
<line x1="887.0" y1="2358.0" x2="1000.0" y2="2366.0" stroke="#999" stroke-width="2" stroke-opacity="0.8"/>
<line x1="971.0" y1="2409.0" x2="990.0" y2="2398.0" stroke="#999" stroke-width="2" stroke-opacity="0.8"/>
<line x1="1055.0" y1="2325.0" x2="1075.0" y2="2340.0" stroke="#999" stroke-width="2" stroke-opacity="0.8"/>
</g>
<g>
<rect x="728.1" y="1805.6" width="199.4" height="18" fill="#fff" fill-opacity="0.50"/>
<text x="731.1" y="1820.1" font-size="16.3" fill="#333">Interferon Alpha Response</text>
<rect x="786.2" y="1956.6" width="216.6" height="18" fill="#fff" fill-opacity="0.50"/>
<text x="789.2" y="1971.1" font-size="16.3" fill="#333">Interferon Gamma Response</text>
<rect x="1032.4" y="2275.3" width="132.2" height="18" fill="#fff" fill-opacity="0.50"/>
<text x="1035.4" y="2289.8" font-size="16.3" fill="#333">UV Response Dn</text>
<rect x="1162.1" y="2266.4" width="93.8" height="18" fill="#fff" fill-opacity="0.50"/>
<text x="1165.1" y="2280.9" font-size="16.3" fill="#333">E2F Targets</text>
<rect x="1003.4" y="2306.2" width="65.0" height="18" fill="#fff" fill-opacity="0.50"/>
<text x="1006.4" y="2320.7" font-size="16.3" fill="#333">Hypoxia</text>
<rect x="1065.3" y="2308.2" width="195.8" height="18" fill="#fff" fill-opacity="0.50"/>
<text x="1068.3" y="2322.7" font-size="16.3" fill="#333">Oxidative Phosphorylation</text>
<rect x="734.3" y="2325.6" width="162.9" height="18" fill="#fff" fill-opacity="0.50"/>
<text x="737.3" y="2340.1" font-size="16.3" fill="#333">IL−2/STAT5 Signaling</text>
<rect x="906.6" y="2320.9" width="153.1" height="18" fill="#fff" fill-opacity="0.50"/>
<text x="909.6" y="2335.4" font-size="16.3" fill="#333">Hedgehog Signaling</text>
<rect x="1084.7" y="2325.6" width="137.2" height="18" fill="#fff" fill-opacity="0.50"/>
<text x="1087.7" y="2340.1" font-size="16.3" fill="#333">G2−M Checkpoint</text>
<rect x="708.8" y="2346.9" width="178.5" height="18" fill="#fff" fill-opacity="0.50"/>
<text x="711.8" y="2361.4" font-size="16.3" fill="#333">Inflammatory Response</text>
<rect x="879.5" y="2342.2" width="252.9" height="18" fill="#fff" fill-opacity="0.50"/>
<text x="882.5" y="2356.7" font-size="16.3" fill="#333">Epithelial Mesenchymal Transition</text>
<rect x="1138.9" y="2342.2" width="118.2" height="18" fill="#fff" fill-opacity="0.50"/>
<text x="1141.9" y="2356.7" font-size="16.3" fill="#333">Myc Targets V1</text>
<rect x="829.9" y="2363.5" width="197.4" height="18" fill="#fff" fill-opacity="0.50"/>
<text x="832.9" y="2378.0" font-size="16.3" fill="#333">IL−6/JAK/STAT3 Signaling</text>
<rect x="1142.0" y="2363.5" width="121.3" height="18" fill="#fff" fill-opacity="0.50"/>
<text x="1145.0" y="2378.0" font-size="16.3" fill="#333">Response Early</text>
<rect x="1048.7" y="2363.5" width="98.6" height="18" fill="#fff" fill-opacity="0.50"/>
<text x="1051.7" y="2378.0" font-size="16.3" fill="#333">Complement</text>
<rect x="938.3" y="2381.0" width="138.6" height="18" fill="#fff" fill-opacity="0.50"/>
<text x="941.3" y="2395.5" font-size="16.3" fill="#333">Allograft Rejection</text>
<rect x="1095.1" y="2384.8" width="147.6" height="18" fill="#fff" fill-opacity="0.50"/>
<text x="1098.1" y="2399.3" font-size="16.3" fill="#333">KRAS Signaling Up</text>
<rect x="864.0" y="2398.0" width="111.3" height="18" fill="#fff" fill-opacity="0.50"/>
<text x="867.0" y="2412.5" font-size="16.3" fill="#333">Apical Surface</text>
<rect x="970.1" y="2401.9" width="104.1" height="18" fill="#fff" fill-opacity="0.50"/>
<text x="973.1" y="2416.4" font-size="16.3" fill="#333">Angiogenesis</text>
<rect x="1068.0" y="2401.9" width="93.1" height="18" fill="#fff" fill-opacity="0.50"/>
<text x="1071.0" y="2416.4" font-size="16.3" fill="#333">Myogenesis</text>
</g>
<line x1="701.0" y1="1785.3" x2="701.0" y2="2454.8" stroke="#000" stroke-width="3.3"/>
<line x1="699.4" y1="2453.2" x2="1251.0" y2="2453.2" stroke="#000" stroke-width="3.3"/>
<line x1="827.9" y1="2453.2" x2="827.9" y2="2457.7" stroke="#333" stroke-width="2"/>
<text x="827.9" y="2474.2" text-anchor="middle" font-size="20.3" fill="#222">−2</text>
<line x1="989.0" y1="2453.2" x2="989.0" y2="2457.7" stroke="#333" stroke-width="2"/>
<text x="989.0" y="2474.2" text-anchor="middle" font-size="20.3" fill="#222">−1</text>
<line x1="1149.6" y1="2453.2" x2="1149.6" y2="2457.7" stroke="#333" stroke-width="2"/>
<text x="1149.6" y="2474.2" text-anchor="middle" font-size="20.3" fill="#222">0</text>
<line x1="695.5" y1="1815.3" x2="701.0" y2="1815.3" stroke="#333" stroke-width="2"/>
<text x="693.8" y="1822.2" text-anchor="end" font-size="20.3" fill="#222">10<tspan font-size="11.5" dy="-6.8">-70</tspan></text>
<line x1="695.5" y1="1945.5" x2="701.0" y2="1945.5" stroke="#333" stroke-width="2"/>
<text x="693.8" y="1952.4" text-anchor="end" font-size="20.3" fill="#222">10<tspan font-size="11.5" dy="-6.8">-55</tspan></text>
<line x1="695.5" y1="2075.7" x2="701.0" y2="2075.7" stroke="#333" stroke-width="2"/>
<text x="693.8" y="2082.6" text-anchor="end" font-size="20.3" fill="#222">10<tspan font-size="11.5" dy="-6.8">-40</tspan></text>
<line x1="695.5" y1="2205.9" x2="701.0" y2="2205.9" stroke="#333" stroke-width="2"/>
<text x="693.8" y="2212.8" text-anchor="end" font-size="20.3" fill="#222">10<tspan font-size="11.5" dy="-6.8">-25</tspan></text>
<line x1="695.5" y1="2336.0" x2="701.0" y2="2336.0" stroke="#333" stroke-width="2"/>
<text x="693.8" y="2342.9" text-anchor="end" font-size="20.3" fill="#222">10<tspan font-size="11.5" dy="-6.8">-10</tspan></text>
<line x1="695.5" y1="2411.6" x2="701.0" y2="2411.6" stroke="#333" stroke-width="2"/>
<text x="693.5" y="2417.6" text-anchor="end" font-size="20.3" fill="#222">0.05</text>
</g>
<g>
<text x="1327.7" y="1761.8" font-size="26.6" fill="#000">DoRothEA TF regulons</text>
<text transform="translate(1279.7,2094.0) rotate(-90)" text-anchor="middle" font-size="21.8" fill="#000">Adjusted p−value (FDR)</text>
<text x="1636.8" y="2508.0" text-anchor="middle" font-size="26.5" fill="#000">log2FoldChange</text>
<clipPath id="cpc3"><rect x="1327.8" y="1783.3" width="552.2" height="670.1"/></clipPath>
<g clip-path="url(#cpc3)">
<path d="M1566.0,2412.0 C1569.7,2408.0 1587.7,2404.7 1600.0,2404.0 C1612.3,2403.3 1626.7,2407.0 1640.0,2408.0 C1653.3,2409.0 1672.3,2408.0 1680.0,2410.0 C1687.7,2412.0 1687.3,2416.0 1686.0,2420.0 C1684.7,2424.0 1677.2,2429.5 1672.0,2434.0 C1666.8,2438.5 1662.3,2444.3 1655.0,2447.0 C1647.7,2449.7 1636.3,2451.2 1628.0,2450.0 C1619.7,2448.8 1613.3,2443.7 1605.0,2440.0 C1596.7,2436.3 1584.5,2432.7 1578.0,2428.0 C1571.5,2423.3 1562.3,2416.0 1566.0,2412.0 Z" fill="#d4d4d4" fill-opacity="1.00"/>
<circle cx="1500.3" cy="2409.8" r="10.8" fill="rgba(192,192,192,0.500)" stroke="rgba(175,175,175,0.5)" stroke-width="1.5"/>
<circle cx="1576.0" cy="2409.8" r="13.5" fill="rgba(192,192,192,0.500)" stroke="rgba(175,175,175,0.5)" stroke-width="1.5"/>
<circle cx="1599.0" cy="2415.5" r="17.4" fill="rgba(192,192,192,0.500)" stroke="rgba(175,175,175,0.5)" stroke-width="1.5"/>
<circle cx="1626.0" cy="2415.5" r="23.0" fill="rgba(192,192,192,0.500)" stroke="rgba(175,175,175,0.5)" stroke-width="1.5"/>
<circle cx="1638.0" cy="2427.0" r="27.0" fill="rgba(192,192,192,0.500)" stroke="rgba(175,175,175,0.5)" stroke-width="1.5"/>
<circle cx="1582.0" cy="2420.0" r="11.6" fill="rgba(192,192,192,0.500)" stroke="rgba(175,175,175,0.5)" stroke-width="1.5"/>
<circle cx="1682.3" cy="2409.8" r="8.5" fill="rgba(192,192,192,0.500)" stroke="rgba(175,175,175,0.5)" stroke-width="1.5"/>
<circle cx="1850.7" cy="2417.5" r="9.7" fill="rgba(192,192,192,0.500)" stroke="rgba(175,175,175,0.5)" stroke-width="1.5"/>
<circle cx="1610.0" cy="2432.0" r="15.0" fill="rgba(192,192,192,0.500)" stroke="rgba(175,175,175,0.5)" stroke-width="1.5"/>
<circle cx="1525.5" cy="1813.6" r="27.9" fill="rgba(232,0,0,0.500)" stroke="rgba(205,25,35,0.62)" stroke-width="1.5"/>
<circle cx="1576.6" cy="2270.4" r="21.3" fill="rgba(232,0,0,0.500)" stroke="rgba(205,25,35,0.62)" stroke-width="1.5"/>
<circle cx="1525.5" cy="2285.9" r="10.8" fill="rgba(232,0,0,0.500)" stroke="rgba(205,25,35,0.62)" stroke-width="1.5"/>
<circle cx="1352.4" cy="2320.7" r="9.7" fill="rgba(232,0,0,0.500)" stroke="rgba(205,25,35,0.62)" stroke-width="1.5"/>
<circle cx="1562.2" cy="2322.7" r="17.4" fill="rgba(232,0,0,0.500)" stroke="rgba(205,25,35,0.62)" stroke-width="1.5"/>
<circle cx="1597.1" cy="2322.7" r="17.4" fill="rgba(232,0,0,0.500)" stroke="rgba(205,25,35,0.62)" stroke-width="1.5"/>
<circle cx="1583.6" cy="2345.9" r="17.4" fill="rgba(232,0,0,0.500)" stroke="rgba(205,25,35,0.62)" stroke-width="1.5"/>
<circle cx="1603.0" cy="2353.6" r="17.4" fill="rgba(232,0,0,0.500)" stroke="rgba(205,25,35,0.62)" stroke-width="1.5"/>
<circle cx="1539.0" cy="2338.0" r="11.6" fill="rgba(232,0,0,0.500)" stroke="rgba(205,25,35,0.62)" stroke-width="1.5"/>
<circle cx="1529.4" cy="2361.4" r="13.5" fill="rgba(232,0,0,0.500)" stroke="rgba(205,25,35,0.62)" stroke-width="1.5"/>
<circle cx="1579.7" cy="2361.4" r="13.5" fill="rgba(232,0,0,0.500)" stroke="rgba(205,25,35,0.62)" stroke-width="1.5"/>
<circle cx="1603.0" cy="2365.2" r="15.5" fill="rgba(232,0,0,0.500)" stroke="rgba(205,25,35,0.62)" stroke-width="1.5"/>
<circle cx="1490.0" cy="2360.0" r="9.7" fill="rgba(232,0,0,0.500)" stroke="rgba(205,25,35,0.62)" stroke-width="1.5"/>
<circle cx="1529.4" cy="2360.0" r="9.7" fill="rgba(232,0,0,0.500)" stroke="rgba(205,25,35,0.62)" stroke-width="1.5"/>
<circle cx="1556.5" cy="2380.7" r="9.7" fill="rgba(232,0,0,0.500)" stroke="rgba(205,25,35,0.62)" stroke-width="1.5"/>
<circle cx="1576.0" cy="2373.0" r="11.6" fill="rgba(232,0,0,0.500)" stroke="rgba(205,25,35,0.62)" stroke-width="1.5"/>
<circle cx="1603.0" cy="2376.8" r="12.0" fill="rgba(232,0,0,0.500)" stroke="rgba(205,25,35,0.62)" stroke-width="1.5"/>
<circle cx="1590.0" cy="2355.0" r="10.0" fill="rgba(232,0,0,0.500)" stroke="rgba(205,25,35,0.62)" stroke-width="1.5"/>
<circle cx="1605.0" cy="2365.0" r="9.0" fill="rgba(232,0,0,0.500)" stroke="rgba(205,25,35,0.62)" stroke-width="1.5"/>
<circle cx="1670.7" cy="2311.0" r="25.2" fill="rgba(0,150,25,0.500)" stroke="rgba(20,140,40,0.62)" stroke-width="1.5"/>
<circle cx="1641.6" cy="2359.4" r="17.4" fill="rgba(0,150,25,0.500)" stroke="rgba(20,140,40,0.62)" stroke-width="1.5"/>
<circle cx="1649.4" cy="2386.5" r="31.0" fill="rgba(0,150,25,0.500)" stroke="rgba(20,140,40,0.62)" stroke-width="1.5"/>
<line x1="1629.2" y1="1785.3" x2="1629.2" y2="2453.4" stroke="#8a8a8a" stroke-width="3.4"/>
<line x1="1326.8" y1="2382.6" x2="1877.0" y2="2382.6" stroke="#808080" stroke-width="3" stroke-dasharray="14 14.2"/>
</g>
<g>
<rect x="1479.9" y="1816.5" width="78.9" height="18" fill="#fff" fill-opacity="0.50"/>
<text x="1482.9" y="1831.0" font-size="16.3" fill="#333">STAT1 (a)</text>
<rect x="1551.5" y="2252.0" width="73.1" height="18" fill="#fff" fill-opacity="0.50"/>
<text x="1554.5" y="2266.5" font-size="16.3" fill="#333">ESR1 (a)</text>
<rect x="1443.9" y="2285.7" width="85.8" height="18" fill="#fff" fill-opacity="0.50"/>
<text x="1446.9" y="2300.2" font-size="16.3" fill="#333">FOXO3 (a)</text>
<rect x="1330.1" y="2301.6" width="65.9" height="18" fill="#fff" fill-opacity="0.50"/>
<text x="1333.1" y="2316.1" font-size="16.3" fill="#333">IRF1 (a)</text>
<rect x="1523.7" y="2303.5" width="65.9" height="18" fill="#fff" fill-opacity="0.50"/>
<text x="1526.7" y="2318.0" font-size="16.3" fill="#333">SPI1 (a)</text>
<rect x="1586.4" y="2306.2" width="53.2" height="18" fill="#fff" fill-opacity="0.50"/>
<text x="1589.4" y="2320.7" font-size="16.3" fill="#333">AR (a)</text>
<rect x="1649.5" y="2315.1" width="69.5" height="18" fill="#fff" fill-opacity="0.50"/>
<text x="1652.5" y="2329.6" font-size="16.3" fill="#333">E2F4 (a)</text>
<rect x="1515.5" y="2322.9" width="61.4" height="18" fill="#fff" fill-opacity="0.50"/>
<text x="1518.5" y="2337.4" font-size="16.3" fill="#333">SP3 (a)</text>
<rect x="1590.2" y="2327.5" width="62.2" height="18" fill="#fff" fill-opacity="0.50"/>
<text x="1593.2" y="2342.0" font-size="16.3" fill="#333">JUN (a)</text>
<rect x="1432.7" y="2339.9" width="86.7" height="18" fill="#fff" fill-opacity="0.50"/>
<text x="1435.7" y="2354.4" font-size="16.3" fill="#333">SMAD3 (a)</text>
<rect x="1532.2" y="2343.0" width="61.4" height="18" fill="#fff" fill-opacity="0.50"/>
<text x="1535.2" y="2357.5" font-size="16.3" fill="#333">SP1 (a)</text>
<rect x="1651.0" y="2343.0" width="90.4" height="18" fill="#fff" fill-opacity="0.50"/>
<text x="1654.0" y="2357.5" font-size="16.3" fill="#333">TFAP2A (a)</text>
<rect x="1387.0" y="2356.6" width="86.4" height="18" fill="#fff" fill-opacity="0.50"/>
<text x="1390.0" y="2371.1" font-size="16.3" fill="#333">PPARG (a)</text>
<rect x="1469.4" y="2364.3" width="75.0" height="18" fill="#fff" fill-opacity="0.50"/>
<text x="1472.4" y="2378.8" font-size="16.3" fill="#333">RARA (a)</text>
<rect x="1541.8" y="2360.4" width="69.2" height="18" fill="#fff" fill-opacity="0.50"/>
<text x="1544.8" y="2374.9" font-size="16.3" fill="#333">ATF2 (a)</text>
<rect x="1608.4" y="2360.4" width="74.0" height="18" fill="#fff" fill-opacity="0.50"/>
<text x="1611.4" y="2374.9" font-size="16.3" fill="#333">CTCF (a)</text>
<rect x="1445.0" y="2381.5" width="81.6" height="18" fill="#fff" fill-opacity="0.50"/>
<text x="1448.0" y="2396.0" font-size="16.3" fill="#333">GATA2 (a)</text>
<rect x="1520.6" y="2385.5" width="70.4" height="18" fill="#fff" fill-opacity="0.50"/>
<text x="1523.6" y="2400.0" font-size="16.3" fill="#333">ELK1 (a)</text>
<rect x="1588.3" y="2381.0" width="78.9" height="18" fill="#fff" fill-opacity="0.50"/>
<text x="1591.3" y="2395.5" font-size="16.3" fill="#333">STAT3 (a)</text>
<rect x="1661.9" y="2377.8" width="66.8" height="18" fill="#fff" fill-opacity="0.50"/>
<text x="1664.9" y="2392.3" font-size="16.3" fill="#333">MYC (a)</text>
</g>
<line x1="1327.8" y1="1785.3" x2="1327.8" y2="2455.0" stroke="#000" stroke-width="3.3"/>
<line x1="1326.2" y1="2453.4" x2="1877.0" y2="2453.4" stroke="#000" stroke-width="3.3"/>
<line x1="1363.2" y1="2453.4" x2="1363.2" y2="2457.9" stroke="#333" stroke-width="2"/>
<text x="1363.2" y="2474.4" text-anchor="middle" font-size="20.3" fill="#222">−2</text>
<line x1="1496.0" y1="2453.4" x2="1496.0" y2="2457.9" stroke="#333" stroke-width="2"/>
<text x="1496.0" y="2474.4" text-anchor="middle" font-size="20.3" fill="#222">−1</text>
<line x1="1628.8" y1="2453.4" x2="1628.8" y2="2457.9" stroke="#333" stroke-width="2"/>
<text x="1628.8" y="2474.4" text-anchor="middle" font-size="20.3" fill="#222">0</text>
<line x1="1761.6" y1="2453.4" x2="1761.6" y2="2457.9" stroke="#333" stroke-width="2"/>
<text x="1761.6" y="2474.4" text-anchor="middle" font-size="20.3" fill="#222">1</text>
<line x1="1322.3" y1="1801.1" x2="1327.8" y2="1801.1" stroke="#333" stroke-width="2"/>
<text x="1320.6" y="1808.0" text-anchor="end" font-size="20.3" fill="#222">10<tspan font-size="11.5" dy="-6.8">-20</tspan></text>
<line x1="1322.3" y1="1956.6" x2="1327.8" y2="1956.6" stroke="#333" stroke-width="2"/>
<text x="1320.6" y="1963.5" text-anchor="end" font-size="20.3" fill="#222">10<tspan font-size="11.5" dy="-6.8">-15</tspan></text>
<line x1="1322.3" y1="2112.1" x2="1327.8" y2="2112.1" stroke="#333" stroke-width="2"/>
<text x="1320.6" y="2119.0" text-anchor="end" font-size="20.3" fill="#222">10<tspan font-size="11.5" dy="-6.8">-10</tspan></text>
<line x1="1322.3" y1="2267.6" x2="1327.8" y2="2267.6" stroke="#333" stroke-width="2"/>
<text x="1320.6" y="2274.5" text-anchor="end" font-size="20.3" fill="#222">10<tspan font-size="11.5" dy="-6.8">-5</tspan></text>
<line x1="1322.3" y1="2382.6" x2="1327.8" y2="2382.6" stroke="#333" stroke-width="2"/>
<text x="1320.3" y="2388.6" text-anchor="end" font-size="20.3" fill="#222">0.05</text>
<line x1="1322.3" y1="2423.1" x2="1327.8" y2="2423.1" stroke="#333" stroke-width="2"/>
<text x="1320.3" y="2429.1" text-anchor="end" font-size="20.3" fill="#222">1</text>
</g>
</svg></body></html>
